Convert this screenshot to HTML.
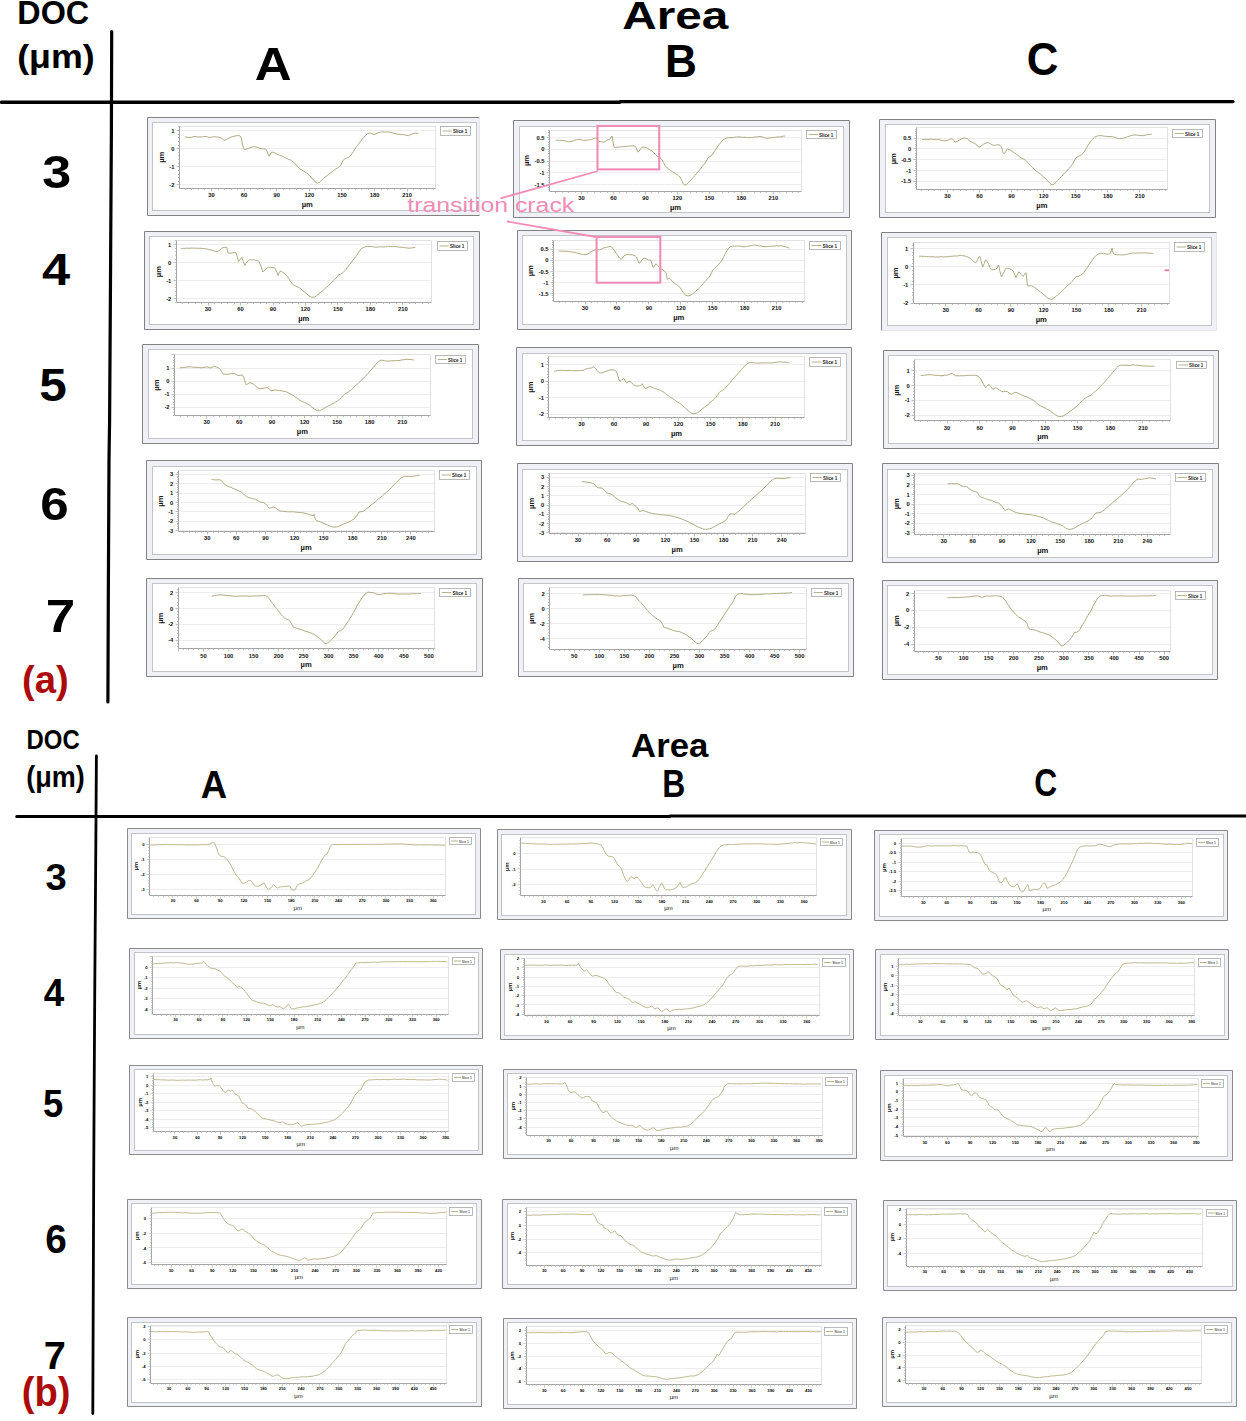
<!DOCTYPE html><html><head><meta charset="utf-8"><style>html,body{margin:0;padding:0;background:#fff;}svg{display:block;}</style></head><body>
<svg width="1246" height="1421" viewBox="0 0 1246 1421">
<rect width="1246" height="1421" fill="#fff"/>
<rect x="147.5" y="117.5" width="332.0" height="98.0" fill="#eff1f6" stroke="none"/>
<path d="M147.5 215.5V117.5H479.5" fill="none" stroke="#828282" stroke-width="1"/>
<path d="M479.5 117.5V215.5" fill="none" stroke="#e6e6e6" stroke-width="1"/>
<path d="M147.5 215.5H479.5" fill="none" stroke="#828282" stroke-width="1"/>
<rect x="152.5" y="122.5" width="324.0" height="88.0" fill="#fff" stroke="#c3c4c9" stroke-width="1"/>
<path d="M179.5 130.5H435.5" stroke="#ededed" stroke-width="1"/>
<path d="M179.5 148.5H435.5" stroke="#ededed" stroke-width="1"/>
<path d="M179.5 166.5H435.5" stroke="#ededed" stroke-width="1"/>
<path d="M179.5 184.5H435.5" stroke="#ededed" stroke-width="1"/>
<path d="M179.5 126.5H435.5V188.5" fill="none" stroke="#e2e2e2" stroke-width="1"/>
<path d="M179.5 126.5V188.5H435.5" fill="none" stroke="#a4a4a4" stroke-width="1"/>
<path d="M178.0 126.5H179.5M176.5 130.5H179.5M178.0 134.5H179.5M178.0 137.5H179.5M178.0 141.5H179.5M178.0 145.5H179.5M176.5 148.5H179.5M178.0 152.5H179.5M178.0 155.5H179.5M178.0 159.5H179.5M178.0 163.5H179.5M176.5 166.5H179.5M178.0 170.5H179.5M178.0 174.5H179.5M178.0 177.5H179.5M178.0 181.5H179.5M176.5 184.5H179.5M185.5 188.5V190.0M191.5 188.5V190.0M198.5 188.5V190.0M204.5 188.5V190.0M211.5 188.5V191.5M218.5 188.5V190.0M224.5 188.5V190.0M231.5 188.5V190.0M237.5 188.5V190.0M244.5 188.5V191.5M250.5 188.5V190.0M257.5 188.5V190.0M263.5 188.5V190.0M270.5 188.5V190.0M276.5 188.5V191.5M283.5 188.5V190.0M289.5 188.5V190.0M296.5 188.5V190.0M302.5 188.5V190.0M309.5 188.5V191.5M315.5 188.5V190.0M322.5 188.5V190.0M328.5 188.5V190.0M335.5 188.5V190.0M341.5 188.5V191.5M348.5 188.5V190.0M355.5 188.5V190.0M361.5 188.5V190.0M368.5 188.5V190.0M374.5 188.5V191.5M381.5 188.5V190.0M387.5 188.5V190.0M394.5 188.5V190.0M400.5 188.5V190.0M407.5 188.5V191.5M413.5 188.5V190.0M420.5 188.5V190.0M426.5 188.5V190.0M433.5 188.5V190.0" stroke="#b0b0b0" stroke-width="0.8"/>
<g font-family="Liberation Sans" font-size="5.8" fill="#111" font-weight="bold"><text x="174.5" y="132.6" text-anchor="end">1</text><text x="174.5" y="150.7" text-anchor="end">0</text><text x="174.5" y="168.9" text-anchor="end">-1</text><text x="174.5" y="187.0" text-anchor="end">-2</text><text x="211.5" y="196.6" text-anchor="middle">30</text><text x="244.1" y="196.6" text-anchor="middle">60</text><text x="276.7" y="196.6" text-anchor="middle">90</text><text x="309.4" y="196.6" text-anchor="middle">120</text><text x="342.0" y="196.6" text-anchor="middle">150</text><text x="374.6" y="196.6" text-anchor="middle">180</text><text x="407.2" y="196.6" text-anchor="middle">210</text></g>
<text x="307.2" y="206.5" text-anchor="middle" font-family="Liberation Sans" font-size="7.6" font-weight="bold" fill="#111">µm</text>
<text transform="translate(163.8,157.3) rotate(-90)" x="0" y="0" text-anchor="middle" font-family="Liberation Sans" font-size="7.6" font-weight="bold" fill="#1a1a1a">µm</text>
<rect x="440.5" y="126.5" width="30.0" height="9.0" fill="#fff" stroke="#a8a8a8" stroke-width="0.8"/>
<path d="M442.6 131.0H451.9" stroke="#aeaa80" stroke-width="0.9"/>
<text x="453.1" y="133.0" font-family="Liberation Sans" font-size="5.6" textLength="14.1" lengthAdjust="spacingAndGlyphs" font-weight="bold" fill="#1a1a1a">Slice 1</text>
<path d="M184.9 137.0 L186.2 137.0 L188.1 137.5 L190.0 137.5 L191.7 137.3 L193.3 136.7 L195.0 136.5 L196.7 136.7 L198.3 137.0 L200.0 137.0 L201.7 137.1 L203.3 136.5 L205.0 136.5 L206.7 136.6 L208.3 137.2 L210.0 137.3 L211.7 137.2 L213.3 136.8 L215.0 136.8 L216.7 136.8 L218.4 137.2 L220.0 137.5 L221.6 138.4 L223.1 139.6 L224.7 140.2 L226.4 139.7 L228.2 138.4 L230.0 137.5 L231.7 136.8 L233.4 136.5 L235.0 136.0 L237.1 135.6 L238.8 135.7 L240.1 135.9 L241.0 137.0 L241.5 139.1 L242.0 142.0 L242.8 145.9 L244.0 149.2 L245.7 149.5 L248.0 148.5 L249.4 147.9 L251.0 147.5 L252.7 146.8 L254.3 146.6 L256.3 147.1 L258.2 147.7 L260.0 148.5 L261.9 148.7 L263.7 148.9 L265.2 149.2 L266.3 149.7 L267.0 151.0 L268.0 153.8 L269.0 156.2 L270.0 155.0 L271.0 153.0 L272.1 152.2 L273.5 152.4 L274.8 152.9 L276.2 153.5 L278.0 154.5 L279.5 155.2 L281.3 155.8 L283.1 156.6 L285.0 157.5 L286.6 158.5 L288.4 159.3 L290.2 159.8 L291.9 160.9 L293.4 162.0 L295.5 164.0 L297.4 166.4 L299.2 168.4 L301.2 169.6 L303.1 170.9 L305.0 172.0 L306.6 173.0 L308.2 174.4 L310.0 176.0 L311.7 178.0 L313.5 180.0 L315.4 182.0 L317.3 183.0 L318.8 182.7 L320.2 181.8 L321.7 180.1 L323.3 178.6 L325.0 177.0 L326.6 175.9 L328.3 174.5 L330.1 173.2 L331.9 171.9 L333.6 170.6 L335.0 169.5 L337.3 168.1 L339.0 166.9 L340.5 165.6 L341.9 162.7 L343.4 159.9 L344.8 159.0 L346.5 158.1 L348.3 157.5 L349.9 156.2 L351.7 154.0 L353.4 151.5 L355.0 149.0 L356.6 146.6 L358.2 144.5 L360.0 142.0 L361.7 139.9 L363.7 137.6 L365.6 135.5 L367.2 133.8 L369.2 133.0 L370.8 133.1 L372.3 134.0 L374.0 134.5 L375.5 134.1 L377.3 133.0 L379.5 132.4 L381.1 132.0 L382.8 131.8 L384.7 132.1 L386.5 132.1 L388.2 132.0 L390.1 132.2 L391.9 132.9 L393.7 133.2 L395.4 133.8 L397.1 134.1 L398.7 134.2 L400.4 134.5 L402.0 134.5 L403.7 134.7 L405.4 135.1 L407.0 135.5 L408.4 135.7 L410.4 134.8 L412.0 134.0 L413.8 133.5 L415.6 133.1 L417.3 133.4 L418.5 133.6" fill="none" stroke="#aeaa80" stroke-width="1.0" stroke-linejoin="round"/>
<rect x="513.5" y="120.5" width="336.0" height="97.0" fill="#eff1f6" stroke="none"/>
<path d="M513.5 217.5V120.5H849.5" fill="none" stroke="#828282" stroke-width="1"/>
<path d="M849.5 120.5V217.5" fill="none" stroke="#828282" stroke-width="1"/>
<path d="M513.5 217.5H849.5" fill="none" stroke="#828282" stroke-width="1"/>
<rect x="519.5" y="126.5" width="324.0" height="86.0" fill="#fff" stroke="#c3c4c9" stroke-width="1"/>
<path d="M549.5 137.5H801.5" stroke="#ededed" stroke-width="1"/>
<path d="M549.5 149.5H801.5" stroke="#ededed" stroke-width="1"/>
<path d="M549.5 161.5H801.5" stroke="#ededed" stroke-width="1"/>
<path d="M549.5 172.5H801.5" stroke="#ededed" stroke-width="1"/>
<path d="M549.5 184.5H801.5" stroke="#ededed" stroke-width="1"/>
<path d="M549.5 130.5H801.5V191.5" fill="none" stroke="#e2e2e2" stroke-width="1"/>
<path d="M549.5 130.5V191.5H801.5" fill="none" stroke="#a4a4a4" stroke-width="1"/>
<path d="M548.0 130.5H549.5M548.0 132.5H549.5M548.0 135.5H549.5M546.5 137.5H549.5M548.0 139.5H549.5M548.0 142.5H549.5M548.0 144.5H549.5M548.0 146.5H549.5M546.5 149.5H549.5M548.0 151.5H549.5M548.0 153.5H549.5M548.0 156.5H549.5M548.0 158.5H549.5M546.5 161.5H549.5M548.0 163.5H549.5M548.0 165.5H549.5M548.0 168.5H549.5M548.0 170.5H549.5M546.5 172.5H549.5M548.0 175.5H549.5M548.0 177.5H549.5M548.0 180.5H549.5M548.0 182.5H549.5M546.5 184.5H549.5M548.0 187.5H549.5M548.0 189.5H549.5M555.5 191.5V193.0M562.5 191.5V193.0M568.5 191.5V193.0M575.5 191.5V193.0M581.5 191.5V194.5M587.5 191.5V193.0M594.5 191.5V193.0M600.5 191.5V193.0M607.5 191.5V193.0M613.5 191.5V194.5M619.5 191.5V193.0M626.5 191.5V193.0M632.5 191.5V193.0M639.5 191.5V193.0M645.5 191.5V194.5M651.5 191.5V193.0M658.5 191.5V193.0M664.5 191.5V193.0M671.5 191.5V193.0M677.5 191.5V194.5M683.5 191.5V193.0M690.5 191.5V193.0M696.5 191.5V193.0M702.5 191.5V193.0M709.5 191.5V194.5M715.5 191.5V193.0M722.5 191.5V193.0M728.5 191.5V193.0M734.5 191.5V193.0M741.5 191.5V194.5M747.5 191.5V193.0M754.5 191.5V193.0M760.5 191.5V193.0M766.5 191.5V193.0M773.5 191.5V194.5M779.5 191.5V193.0M786.5 191.5V193.0M792.5 191.5V193.0M798.5 191.5V193.0" stroke="#b0b0b0" stroke-width="0.8"/>
<g font-family="Liberation Sans" font-size="5.8" fill="#111" font-weight="bold"><text x="544.6" y="139.5" text-anchor="end">0.5</text><text x="544.6" y="151.3" text-anchor="end">0</text><text x="544.6" y="163.2" text-anchor="end">-0.5</text><text x="544.6" y="175.0" text-anchor="end">-1</text><text x="544.6" y="186.9" text-anchor="end">-1.5</text><text x="581.5" y="199.6" text-anchor="middle">30</text><text x="613.5" y="199.6" text-anchor="middle">60</text><text x="645.4" y="199.6" text-anchor="middle">90</text><text x="677.4" y="199.6" text-anchor="middle">120</text><text x="709.4" y="199.6" text-anchor="middle">150</text><text x="741.3" y="199.6" text-anchor="middle">180</text><text x="773.3" y="199.6" text-anchor="middle">210</text></g>
<text x="675.5" y="209.5" text-anchor="middle" font-family="Liberation Sans" font-size="7.6" font-weight="bold" fill="#111">µm</text>
<text transform="translate(529.0,160.5) rotate(-90)" x="0" y="0" text-anchor="middle" font-family="Liberation Sans" font-size="7.6" font-weight="bold" fill="#1a1a1a">µm</text>
<rect x="806.5" y="130.5" width="30.0" height="8.0" fill="#fff" stroke="#a8a8a8" stroke-width="0.8"/>
<path d="M808.6 134.5H817.9" stroke="#aeaa80" stroke-width="0.9"/>
<text x="819.1" y="136.5" font-family="Liberation Sans" font-size="5.6" textLength="14.1" lengthAdjust="spacingAndGlyphs" font-weight="bold" fill="#1a1a1a">Slice 1</text>
<path d="M555.5 140.2 L556.6 140.2 L558.2 140.2 L560.1 140.3 L562.0 140.5 L563.5 140.6 L565.1 141.1 L566.7 141.3 L568.4 141.6 L570.0 141.5 L571.6 141.2 L573.2 140.8 L574.9 140.2 L576.5 139.7 L578.0 139.5 L579.8 139.5 L581.6 139.8 L583.3 140.4 L585.0 140.3 L586.8 140.3 L588.7 139.9 L590.5 139.6 L592.0 139.2 L594.2 138.4 L595.8 138.1 L597.2 139.3 L598.7 141.0 L600.3 141.7 L602.2 142.0 L603.8 142.1 L605.3 141.5 L606.7 140.3 L608.6 139.5 L610.3 138.8 L611.3 136.7 L612.1 136.0 L612.9 141.3 L613.9 146.8 L615.6 147.6 L618.0 147.0 L619.5 147.0 L621.3 146.7 L623.2 146.7 L625.0 146.5 L626.8 146.4 L628.7 146.1 L630.5 145.9 L632.0 146.0 L634.0 145.8 L635.5 146.5 L636.8 149.5 L638.1 152.2 L639.9 150.0 L642.1 147.2 L643.9 147.2 L645.9 147.6 L647.9 148.6 L649.9 149.8 L651.9 151.0 L653.6 152.6 L655.5 154.5 L657.3 156.2 L659.5 157.3 L661.6 159.1 L663.4 162.4 L665.2 165.6 L666.8 167.6 L668.8 169.2 L670.2 170.2 L671.8 171.3 L673.5 172.4 L675.0 173.5 L676.8 174.4 L678.4 175.6 L680.0 177.0 L681.5 179.8 L682.9 183.1 L684.5 185.0 L686.2 184.8 L688.0 183.1 L690.0 181.0 L691.6 179.4 L693.3 177.4 L695.1 175.2 L697.0 173.0 L698.6 171.2 L700.4 169.1 L702.1 166.6 L703.7 164.6 L705.0 163.0 L706.8 160.1 L708.0 158.0 L709.8 156.6 L712.0 155.0 L713.4 153.0 L714.9 150.7 L716.5 148.2 L718.0 146.0 L719.8 143.6 L721.4 141.6 L723.0 140.0 L725.0 138.8 L727.0 138.0 L728.5 137.8 L730.1 137.6 L732.0 137.5 L733.4 137.6 L734.9 137.2 L736.5 137.1 L738.2 136.9 L740.0 137.0 L741.6 137.2 L743.2 137.3 L744.9 137.2 L746.6 137.5 L748.3 137.6 L750.0 137.5 L751.7 137.5 L753.5 137.3 L755.3 136.9 L757.0 136.9 L758.6 136.5 L760.0 136.5 L762.0 136.9 L763.5 137.3 L765.0 138.0 L766.6 138.3 L768.1 138.0 L770.0 138.0 L771.4 137.7 L773.0 137.7 L774.7 137.3 L776.4 137.1 L778.0 137.0 L780.0 136.9 L782.0 136.5 L783.8 136.0 L785.0 136.0" fill="none" stroke="#aeaa80" stroke-width="1.0" stroke-linejoin="round"/>
<rect x="879.5" y="119.5" width="336.0" height="98.0" fill="#eff1f6" stroke="none"/>
<path d="M879.5 217.5V119.5H1215.5" fill="none" stroke="#828282" stroke-width="1"/>
<path d="M1215.5 119.5V217.5" fill="none" stroke="#828282" stroke-width="1"/>
<path d="M879.5 217.5H1215.5" fill="none" stroke="#828282" stroke-width="1"/>
<rect x="885.5" y="124.5" width="324.0" height="88.0" fill="#fff" stroke="#c3c4c9" stroke-width="1"/>
<path d="M916.5 138.5H1167.5" stroke="#ededed" stroke-width="1"/>
<path d="M916.5 148.5H1167.5" stroke="#ededed" stroke-width="1"/>
<path d="M916.5 159.5H1167.5" stroke="#ededed" stroke-width="1"/>
<path d="M916.5 170.5H1167.5" stroke="#ededed" stroke-width="1"/>
<path d="M916.5 181.5H1167.5" stroke="#ededed" stroke-width="1"/>
<path d="M916.5 127.5H1167.5V189.5" fill="none" stroke="#e2e2e2" stroke-width="1"/>
<path d="M916.5 127.5V189.5H1167.5" fill="none" stroke="#a4a4a4" stroke-width="1"/>
<path d="M915.0 129.5H916.5M915.0 131.5H916.5M915.0 133.5H916.5M915.0 135.5H916.5M913.5 138.5H916.5M915.0 140.5H916.5M915.0 142.5H916.5M915.0 144.5H916.5M915.0 146.5H916.5M913.5 148.5H916.5M915.0 150.5H916.5M915.0 153.5H916.5M915.0 155.5H916.5M915.0 157.5H916.5M913.5 159.5H916.5M915.0 161.5H916.5M915.0 163.5H916.5M915.0 166.5H916.5M915.0 168.5H916.5M913.5 170.5H916.5M915.0 172.5H916.5M915.0 174.5H916.5M915.0 176.5H916.5M915.0 179.5H916.5M913.5 181.5H916.5M915.0 183.5H916.5M915.0 185.5H916.5M915.0 187.5H916.5M921.5 189.5V191.0M928.5 189.5V191.0M934.5 189.5V191.0M940.5 189.5V191.0M947.5 189.5V192.5M953.5 189.5V191.0M960.5 189.5V191.0M966.5 189.5V191.0M973.5 189.5V191.0M979.5 189.5V192.5M985.5 189.5V191.0M992.5 189.5V191.0M998.5 189.5V191.0M1005.5 189.5V191.0M1011.5 189.5V192.5M1017.5 189.5V191.0M1024.5 189.5V191.0M1030.5 189.5V191.0M1037.5 189.5V191.0M1043.5 189.5V192.5M1050.5 189.5V191.0M1056.5 189.5V191.0M1062.5 189.5V191.0M1069.5 189.5V191.0M1075.5 189.5V192.5M1082.5 189.5V191.0M1088.5 189.5V191.0M1094.5 189.5V191.0M1101.5 189.5V191.0M1107.5 189.5V192.5M1114.5 189.5V191.0M1120.5 189.5V191.0M1127.5 189.5V191.0M1133.5 189.5V191.0M1139.5 189.5V192.5M1146.5 189.5V191.0M1152.5 189.5V191.0M1159.5 189.5V191.0M1165.5 189.5V191.0" stroke="#b0b0b0" stroke-width="0.8"/>
<g font-family="Liberation Sans" font-size="5.8" fill="#111" font-weight="bold"><text x="911.2" y="140.1" text-anchor="end">0.5</text><text x="911.2" y="150.9" text-anchor="end">0</text><text x="911.2" y="161.7" text-anchor="end">-0.5</text><text x="911.2" y="172.6" text-anchor="end">-1</text><text x="911.2" y="183.4" text-anchor="end">-1.5</text><text x="947.4" y="198.0" text-anchor="middle">30</text><text x="979.5" y="198.0" text-anchor="middle">60</text><text x="1011.6" y="198.0" text-anchor="middle">90</text><text x="1043.7" y="198.0" text-anchor="middle">120</text><text x="1075.7" y="198.0" text-anchor="middle">150</text><text x="1107.8" y="198.0" text-anchor="middle">180</text><text x="1139.9" y="198.0" text-anchor="middle">210</text></g>
<text x="1041.9" y="207.9" text-anchor="middle" font-family="Liberation Sans" font-size="7.6" font-weight="bold" fill="#111">µm</text>
<text transform="translate(895.6,158.7) rotate(-90)" x="0" y="0" text-anchor="middle" font-family="Liberation Sans" font-size="7.6" font-weight="bold" fill="#1a1a1a">µm</text>
<rect x="1172.5" y="129.5" width="30.0" height="8.0" fill="#fff" stroke="#a8a8a8" stroke-width="0.8"/>
<path d="M1174.6 133.5H1183.9" stroke="#aeaa80" stroke-width="0.9"/>
<text x="1185.1" y="135.5" font-family="Liberation Sans" font-size="5.6" textLength="14.1" lengthAdjust="spacingAndGlyphs" font-weight="bold" fill="#1a1a1a">Slice 1</text>
<path d="M922.0 139.4 L923.0 139.4 L924.4 139.4 L926.0 139.3 L927.8 139.5 L929.7 139.2 L931.6 139.1 L933.4 139.5 L935.1 139.4 L936.5 139.4 L938.6 139.5 L940.4 140.0 L942.0 140.4 L943.6 140.7 L945.1 140.9 L947.1 140.4 L949.1 139.8 L950.8 139.0 L952.3 138.9 L953.9 140.6 L955.2 142.3 L957.2 141.4 L959.6 140.0 L961.4 138.9 L963.3 138.1 L965.3 138.0 L967.3 138.8 L969.3 140.6 L971.1 141.8 L973.4 142.8 L975.5 143.8 L977.4 145.9 L979.2 147.2 L981.2 146.1 L983.3 144.4 L985.0 143.4 L986.8 142.8 L988.5 142.6 L990.5 143.8 L992.8 145.2 L994.5 145.3 L996.5 145.0 L998.5 144.9 L1000.0 145.2 L1001.5 147.2 L1002.3 150.1 L1003.3 152.8 L1004.4 153.9 L1005.7 151.5 L1007.2 149.0 L1009.3 149.5 L1011.6 151.0 L1013.8 152.5 L1015.9 153.9 L1018.0 155.5 L1020.2 157.4 L1022.1 158.5 L1024.1 159.4 L1026.0 160.5 L1028.3 163.1 L1030.4 165.5 L1032.5 167.5 L1034.7 169.8 L1036.5 171.2 L1038.4 172.6 L1040.5 174.1 L1042.3 175.8 L1044.2 177.6 L1046.1 179.1 L1047.7 180.8 L1050.0 183.6 L1052.0 184.8 L1053.8 184.3 L1056.4 181.9 L1057.8 180.4 L1059.5 178.6 L1061.4 176.7 L1063.2 174.7 L1065.0 172.8 L1066.5 171.2 L1068.8 168.6 L1070.7 166.5 L1072.3 164.6 L1073.9 161.5 L1075.7 158.2 L1077.0 157.3 L1078.5 156.4 L1080.2 155.5 L1081.8 154.5 L1083.2 153.3 L1085.0 150.6 L1086.6 147.9 L1088.1 145.2 L1089.8 142.7 L1091.4 140.6 L1093.1 138.6 L1094.7 137.1 L1096.4 136.4 L1098.3 135.7 L1099.9 135.7 L1101.7 135.7 L1103.6 136.1 L1105.5 136.3 L1107.2 136.4 L1109.0 136.6 L1110.9 136.6 L1112.6 136.7 L1114.1 137.1 L1116.5 137.8 L1118.5 138.6 L1120.2 138.7 L1122.1 138.3 L1124.3 138.0 L1125.8 137.4 L1127.5 136.7 L1129.3 136.2 L1131.1 135.6 L1132.9 135.1 L1134.7 134.9 L1136.5 135.0 L1138.3 135.3 L1140.0 135.5 L1141.6 135.7 L1143.8 135.5 L1145.7 135.1 L1147.4 134.5 L1149.9 134.3 L1151.7 134.0" fill="none" stroke="#aeaa80" stroke-width="1.0" stroke-linejoin="round"/>
<rect x="144.5" y="231.5" width="335.0" height="98.0" fill="#eff1f6" stroke="none"/>
<path d="M144.5 329.5V231.5H479.5" fill="none" stroke="#828282" stroke-width="1"/>
<path d="M479.5 231.5V329.5" fill="none" stroke="#828282" stroke-width="1"/>
<path d="M144.5 329.5H479.5" fill="none" stroke="#828282" stroke-width="1"/>
<rect x="149.5" y="236.5" width="324.0" height="88.0" fill="#fff" stroke="#c3c4c9" stroke-width="1"/>
<path d="M176.5 244.5H431.5" stroke="#ededed" stroke-width="1"/>
<path d="M176.5 262.5H431.5" stroke="#ededed" stroke-width="1"/>
<path d="M176.5 280.5H431.5" stroke="#ededed" stroke-width="1"/>
<path d="M176.5 298.5H431.5" stroke="#ededed" stroke-width="1"/>
<path d="M176.5 240.5H431.5V302.5" fill="none" stroke="#e2e2e2" stroke-width="1"/>
<path d="M176.5 240.5V302.5H431.5" fill="none" stroke="#a4a4a4" stroke-width="1"/>
<path d="M175.0 240.5H176.5M173.5 244.5H176.5M175.0 248.5H176.5M175.0 251.5H176.5M175.0 255.5H176.5M175.0 259.5H176.5M173.5 262.5H176.5M175.0 266.5H176.5M175.0 269.5H176.5M175.0 273.5H176.5M175.0 277.5H176.5M173.5 280.5H176.5M175.0 284.5H176.5M175.0 287.5H176.5M175.0 291.5H176.5M175.0 295.5H176.5M173.5 298.5H176.5M175.0 302.5H176.5M182.5 302.5V304.0M188.5 302.5V304.0M195.5 302.5V304.0M201.5 302.5V304.0M208.5 302.5V305.5M214.5 302.5V304.0M221.5 302.5V304.0M227.5 302.5V304.0M234.5 302.5V304.0M240.5 302.5V305.5M247.5 302.5V304.0M253.5 302.5V304.0M260.5 302.5V304.0M266.5 302.5V304.0M273.5 302.5V305.5M279.5 302.5V304.0M285.5 302.5V304.0M292.5 302.5V304.0M298.5 302.5V304.0M305.5 302.5V305.5M311.5 302.5V304.0M318.5 302.5V304.0M324.5 302.5V304.0M331.5 302.5V304.0M337.5 302.5V305.5M344.5 302.5V304.0M350.5 302.5V304.0M357.5 302.5V304.0M363.5 302.5V304.0M370.5 302.5V305.5M376.5 302.5V304.0M383.5 302.5V304.0M389.5 302.5V304.0M396.5 302.5V304.0M402.5 302.5V305.5M409.5 302.5V304.0M415.5 302.5V304.0M422.5 302.5V304.0M428.5 302.5V304.0" stroke="#b0b0b0" stroke-width="0.8"/>
<g font-family="Liberation Sans" font-size="5.8" fill="#111" font-weight="bold"><text x="171.3" y="246.7" text-anchor="end">1</text><text x="171.3" y="264.7" text-anchor="end">0</text><text x="171.3" y="282.8" text-anchor="end">-1</text><text x="171.3" y="300.8" text-anchor="end">-2</text><text x="208.1" y="311.0" text-anchor="middle">30</text><text x="240.6" y="311.0" text-anchor="middle">60</text><text x="273.0" y="311.0" text-anchor="middle">90</text><text x="305.4" y="311.0" text-anchor="middle">120</text><text x="337.9" y="311.0" text-anchor="middle">150</text><text x="370.4" y="311.0" text-anchor="middle">180</text><text x="402.8" y="311.0" text-anchor="middle">210</text></g>
<text x="303.8" y="320.9" text-anchor="middle" font-family="Liberation Sans" font-size="7.6" font-weight="bold" fill="#111">µm</text>
<text transform="translate(160.6,271.6) rotate(-90)" x="0" y="0" text-anchor="middle" font-family="Liberation Sans" font-size="7.6" font-weight="bold" fill="#1a1a1a">µm</text>
<rect x="437.5" y="241.5" width="30.0" height="9.0" fill="#fff" stroke="#a8a8a8" stroke-width="0.8"/>
<path d="M439.6 246.0H448.9" stroke="#aeaa80" stroke-width="0.9"/>
<text x="450.1" y="248.0" font-family="Liberation Sans" font-size="5.6" textLength="14.1" lengthAdjust="spacingAndGlyphs" font-weight="bold" fill="#1a1a1a">Slice 1</text>
<path d="M181.2 248.7 L182.2 248.6 L183.6 248.4 L185.2 248.3 L187.0 248.1 L188.9 248.3 L190.9 248.1 L192.8 248.1 L194.3 248.2 L195.9 248.1 L197.6 248.3 L199.2 248.3 L200.9 248.3 L202.6 248.5 L204.2 248.6 L205.8 249.0 L207.2 249.0 L209.2 249.6 L211.1 250.0 L212.9 250.6 L214.5 251.1 L216.0 251.4 L217.3 251.6 L219.8 250.1 L221.7 248.1 L223.5 247.5 L225.4 247.3 L226.9 247.5 L227.3 250.1 L228.0 253.0 L229.3 253.2 L231.0 253.1 L232.9 252.6 L234.7 252.6 L236.1 253.0 L237.5 257.6 L238.4 261.7 L240.1 259.6 L241.9 257.4 L243.3 261.6 L244.8 265.5 L246.2 263.2 L248.6 260.2 L249.8 259.9 L251.3 259.8 L253.0 259.7 L254.8 260.1 L256.5 260.6 L258.0 260.9 L259.2 261.7 L261.3 267.1 L262.7 271.8 L264.0 271.2 L265.5 269.4 L267.3 267.8 L268.7 267.3 L270.4 267.5 L272.2 267.4 L273.8 267.6 L275.1 268.3 L276.9 272.2 L278.0 275.6 L278.8 273.5 L280.0 271.2 L281.4 271.4 L283.1 272.6 L285.0 274.1 L286.7 275.6 L288.6 278.4 L290.5 281.6 L292.5 284.2 L294.1 285.4 L295.7 286.2 L297.5 286.8 L299.7 288.0 L301.0 288.9 L302.5 290.4 L304.1 291.8 L305.7 293.0 L307.3 294.4 L308.9 295.8 L310.4 296.5 L311.8 297.2 L313.6 297.2 L315.0 296.9 L316.4 295.9 L317.9 294.5 L319.9 292.9 L321.3 291.8 L322.9 290.6 L324.6 289.0 L326.5 287.3 L328.3 285.8 L330.1 283.9 L331.7 282.4 L333.2 280.9 L334.4 279.9 L337.2 276.8 L338.7 274.7 L340.4 274.4 L343.0 272.7 L344.3 271.2 L345.9 269.5 L347.6 267.2 L349.4 264.9 L351.3 262.6 L353.0 260.1 L354.6 258.2 L356.4 255.8 L358.0 253.1 L359.5 250.9 L361.2 248.7 L363.3 247.5 L364.6 247.2 L366.1 246.6 L367.6 246.4 L369.1 246.6 L370.8 246.5 L372.5 246.7 L374.2 247.0 L375.9 247.1 L377.7 247.0 L379.2 246.8 L380.7 246.9 L382.3 246.8 L384.0 247.0 L385.6 246.7 L387.3 246.6 L388.9 246.7 L390.5 246.5 L392.1 246.7 L393.6 246.5 L395.0 246.7 L396.9 246.7 L398.7 247.1 L400.4 247.2 L402.1 247.3 L403.7 247.5 L405.3 247.7 L406.7 247.9 L408.0 248.1 L410.4 248.1 L412.5 247.8 L414.1 247.5 L415.3 247.5" fill="none" stroke="#aeaa80" stroke-width="1.0" stroke-linejoin="round"/>
<rect x="517.5" y="230.5" width="334.0" height="99.0" fill="#eff1f6" stroke="none"/>
<path d="M517.5 329.5V230.5H851.5" fill="none" stroke="#828282" stroke-width="1"/>
<path d="M851.5 230.5V329.5" fill="none" stroke="#828282" stroke-width="1"/>
<path d="M517.5 329.5H851.5" fill="none" stroke="#828282" stroke-width="1"/>
<rect x="522.5" y="235.5" width="324.0" height="89.0" fill="#fff" stroke="#c3c4c9" stroke-width="1"/>
<path d="M553.5 249.5H804.5" stroke="#ededed" stroke-width="1"/>
<path d="M553.5 260.5H804.5" stroke="#ededed" stroke-width="1"/>
<path d="M553.5 271.5H804.5" stroke="#ededed" stroke-width="1"/>
<path d="M553.5 282.5H804.5" stroke="#ededed" stroke-width="1"/>
<path d="M553.5 293.5H804.5" stroke="#ededed" stroke-width="1"/>
<path d="M553.5 240.5H804.5V301.5" fill="none" stroke="#e2e2e2" stroke-width="1"/>
<path d="M553.5 240.5V301.5H804.5" fill="none" stroke="#a4a4a4" stroke-width="1"/>
<path d="M552.0 240.5H553.5M552.0 242.5H553.5M552.0 244.5H553.5M552.0 247.5H553.5M550.5 249.5H553.5M552.0 251.5H553.5M552.0 253.5H553.5M552.0 255.5H553.5M552.0 258.5H553.5M550.5 260.5H553.5M552.0 262.5H553.5M552.0 264.5H553.5M552.0 266.5H553.5M552.0 269.5H553.5M550.5 271.5H553.5M552.0 273.5H553.5M552.0 275.5H553.5M552.0 278.5H553.5M552.0 280.5H553.5M550.5 282.5H553.5M552.0 284.5H553.5M552.0 286.5H553.5M552.0 289.5H553.5M552.0 291.5H553.5M550.5 293.5H553.5M552.0 295.5H553.5M552.0 297.5H553.5M552.0 300.5H553.5M559.5 301.5V303.0M565.5 301.5V303.0M572.5 301.5V303.0M578.5 301.5V303.0M585.5 301.5V304.5M591.5 301.5V303.0M597.5 301.5V303.0M604.5 301.5V303.0M610.5 301.5V303.0M616.5 301.5V304.5M623.5 301.5V303.0M629.5 301.5V303.0M636.5 301.5V303.0M642.5 301.5V303.0M648.5 301.5V304.5M655.5 301.5V303.0M661.5 301.5V303.0M668.5 301.5V303.0M674.5 301.5V303.0M680.5 301.5V304.5M687.5 301.5V303.0M693.5 301.5V303.0M699.5 301.5V303.0M706.5 301.5V303.0M712.5 301.5V304.5M719.5 301.5V303.0M725.5 301.5V303.0M731.5 301.5V303.0M738.5 301.5V303.0M744.5 301.5V304.5M751.5 301.5V303.0M757.5 301.5V303.0M763.5 301.5V303.0M770.5 301.5V303.0M776.5 301.5V304.5M782.5 301.5V303.0M789.5 301.5V303.0M795.5 301.5V303.0M802.5 301.5V303.0" stroke="#b0b0b0" stroke-width="0.8"/>
<g font-family="Liberation Sans" font-size="5.8" fill="#111" font-weight="bold"><text x="548.5" y="251.4" text-anchor="end">0.5</text><text x="548.5" y="262.4" text-anchor="end">0</text><text x="548.5" y="273.5" text-anchor="end">-0.5</text><text x="548.5" y="284.5" text-anchor="end">-1</text><text x="548.5" y="295.6" text-anchor="end">-1.5</text><text x="585.0" y="310.2" text-anchor="middle">30</text><text x="616.9" y="310.2" text-anchor="middle">60</text><text x="648.9" y="310.2" text-anchor="middle">90</text><text x="680.8" y="310.2" text-anchor="middle">120</text><text x="712.7" y="310.2" text-anchor="middle">150</text><text x="744.7" y="310.2" text-anchor="middle">180</text><text x="776.6" y="310.2" text-anchor="middle">210</text></g>
<text x="678.8" y="320.1" text-anchor="middle" font-family="Liberation Sans" font-size="7.6" font-weight="bold" fill="#111">µm</text>
<text transform="translate(532.9,270.8) rotate(-90)" x="0" y="0" text-anchor="middle" font-family="Liberation Sans" font-size="7.6" font-weight="bold" fill="#1a1a1a">µm</text>
<rect x="809.5" y="241.5" width="31.0" height="8.0" fill="#fff" stroke="#a8a8a8" stroke-width="0.8"/>
<path d="M811.7 245.5H821.3" stroke="#aeaa80" stroke-width="0.9"/>
<text x="822.5" y="247.5" font-family="Liberation Sans" font-size="5.6" textLength="14.6" lengthAdjust="spacingAndGlyphs" font-weight="bold" fill="#1a1a1a">Slice 1</text>
<path d="M558.5 251.0 L559.5 251.1 L560.8 251.2 L562.4 251.2 L564.2 251.4 L566.0 251.3 L567.9 251.3 L569.8 251.8 L571.5 251.9 L573.0 252.2 L574.6 252.4 L576.2 252.8 L577.8 253.3 L579.4 253.6 L580.9 254.0 L582.4 254.5 L583.8 254.6 L585.0 254.7 L587.3 254.2 L589.2 253.1 L590.8 251.8 L592.2 251.1 L594.2 250.2 L595.8 250.0 L597.6 249.7 L599.5 249.7 L601.7 249.0 L603.8 247.9 L605.2 247.6 L606.7 247.5 L608.7 246.6 L611.0 246.4 L612.6 248.1 L614.4 250.6 L616.1 253.3 L617.9 255.7 L619.6 258.1 L621.1 259.4 L622.6 258.1 L624.0 255.8 L626.0 254.8 L628.4 254.6 L630.3 254.7 L632.4 254.9 L634.1 255.5 L635.4 256.0 L636.3 256.9 L637.7 260.4 L639.2 263.4 L641.0 261.4 L642.8 258.7 L643.9 258.2 L645.0 258.3 L646.8 259.1 L648.6 260.2 L649.8 260.0 L650.8 260.2 L652.0 264.3 L653.3 267.7 L654.5 266.1 L655.8 263.8 L657.5 265.2 L659.4 267.7 L661.2 268.9 L663.0 269.9 L664.6 271.2 L665.9 272.8 L666.7 276.5 L667.4 279.3 L668.2 279.0 L669.2 277.9 L670.4 278.9 L671.7 280.7 L673.3 282.4 L675.0 283.6 L676.4 284.3 L678.4 285.7 L679.8 287.3 L681.4 289.7 L683.2 292.4 L685.1 294.7 L687.0 295.8 L688.6 295.8 L690.1 295.3 L691.8 294.3 L693.5 293.3 L695.2 291.7 L697.1 290.0 L698.7 288.7 L700.4 286.8 L702.2 284.9 L704.0 282.6 L705.8 280.7 L707.5 278.8 L708.9 277.2 L710.1 275.6 L711.9 272.1 L713.0 269.8 L714.5 268.4 L716.3 266.8 L718.3 264.8 L720.3 262.6 L722.0 260.0 L723.7 256.7 L725.5 253.4 L727.2 250.2 L728.9 248.1 L730.8 246.5 L732.5 246.0 L734.3 246.2 L736.2 246.1 L737.8 245.9 L739.5 246.2 L741.2 246.3 L743.0 246.8 L744.8 246.7 L746.4 246.6 L748.1 246.1 L749.8 245.8 L751.5 245.5 L753.2 245.1 L754.9 245.2 L756.5 245.4 L758.1 245.7 L759.7 246.0 L761.3 246.1 L763.1 246.5 L765.0 246.7 L766.4 246.7 L768.0 246.5 L769.7 246.4 L771.4 246.1 L773.1 246.1 L774.8 246.1 L776.5 245.7 L778.1 246.0 L779.5 245.8 L781.6 245.8 L783.6 246.3 L785.5 246.7 L787.1 247.3 L788.6 247.7 L789.6 248.1" fill="none" stroke="#aeaa80" stroke-width="1.0" stroke-linejoin="round"/>
<rect x="881.5" y="232.5" width="335.0" height="98.0" fill="#eff1f6" stroke="none"/>
<path d="M881.5 330.5V232.5H1216.5" fill="none" stroke="#828282" stroke-width="1"/>
<path d="M1216.5 232.5V330.5" fill="none" stroke="#e6e6e6" stroke-width="1"/>
<path d="M881.5 330.5H1216.5" fill="none" stroke="#e6e6e6" stroke-width="1"/>
<rect x="887.5" y="237.5" width="324.0" height="88.0" fill="#fff" stroke="#c3c4c9" stroke-width="1"/>
<path d="M913.5 248.5H1169.5" stroke="#ededed" stroke-width="1"/>
<path d="M913.5 266.5H1169.5" stroke="#ededed" stroke-width="1"/>
<path d="M913.5 284.5H1169.5" stroke="#ededed" stroke-width="1"/>
<path d="M913.5 303.5H1169.5" stroke="#ededed" stroke-width="1"/>
<path d="M913.5 242.5H1169.5V303.5" fill="none" stroke="#e2e2e2" stroke-width="1"/>
<path d="M913.5 242.5V303.5H1169.5" fill="none" stroke="#a4a4a4" stroke-width="1"/>
<path d="M912.0 245.5H913.5M910.5 248.5H913.5M912.0 252.5H913.5M912.0 255.5H913.5M912.0 259.5H913.5M912.0 263.5H913.5M910.5 266.5H913.5M912.0 270.5H913.5M912.0 274.5H913.5M912.0 277.5H913.5M912.0 281.5H913.5M910.5 284.5H913.5M912.0 288.5H913.5M912.0 292.5H913.5M912.0 295.5H913.5M912.0 299.5H913.5M910.5 303.5H913.5M919.5 303.5V305.0M926.5 303.5V305.0M932.5 303.5V305.0M939.5 303.5V305.0M945.5 303.5V306.5M952.5 303.5V305.0M958.5 303.5V305.0M965.5 303.5V305.0M971.5 303.5V305.0M978.5 303.5V306.5M984.5 303.5V305.0M991.5 303.5V305.0M997.5 303.5V305.0M1004.5 303.5V305.0M1010.5 303.5V306.5M1017.5 303.5V305.0M1024.5 303.5V305.0M1030.5 303.5V305.0M1037.5 303.5V305.0M1043.5 303.5V306.5M1050.5 303.5V305.0M1056.5 303.5V305.0M1063.5 303.5V305.0M1069.5 303.5V305.0M1076.5 303.5V306.5M1082.5 303.5V305.0M1089.5 303.5V305.0M1095.5 303.5V305.0M1102.5 303.5V305.0M1108.5 303.5V306.5M1115.5 303.5V305.0M1122.5 303.5V305.0M1128.5 303.5V305.0M1135.5 303.5V305.0M1141.5 303.5V306.5M1148.5 303.5V305.0M1154.5 303.5V305.0M1161.5 303.5V305.0M1167.5 303.5V305.0" stroke="#b0b0b0" stroke-width="0.8"/>
<g font-family="Liberation Sans" font-size="5.8" fill="#111" font-weight="bold"><text x="908.3" y="250.8" text-anchor="end">1</text><text x="908.3" y="268.9" text-anchor="end">0</text><text x="908.3" y="287.0" text-anchor="end">-1</text><text x="908.3" y="305.1" text-anchor="end">-2</text><text x="945.7" y="312.2" text-anchor="middle">30</text><text x="978.4" y="312.2" text-anchor="middle">60</text><text x="1011.0" y="312.2" text-anchor="middle">90</text><text x="1043.7" y="312.2" text-anchor="middle">120</text><text x="1076.3" y="312.2" text-anchor="middle">150</text><text x="1108.9" y="312.2" text-anchor="middle">180</text><text x="1141.6" y="312.2" text-anchor="middle">210</text></g>
<text x="1041.2" y="322.1" text-anchor="middle" font-family="Liberation Sans" font-size="7.6" font-weight="bold" fill="#111">µm</text>
<text transform="translate(897.6,273.0) rotate(-90)" x="0" y="0" text-anchor="middle" font-family="Liberation Sans" font-size="7.6" font-weight="bold" fill="#1a1a1a">µm</text>
<rect x="1174.5" y="242.5" width="30.0" height="9.0" fill="#fff" stroke="#a8a8a8" stroke-width="0.8"/>
<path d="M1176.6 247.0H1185.9" stroke="#aeaa80" stroke-width="0.9"/>
<text x="1187.1" y="249.0" font-family="Liberation Sans" font-size="5.6" textLength="14.1" lengthAdjust="spacingAndGlyphs" font-weight="bold" fill="#1a1a1a">Slice 1</text>
<path d="M919.1 256.2 L920.1 256.3 L921.4 256.2 L923.0 256.4 L924.7 256.3 L926.6 256.7 L928.5 256.6 L930.3 256.9 L932.0 256.6 L933.6 256.8 L935.3 257.0 L936.9 256.9 L938.4 257.0 L939.9 256.8 L941.5 256.7 L943.2 257.0 L945.1 256.8 L946.5 256.7 L948.0 256.7 L949.7 256.3 L951.4 256.4 L953.2 256.1 L954.9 256.0 L956.7 256.0 L958.3 255.8 L959.9 255.4 L961.3 255.4 L962.5 255.6 L965.1 256.1 L966.8 256.5 L968.2 257.3 L969.7 258.2 L971.9 259.9 L973.9 261.8 L975.5 262.6 L976.7 261.8 L977.5 259.7 L978.6 257.0 L979.8 256.2 L981.2 261.7 L982.7 266.9 L984.2 263.7 L985.6 259.7 L987.0 261.2 L988.5 264.0 L989.8 267.4 L991.4 269.8 L993.2 269.7 L995.4 269.3 L997.1 268.3 L998.0 265.8 L998.6 264.9 L999.9 271.4 L1001.5 277.0 L1003.4 273.3 L1005.8 268.3 L1007.5 268.2 L1009.5 268.4 L1011.4 269.7 L1013.0 270.7 L1014.7 274.5 L1015.9 277.6 L1017.3 274.7 L1018.8 271.8 L1020.9 274.2 L1023.1 276.4 L1024.7 274.1 L1026.0 272.7 L1026.7 279.1 L1027.5 285.7 L1029.0 286.1 L1031.8 285.7 L1033.1 286.5 L1034.8 287.7 L1036.6 289.0 L1038.5 290.5 L1040.3 291.9 L1042.0 293.1 L1043.4 294.3 L1045.7 296.3 L1047.4 297.9 L1049.1 298.7 L1050.6 299.3 L1052.1 299.2 L1054.9 297.2 L1056.1 296.3 L1057.5 294.9 L1059.2 293.6 L1061.0 292.1 L1062.8 290.3 L1064.7 288.4 L1066.5 286.7 L1068.3 285.0 L1069.8 283.8 L1071.2 282.5 L1072.3 281.3 L1074.7 278.2 L1075.7 277.0 L1077.1 276.5 L1078.8 276.1 L1080.6 275.3 L1082.4 274.1 L1084.1 272.1 L1085.9 269.6 L1087.7 266.9 L1089.6 264.0 L1091.2 261.7 L1092.8 259.4 L1094.5 257.4 L1096.4 255.2 L1098.3 253.9 L1099.9 253.4 L1101.6 253.3 L1103.5 253.6 L1105.4 253.7 L1107.1 254.2 L1108.6 254.2 L1109.8 253.9 L1111.6 250.6 L1112.1 248.1 L1112.3 250.7 L1113.6 253.9 L1114.7 254.5 L1116.1 254.7 L1117.7 254.8 L1119.5 254.8 L1121.2 254.9 L1122.9 254.7 L1124.3 254.8 L1126.3 254.6 L1127.9 254.1 L1129.6 253.6 L1131.5 253.3 L1133.0 253.0 L1134.6 253.2 L1136.3 253.2 L1138.0 252.9 L1139.8 253.0 L1141.6 253.0 L1143.3 252.8 L1145.1 252.9 L1147.1 253.2 L1149.0 253.2 L1150.7 253.1 L1152.1 253.5 L1153.2 253.3" fill="none" stroke="#aeaa80" stroke-width="1.0" stroke-linejoin="round"/>
<rect x="1164.5" y="269.5" width="4.5" height="1.6" fill="#e86a9a"/>
<rect x="142.5" y="344.5" width="336.0" height="99.0" fill="#eff1f6" stroke="none"/>
<path d="M142.5 443.5V344.5H478.5" fill="none" stroke="#828282" stroke-width="1"/>
<path d="M478.5 344.5V443.5" fill="none" stroke="#828282" stroke-width="1"/>
<path d="M142.5 443.5H478.5" fill="none" stroke="#828282" stroke-width="1"/>
<rect x="148.5" y="349.5" width="324.0" height="89.0" fill="#fff" stroke="#c3c4c9" stroke-width="1"/>
<path d="M174.5 368.5H430.5" stroke="#ededed" stroke-width="1"/>
<path d="M174.5 381.5H430.5" stroke="#ededed" stroke-width="1"/>
<path d="M174.5 394.5H430.5" stroke="#ededed" stroke-width="1"/>
<path d="M174.5 407.5H430.5" stroke="#ededed" stroke-width="1"/>
<path d="M174.5 354.5H430.5V415.5" fill="none" stroke="#e2e2e2" stroke-width="1"/>
<path d="M174.5 354.5V415.5H430.5" fill="none" stroke="#a4a4a4" stroke-width="1"/>
<path d="M171.5 354.5H174.5M173.0 357.5H174.5M173.0 360.5H174.5M173.0 362.5H174.5M173.0 365.5H174.5M171.5 368.5H174.5M173.0 370.5H174.5M173.0 373.5H174.5M173.0 375.5H174.5M173.0 378.5H174.5M171.5 381.5H174.5M173.0 383.5H174.5M173.0 386.5H174.5M173.0 388.5H174.5M173.0 391.5H174.5M171.5 394.5H174.5M173.0 396.5H174.5M173.0 399.5H174.5M173.0 402.5H174.5M173.0 404.5H174.5M171.5 407.5H174.5M173.0 409.5H174.5M173.0 412.5H174.5M173.0 415.5H174.5M180.5 415.5V417.0M187.5 415.5V417.0M193.5 415.5V417.0M200.5 415.5V417.0M206.5 415.5V418.5M213.5 415.5V417.0M219.5 415.5V417.0M226.5 415.5V417.0M232.5 415.5V417.0M239.5 415.5V418.5M245.5 415.5V417.0M252.5 415.5V417.0M258.5 415.5V417.0M265.5 415.5V417.0M271.5 415.5V418.5M278.5 415.5V417.0M284.5 415.5V417.0M291.5 415.5V417.0M297.5 415.5V417.0M304.5 415.5V418.5M311.5 415.5V417.0M317.5 415.5V417.0M324.5 415.5V417.0M330.5 415.5V417.0M337.5 415.5V418.5M343.5 415.5V417.0M350.5 415.5V417.0M356.5 415.5V417.0M363.5 415.5V417.0M369.5 415.5V418.5M376.5 415.5V417.0M382.5 415.5V417.0M389.5 415.5V417.0M395.5 415.5V417.0M402.5 415.5V418.5M408.5 415.5V417.0M415.5 415.5V417.0M421.5 415.5V417.0M428.5 415.5V417.0" stroke="#b0b0b0" stroke-width="0.8"/>
<g font-family="Liberation Sans" font-size="5.8" fill="#111" font-weight="bold"><text x="169.6" y="370.1" text-anchor="end">1</text><text x="169.6" y="383.2" text-anchor="end">0</text><text x="169.6" y="396.3" text-anchor="end">-1</text><text x="169.6" y="409.4" text-anchor="end">-2</text><text x="206.7" y="424.0" text-anchor="middle">30</text><text x="239.3" y="424.0" text-anchor="middle">60</text><text x="271.9" y="424.0" text-anchor="middle">90</text><text x="304.5" y="424.0" text-anchor="middle">120</text><text x="337.1" y="424.0" text-anchor="middle">150</text><text x="369.7" y="424.0" text-anchor="middle">180</text><text x="402.3" y="424.0" text-anchor="middle">210</text></g>
<text x="302.4" y="433.9" text-anchor="middle" font-family="Liberation Sans" font-size="7.6" font-weight="bold" fill="#111">µm</text>
<text transform="translate(158.9,385.1) rotate(-90)" x="0" y="0" text-anchor="middle" font-family="Liberation Sans" font-size="7.6" font-weight="bold" fill="#1a1a1a">µm</text>
<rect x="435.5" y="355.5" width="30.0" height="8.0" fill="#fff" stroke="#a8a8a8" stroke-width="0.8"/>
<path d="M437.6 359.5H446.9" stroke="#aeaa80" stroke-width="0.9"/>
<text x="448.1" y="361.5" font-family="Liberation Sans" font-size="5.6" textLength="14.1" lengthAdjust="spacingAndGlyphs" font-weight="bold" fill="#1a1a1a">Slice 1</text>
<path d="M179.8 367.8 L180.9 367.7 L182.4 367.6 L184.1 367.3 L186.0 367.3 L188.0 366.8 L189.9 366.9 L191.5 366.8 L193.3 367.2 L195.1 367.3 L196.9 367.3 L198.6 367.5 L200.1 367.6 L201.5 367.8 L203.9 367.4 L205.7 367.0 L207.2 366.9 L209.1 367.5 L210.7 368.0 L212.5 367.0 L214.5 366.3 L216.4 366.9 L218.4 367.9 L220.2 369.2 L221.6 371.7 L223.1 374.1 L224.9 374.4 L227.0 374.2 L228.9 374.1 L231.1 373.7 L233.2 373.2 L235.1 373.9 L237.2 375.0 L239.0 375.6 L241.0 375.1 L242.5 375.0 L243.8 377.5 L244.8 380.8 L245.5 383.3 L246.2 384.8 L247.5 384.0 L249.1 382.8 L251.1 383.1 L253.5 384.2 L255.2 385.6 L257.0 387.4 L259.2 388.6 L260.8 388.5 L262.7 388.6 L264.7 387.9 L266.5 387.7 L267.9 387.7 L269.6 389.4 L270.8 390.9 L272.9 390.5 L275.1 390.0 L277.2 390.3 L279.5 390.6 L281.2 390.8 L283.0 391.1 L285.2 391.5 L286.8 392.0 L288.6 393.0 L290.5 394.0 L292.3 395.1 L293.9 395.8 L295.9 397.4 L297.7 398.5 L299.7 400.1 L301.2 401.1 L302.9 401.8 L304.7 402.5 L306.6 403.3 L308.4 404.5 L309.9 405.4 L311.5 406.8 L313.0 408.1 L314.6 409.3 L316.1 410.2 L317.6 410.8 L319.2 410.9 L320.8 410.3 L322.3 409.5 L323.9 408.4 L325.7 407.3 L327.2 406.6 L328.9 405.5 L330.7 404.8 L332.5 403.8 L334.2 403.0 L335.8 401.8 L337.3 401.0 L339.4 399.4 L341.3 397.5 L342.9 395.7 L344.5 394.3 L346.3 393.2 L347.9 392.3 L350.3 390.6 L351.6 389.5 L353.1 388.0 L354.8 386.4 L356.6 384.7 L358.4 383.3 L360.2 381.3 L361.8 379.8 L363.3 378.5 L365.3 376.3 L367.1 374.7 L368.7 372.8 L370.3 370.9 L371.9 369.2 L373.6 367.1 L375.3 365.1 L376.9 363.1 L378.5 361.8 L380.0 360.5 L381.6 360.2 L383.0 360.4 L384.5 360.7 L386.4 361.1 L387.8 361.0 L389.4 361.0 L391.2 360.9 L393.0 360.8 L394.8 360.6 L396.4 360.7 L397.9 360.5 L400.0 360.4 L401.7 359.8 L403.4 359.8 L405.2 359.4 L407.0 359.2 L409.0 359.5 L410.9 359.6 L412.6 359.8 L413.8 360.0" fill="none" stroke="#aeaa80" stroke-width="1.0" stroke-linejoin="round"/>
<rect x="516.5" y="347.5" width="335.0" height="98.0" fill="#eff1f6" stroke="none"/>
<path d="M516.5 445.5V347.5H851.5" fill="none" stroke="#828282" stroke-width="1"/>
<path d="M851.5 347.5V445.5" fill="none" stroke="#828282" stroke-width="1"/>
<path d="M516.5 445.5H851.5" fill="none" stroke="#828282" stroke-width="1"/>
<rect x="522.5" y="353.5" width="324.0" height="87.0" fill="#fff" stroke="#c3c4c9" stroke-width="1"/>
<path d="M548.5 364.5H804.5" stroke="#ededed" stroke-width="1"/>
<path d="M548.5 381.5H804.5" stroke="#ededed" stroke-width="1"/>
<path d="M548.5 397.5H804.5" stroke="#ededed" stroke-width="1"/>
<path d="M548.5 414.5H804.5" stroke="#ededed" stroke-width="1"/>
<path d="M548.5 356.5H804.5V417.5" fill="none" stroke="#e2e2e2" stroke-width="1"/>
<path d="M548.5 356.5V417.5H804.5" fill="none" stroke="#a4a4a4" stroke-width="1"/>
<path d="M547.0 358.5H548.5M547.0 361.5H548.5M545.5 364.5H548.5M547.0 368.5H548.5M547.0 371.5H548.5M547.0 374.5H548.5M547.0 377.5H548.5M545.5 381.5H548.5M547.0 384.5H548.5M547.0 387.5H548.5M547.0 391.5H548.5M547.0 394.5H548.5M545.5 397.5H548.5M547.0 400.5H548.5M547.0 404.5H548.5M547.0 407.5H548.5M547.0 410.5H548.5M545.5 413.5H548.5M547.0 417.5H548.5M549.5 417.5V420.5M555.5 417.5V419.0M562.5 417.5V419.0M568.5 417.5V419.0M575.5 417.5V419.0M581.5 417.5V420.5M588.5 417.5V419.0M594.5 417.5V419.0M600.5 417.5V419.0M607.5 417.5V419.0M613.5 417.5V420.5M620.5 417.5V419.0M626.5 417.5V419.0M633.5 417.5V419.0M639.5 417.5V419.0M646.5 417.5V420.5M652.5 417.5V419.0M659.5 417.5V419.0M665.5 417.5V419.0M671.5 417.5V419.0M678.5 417.5V420.5M684.5 417.5V419.0M691.5 417.5V419.0M697.5 417.5V419.0M704.5 417.5V419.0M710.5 417.5V420.5M717.5 417.5V419.0M723.5 417.5V419.0M730.5 417.5V419.0M736.5 417.5V419.0M742.5 417.5V420.5M749.5 417.5V419.0M755.5 417.5V419.0M762.5 417.5V419.0M768.5 417.5V419.0M775.5 417.5V420.5M781.5 417.5V419.0M788.5 417.5V419.0M794.5 417.5V419.0M801.5 417.5V419.0" stroke="#b0b0b0" stroke-width="0.8"/>
<g font-family="Liberation Sans" font-size="5.8" fill="#111" font-weight="bold"><text x="543.9" y="367.0" text-anchor="end">1</text><text x="543.9" y="383.4" text-anchor="end">0</text><text x="543.9" y="399.7" text-anchor="end">-1</text><text x="543.9" y="416.1" text-anchor="end">-2</text><text x="581.6" y="426.1" text-anchor="middle">30</text><text x="613.9" y="426.1" text-anchor="middle">60</text><text x="646.1" y="426.1" text-anchor="middle">90</text><text x="678.4" y="426.1" text-anchor="middle">120</text><text x="710.7" y="426.1" text-anchor="middle">150</text><text x="742.9" y="426.1" text-anchor="middle">180</text><text x="775.2" y="426.1" text-anchor="middle">210</text></g>
<text x="676.5" y="436.0" text-anchor="middle" font-family="Liberation Sans" font-size="7.6" font-weight="bold" fill="#111">µm</text>
<text transform="translate(533.2,387.1) rotate(-90)" x="0" y="0" text-anchor="middle" font-family="Liberation Sans" font-size="7.6" font-weight="bold" fill="#1a1a1a">µm</text>
<rect x="809.5" y="357.5" width="31.0" height="9.0" fill="#fff" stroke="#a8a8a8" stroke-width="0.8"/>
<path d="M811.7 362.0H821.3" stroke="#aeaa80" stroke-width="0.9"/>
<text x="822.5" y="364.0" font-family="Liberation Sans" font-size="5.6" textLength="14.6" lengthAdjust="spacingAndGlyphs" font-weight="bold" fill="#1a1a1a">Slice 1</text>
<path d="M554.1 371.2 L555.4 371.0 L557.3 370.5 L559.9 370.4 L561.3 370.4 L562.8 370.2 L564.5 370.6 L566.2 370.5 L568.0 370.7 L569.8 370.4 L571.5 370.6 L573.2 370.8 L575.1 370.6 L576.9 370.7 L578.7 370.5 L580.4 370.4 L581.8 370.6 L583.0 370.4 L584.5 369.8 L585.3 369.2 L586.7 369.0 L588.5 368.3 L590.3 368.2 L591.7 367.8 L592.9 366.9 L594.0 366.9 L595.3 368.2 L596.9 370.3 L598.7 372.2 L600.3 373.2 L602.3 372.9 L604.2 372.0 L606.1 371.2 L608.1 370.7 L610.1 369.9 L611.9 369.8 L614.3 370.0 L616.2 371.2 L617.4 374.0 L618.3 377.0 L619.1 379.9 L620.0 381.3 L621.7 380.0 L623.5 378.5 L625.0 380.5 L626.4 382.8 L628.0 381.9 L629.8 381.3 L631.4 382.5 L633.2 384.5 L635.0 385.7 L637.1 386.2 L639.2 385.8 L640.8 385.7 L641.7 384.5 L642.2 383.7 L643.5 386.2 L645.1 388.6 L647.1 387.9 L649.5 386.5 L651.2 386.9 L653.1 387.8 L655.2 388.6 L656.8 389.1 L658.6 389.9 L660.4 390.3 L662.5 391.5 L664.0 392.3 L665.7 393.8 L667.5 395.0 L669.2 396.4 L671.0 397.7 L672.6 398.7 L674.4 399.9 L676.0 401.0 L677.6 402.0 L679.4 403.2 L681.3 404.5 L682.7 405.6 L684.1 406.9 L685.6 408.4 L687.2 410.0 L688.8 411.4 L690.4 412.6 L691.9 413.3 L693.4 413.7 L695.0 413.5 L696.6 413.2 L698.2 412.4 L699.7 411.2 L701.3 409.7 L702.8 408.4 L704.4 407.3 L706.1 405.8 L707.9 404.7 L709.7 403.1 L711.5 401.2 L713.2 400.0 L714.7 398.6 L715.9 397.2 L718.0 394.4 L719.4 392.3 L720.8 391.3 L722.3 390.5 L724.6 388.6 L725.9 387.4 L727.5 385.5 L729.1 383.6 L730.9 381.8 L732.7 379.5 L734.5 377.4 L736.2 375.6 L737.9 373.7 L739.6 371.8 L741.3 369.7 L743.0 367.9 L744.6 366.1 L746.2 364.5 L747.7 363.4 L749.5 362.7 L751.1 362.6 L752.6 362.7 L754.3 363.0 L756.4 363.1 L757.8 363.0 L759.3 363.1 L760.9 362.9 L762.6 363.0 L764.4 362.9 L766.1 362.9 L767.8 362.8 L769.4 363.0 L770.8 362.8 L772.7 362.8 L774.5 362.4 L776.2 362.4 L777.8 362.0 L779.3 361.9 L780.9 362.0 L782.9 362.1 L784.9 362.2 L786.8 362.2 L788.4 362.7 L789.6 362.6" fill="none" stroke="#aeaa80" stroke-width="1.0" stroke-linejoin="round"/>
<rect x="883.5" y="350.5" width="335.0" height="98.0" fill="#eff1f6" stroke="none"/>
<path d="M883.5 448.5V350.5H1218.5" fill="none" stroke="#828282" stroke-width="1"/>
<path d="M1218.5 350.5V448.5" fill="none" stroke="#828282" stroke-width="1"/>
<path d="M883.5 448.5H1218.5" fill="none" stroke="#828282" stroke-width="1"/>
<rect x="888.5" y="355.5" width="325.0" height="88.0" fill="#fff" stroke="#c3c4c9" stroke-width="1"/>
<path d="M914.5 370.5H1170.5" stroke="#ededed" stroke-width="1"/>
<path d="M914.5 385.5H1170.5" stroke="#ededed" stroke-width="1"/>
<path d="M914.5 400.5H1170.5" stroke="#ededed" stroke-width="1"/>
<path d="M914.5 415.5H1170.5" stroke="#ededed" stroke-width="1"/>
<path d="M914.5 359.5H1170.5V420.5" fill="none" stroke="#e2e2e2" stroke-width="1"/>
<path d="M914.5 359.5V420.5H1170.5" fill="none" stroke="#a4a4a4" stroke-width="1"/>
<path d="M913.0 361.5H914.5M913.0 364.5H914.5M913.0 367.5H914.5M911.5 370.5H914.5M913.0 373.5H914.5M913.0 376.5H914.5M913.0 379.5H914.5M913.0 382.5H914.5M911.5 385.5H914.5M913.0 388.5H914.5M913.0 391.5H914.5M913.0 394.5H914.5M913.0 397.5H914.5M911.5 400.5H914.5M913.0 403.5H914.5M913.0 406.5H914.5M913.0 409.5H914.5M913.0 412.5H914.5M911.5 415.5H914.5M913.0 418.5H914.5M920.5 420.5V422.0M927.5 420.5V422.0M934.5 420.5V422.0M940.5 420.5V422.0M947.5 420.5V423.5M953.5 420.5V422.0M960.5 420.5V422.0M966.5 420.5V422.0M973.5 420.5V422.0M979.5 420.5V423.5M986.5 420.5V422.0M992.5 420.5V422.0M999.5 420.5V422.0M1005.5 420.5V422.0M1012.5 420.5V423.5M1018.5 420.5V422.0M1025.5 420.5V422.0M1031.5 420.5V422.0M1038.5 420.5V422.0M1045.5 420.5V423.5M1051.5 420.5V422.0M1058.5 420.5V422.0M1064.5 420.5V422.0M1071.5 420.5V422.0M1077.5 420.5V423.5M1084.5 420.5V422.0M1090.5 420.5V422.0M1097.5 420.5V422.0M1103.5 420.5V422.0M1110.5 420.5V423.5M1116.5 420.5V422.0M1123.5 420.5V422.0M1129.5 420.5V422.0M1136.5 420.5V422.0M1142.5 420.5V423.5M1149.5 420.5V422.0M1156.5 420.5V422.0M1162.5 420.5V422.0M1169.5 420.5V422.0" stroke="#b0b0b0" stroke-width="0.8"/>
<g font-family="Liberation Sans" font-size="5.8" fill="#111" font-weight="bold"><text x="909.8" y="372.7" text-anchor="end">1</text><text x="909.8" y="387.5" text-anchor="end">0</text><text x="909.8" y="402.4" text-anchor="end">-1</text><text x="909.8" y="417.2" text-anchor="end">-2</text><text x="947.1" y="429.5" text-anchor="middle">30</text><text x="979.8" y="429.5" text-anchor="middle">60</text><text x="1012.4" y="429.5" text-anchor="middle">90</text><text x="1045.0" y="429.5" text-anchor="middle">120</text><text x="1077.7" y="429.5" text-anchor="middle">150</text><text x="1110.3" y="429.5" text-anchor="middle">180</text><text x="1143.0" y="429.5" text-anchor="middle">210</text></g>
<text x="1042.7" y="439.4" text-anchor="middle" font-family="Liberation Sans" font-size="7.6" font-weight="bold" fill="#111">µm</text>
<text transform="translate(899.1,390.3) rotate(-90)" x="0" y="0" text-anchor="middle" font-family="Liberation Sans" font-size="7.6" font-weight="bold" fill="#1a1a1a">µm</text>
<rect x="1176.5" y="361.5" width="30.0" height="7.0" fill="#fff" stroke="#a8a8a8" stroke-width="0.8"/>
<path d="M1178.6 365.0H1187.9" stroke="#aeaa80" stroke-width="0.9"/>
<text x="1189.1" y="367.0" font-family="Liberation Sans" font-size="5.6" textLength="14.1" lengthAdjust="spacingAndGlyphs" font-weight="bold" fill="#1a1a1a">Slice 1</text>
<path d="M920.6 375.6 L921.7 375.4 L923.3 375.3 L925.1 375.1 L927.1 374.9 L929.0 374.7 L930.7 374.7 L932.5 374.9 L934.2 375.2 L935.9 375.3 L937.6 375.4 L939.3 375.6 L941.1 375.7 L943.0 375.6 L944.8 375.2 L946.5 375.1 L948.0 375.0 L950.5 373.8 L952.3 373.2 L953.4 374.3 L955.2 375.6 L956.4 375.8 L958.0 375.7 L959.7 375.9 L961.6 375.7 L963.4 375.8 L965.3 375.6 L966.9 375.4 L968.7 375.4 L970.5 375.3 L972.4 375.3 L974.1 375.4 L975.6 375.2 L976.9 375.6 L979.5 377.2 L981.2 379.9 L983.5 384.2 L985.6 387.7 L987.3 386.2 L989.0 384.2 L990.9 386.6 L992.8 389.4 L994.1 388.5 L995.7 387.7 L997.4 388.7 L999.5 390.1 L1001.5 391.5 L1003.5 391.7 L1005.4 391.4 L1007.2 391.5 L1009.2 393.0 L1011.0 394.3 L1012.6 393.7 L1014.3 392.7 L1015.9 392.3 L1017.6 393.0 L1020.2 394.3 L1021.5 394.8 L1023.1 395.4 L1024.9 396.4 L1026.8 396.9 L1028.6 397.8 L1030.3 398.7 L1031.8 399.3 L1033.8 400.7 L1035.5 402.0 L1037.1 403.5 L1039.0 405.0 L1040.5 405.9 L1042.1 406.8 L1043.8 407.4 L1045.6 408.2 L1047.3 409.4 L1049.1 410.2 L1050.6 411.2 L1052.1 412.4 L1053.7 413.4 L1055.3 414.6 L1056.8 415.5 L1058.5 416.5 L1060.1 416.6 L1061.6 416.4 L1063.1 416.0 L1064.6 415.2 L1066.2 414.1 L1067.7 413.3 L1069.3 411.9 L1070.8 410.8 L1072.3 409.7 L1074.1 408.2 L1075.9 406.8 L1077.7 405.2 L1079.5 403.4 L1081.2 401.8 L1082.6 400.5 L1083.8 399.3 L1085.7 397.8 L1086.7 397.2 L1088.3 396.6 L1091.0 395.2 L1092.3 394.1 L1093.8 392.7 L1095.4 391.1 L1097.2 389.8 L1099.0 388.0 L1100.8 386.2 L1102.6 384.2 L1104.2 382.6 L1105.8 380.5 L1107.5 378.7 L1109.2 376.6 L1110.9 374.7 L1112.4 372.8 L1113.8 371.0 L1115.0 369.8 L1117.0 367.5 L1118.2 366.2 L1119.9 365.4 L1121.4 365.2 L1123.1 365.2 L1125.1 365.3 L1127.0 365.2 L1128.7 365.4 L1130.0 365.4 L1131.4 365.0 L1132.9 364.9 L1134.1 365.0 L1135.6 365.3 L1137.3 365.2 L1139.2 365.5 L1141.0 365.5 L1142.8 366.0 L1144.5 366.0 L1146.4 366.0 L1148.4 366.2 L1150.3 366.2 L1152.0 366.2 L1153.5 366.1 L1154.6 366.0" fill="none" stroke="#aeaa80" stroke-width="1.0" stroke-linejoin="round"/>
<rect x="146.5" y="460.5" width="335.0" height="99.0" fill="#eff1f6" stroke="none"/>
<path d="M146.5 559.5V460.5H481.5" fill="none" stroke="#828282" stroke-width="1"/>
<path d="M481.5 460.5V559.5" fill="none" stroke="#828282" stroke-width="1"/>
<path d="M146.5 559.5H481.5" fill="none" stroke="#828282" stroke-width="1"/>
<rect x="152.5" y="466.5" width="324.0" height="88.0" fill="#fff" stroke="#c3c4c9" stroke-width="1"/>
<path d="M178.5 474.5H434.5" stroke="#ededed" stroke-width="1"/>
<path d="M178.5 483.5H434.5" stroke="#ededed" stroke-width="1"/>
<path d="M178.5 493.5H434.5" stroke="#ededed" stroke-width="1"/>
<path d="M178.5 502.5H434.5" stroke="#ededed" stroke-width="1"/>
<path d="M178.5 511.5H434.5" stroke="#ededed" stroke-width="1"/>
<path d="M178.5 521.5H434.5" stroke="#ededed" stroke-width="1"/>
<path d="M178.5 530.5H434.5" stroke="#ededed" stroke-width="1"/>
<path d="M178.5 470.5H434.5V531.5" fill="none" stroke="#e2e2e2" stroke-width="1"/>
<path d="M178.5 470.5V531.5H434.5" fill="none" stroke="#a4a4a4" stroke-width="1"/>
<path d="M177.0 472.5H178.5M175.5 474.5H178.5M177.0 476.5H178.5M177.0 477.5H178.5M177.0 479.5H178.5M177.0 481.5H178.5M175.5 483.5H178.5M177.0 485.5H178.5M177.0 487.5H178.5M177.0 489.5H178.5M177.0 491.5H178.5M175.5 492.5H178.5M177.0 494.5H178.5M177.0 496.5H178.5M177.0 498.5H178.5M177.0 500.5H178.5M175.5 502.5H178.5M177.0 504.5H178.5M177.0 506.5H178.5M177.0 508.5H178.5M177.0 509.5H178.5M175.5 511.5H178.5M177.0 513.5H178.5M177.0 515.5H178.5M177.0 517.5H178.5M177.0 519.5H178.5M175.5 521.5H178.5M177.0 523.5H178.5M177.0 524.5H178.5M177.0 526.5H178.5M177.0 528.5H178.5M175.5 530.5H178.5M183.5 531.5V533.0M189.5 531.5V533.0M195.5 531.5V533.0M201.5 531.5V533.0M207.5 531.5V534.5M213.5 531.5V533.0M218.5 531.5V533.0M224.5 531.5V533.0M230.5 531.5V533.0M236.5 531.5V534.5M242.5 531.5V533.0M247.5 531.5V533.0M253.5 531.5V533.0M259.5 531.5V533.0M265.5 531.5V534.5M271.5 531.5V533.0M277.5 531.5V533.0M282.5 531.5V533.0M288.5 531.5V533.0M294.5 531.5V534.5M300.5 531.5V533.0M306.5 531.5V533.0M311.5 531.5V533.0M317.5 531.5V533.0M323.5 531.5V534.5M329.5 531.5V533.0M335.5 531.5V533.0M341.5 531.5V533.0M346.5 531.5V533.0M352.5 531.5V534.5M358.5 531.5V533.0M364.5 531.5V533.0M370.5 531.5V533.0M375.5 531.5V533.0M381.5 531.5V534.5M387.5 531.5V533.0M393.5 531.5V533.0M399.5 531.5V533.0M405.5 531.5V533.0M410.5 531.5V534.5M416.5 531.5V533.0M422.5 531.5V533.0M428.5 531.5V533.0" stroke="#b0b0b0" stroke-width="0.8"/>
<g font-family="Liberation Sans" font-size="5.8" fill="#111" font-weight="bold"><text x="173.3" y="476.3" text-anchor="end">3</text><text x="173.3" y="485.7" text-anchor="end">2</text><text x="173.3" y="495.1" text-anchor="end">1</text><text x="173.3" y="504.5" text-anchor="end">0</text><text x="173.3" y="513.9" text-anchor="end">-1</text><text x="173.3" y="523.3" text-anchor="end">-2</text><text x="173.3" y="532.7" text-anchor="end">-3</text><text x="207.2" y="540.1" text-anchor="middle">30</text><text x="236.3" y="540.1" text-anchor="middle">60</text><text x="265.4" y="540.1" text-anchor="middle">90</text><text x="294.5" y="540.1" text-anchor="middle">120</text><text x="323.6" y="540.1" text-anchor="middle">150</text><text x="352.7" y="540.1" text-anchor="middle">180</text><text x="381.8" y="540.1" text-anchor="middle">210</text><text x="410.9" y="540.1" text-anchor="middle">240</text></g>
<text x="306.1" y="550.0" text-anchor="middle" font-family="Liberation Sans" font-size="7.6" font-weight="bold" fill="#111">µm</text>
<text transform="translate(162.6,501.1) rotate(-90)" x="0" y="0" text-anchor="middle" font-family="Liberation Sans" font-size="7.6" font-weight="bold" fill="#1a1a1a">µm</text>
<rect x="439.5" y="470.5" width="30.0" height="9.0" fill="#fff" stroke="#a8a8a8" stroke-width="0.8"/>
<path d="M441.6 475.0H450.9" stroke="#aeaa80" stroke-width="0.9"/>
<text x="452.1" y="477.0" font-family="Liberation Sans" font-size="5.6" textLength="14.1" lengthAdjust="spacingAndGlyphs" font-weight="bold" fill="#1a1a1a">Slice 1</text>
<path d="M211.6 479.4 L213.4 479.7 L215.9 480.0 L217.5 479.8 L219.2 479.7 L220.8 480.0 L222.3 481.7 L224.6 484.4 L225.9 485.3 L227.5 485.9 L229.3 486.9 L231.2 487.3 L233.0 488.5 L234.7 489.0 L236.1 489.6 L238.6 490.9 L240.4 491.5 L241.9 492.5 L243.4 493.7 L244.8 495.3 L246.7 496.7 L249.1 497.7 L250.8 498.2 L252.8 498.8 L254.8 499.1 L256.4 499.7 L258.0 500.8 L259.2 501.7 L261.3 502.1 L263.6 502.6 L265.6 504.0 L267.3 505.5 L268.3 507.3 L269.4 508.3 L271.3 507.7 L273.7 506.9 L275.3 507.7 L277.1 509.3 L279.5 510.7 L280.8 511.1 L282.4 511.1 L284.0 511.3 L285.8 511.5 L287.5 511.8 L289.3 511.8 L291.0 511.8 L292.7 511.8 L294.5 511.9 L296.3 512.2 L298.0 512.4 L299.7 512.5 L301.2 512.4 L302.6 512.7 L305.0 513.3 L306.7 513.7 L308.4 514.1 L310.3 514.9 L312.0 515.3 L313.3 515.6 L313.9 514.7 L314.1 514.1 L314.5 516.6 L315.6 519.9 L316.9 521.0 L318.6 521.2 L320.6 521.9 L322.8 522.8 L324.3 523.6 L325.9 524.2 L327.6 525.1 L329.4 525.9 L331.2 526.4 L332.9 526.9 L334.4 527.1 L336.3 527.0 L337.9 526.6 L339.5 525.9 L341.1 525.0 L343.0 524.2 L344.6 523.5 L346.3 522.9 L348.1 522.2 L350.0 521.3 L351.7 520.3 L353.3 519.3 L354.6 518.5 L357.2 515.0 L358.9 512.1 L361.0 511.7 L363.3 511.2 L365.0 510.2 L366.8 508.5 L369.0 506.9 L370.5 505.5 L372.1 504.2 L373.9 503.1 L375.7 501.5 L377.7 499.7 L379.2 498.2 L380.9 497.1 L382.6 495.7 L384.4 494.0 L386.1 492.5 L387.8 491.1 L389.3 489.6 L391.3 487.9 L393.1 485.7 L394.8 484.0 L396.4 482.5 L397.9 480.9 L399.9 478.9 L401.7 477.5 L403.7 476.6 L405.3 476.3 L407.0 476.4 L408.9 476.3 L410.7 476.5 L412.4 476.3 L414.5 476.1 L416.5 475.7 L418.3 475.5 L419.6 475.1" fill="none" stroke="#aeaa80" stroke-width="1.0" stroke-linejoin="round"/>
<rect x="517.5" y="463.5" width="335.0" height="98.0" fill="#eff1f6" stroke="none"/>
<path d="M517.5 561.5V463.5H852.5" fill="none" stroke="#828282" stroke-width="1"/>
<path d="M852.5 463.5V561.5" fill="none" stroke="#828282" stroke-width="1"/>
<path d="M517.5 561.5H852.5" fill="none" stroke="#828282" stroke-width="1"/>
<rect x="522.5" y="469.5" width="325.0" height="87.0" fill="#fff" stroke="#c3c4c9" stroke-width="1"/>
<path d="M549.5 477.5H805.5" stroke="#ededed" stroke-width="1"/>
<path d="M549.5 486.5H805.5" stroke="#ededed" stroke-width="1"/>
<path d="M549.5 495.5H805.5" stroke="#ededed" stroke-width="1"/>
<path d="M549.5 505.5H805.5" stroke="#ededed" stroke-width="1"/>
<path d="M549.5 514.5H805.5" stroke="#ededed" stroke-width="1"/>
<path d="M549.5 523.5H805.5" stroke="#ededed" stroke-width="1"/>
<path d="M549.5 532.5H805.5" stroke="#ededed" stroke-width="1"/>
<path d="M549.5 473.5H805.5V533.5" fill="none" stroke="#e2e2e2" stroke-width="1"/>
<path d="M549.5 473.5V533.5H805.5" fill="none" stroke="#a4a4a4" stroke-width="1"/>
<path d="M548.0 473.5H549.5M548.0 475.5H549.5M546.5 477.5H549.5M548.0 478.5H549.5M548.0 480.5H549.5M548.0 482.5H549.5M548.0 484.5H549.5M546.5 486.5H549.5M548.0 488.5H549.5M548.0 490.5H549.5M548.0 491.5H549.5M548.0 493.5H549.5M546.5 495.5H549.5M548.0 497.5H549.5M548.0 499.5H549.5M548.0 501.5H549.5M548.0 503.5H549.5M546.5 505.5H549.5M548.0 506.5H549.5M548.0 508.5H549.5M548.0 510.5H549.5M548.0 512.5H549.5M546.5 514.5H549.5M548.0 516.5H549.5M548.0 518.5H549.5M548.0 519.5H549.5M548.0 521.5H549.5M546.5 523.5H549.5M548.0 525.5H549.5M548.0 527.5H549.5M548.0 529.5H549.5M548.0 531.5H549.5M546.5 532.5H549.5M554.5 533.5V535.0M560.5 533.5V535.0M566.5 533.5V535.0M572.5 533.5V535.0M578.5 533.5V536.5M583.5 533.5V535.0M589.5 533.5V535.0M595.5 533.5V535.0M601.5 533.5V535.0M607.5 533.5V536.5M613.5 533.5V535.0M618.5 533.5V535.0M624.5 533.5V535.0M630.5 533.5V535.0M636.5 533.5V536.5M642.5 533.5V535.0M647.5 533.5V535.0M653.5 533.5V535.0M659.5 533.5V535.0M665.5 533.5V536.5M671.5 533.5V535.0M677.5 533.5V535.0M682.5 533.5V535.0M688.5 533.5V535.0M694.5 533.5V536.5M700.5 533.5V535.0M706.5 533.5V535.0M711.5 533.5V535.0M717.5 533.5V535.0M723.5 533.5V536.5M729.5 533.5V535.0M735.5 533.5V535.0M741.5 533.5V535.0M746.5 533.5V535.0M752.5 533.5V536.5M758.5 533.5V535.0M764.5 533.5V535.0M770.5 533.5V535.0M775.5 533.5V535.0M781.5 533.5V536.5M787.5 533.5V535.0M793.5 533.5V535.0M799.5 533.5V535.0" stroke="#b0b0b0" stroke-width="0.8"/>
<g font-family="Liberation Sans" font-size="5.8" fill="#111" font-weight="bold"><text x="544.2" y="479.2" text-anchor="end">3</text><text x="544.2" y="488.5" text-anchor="end">2</text><text x="544.2" y="497.8" text-anchor="end">1</text><text x="544.2" y="507.1" text-anchor="end">0</text><text x="544.2" y="516.4" text-anchor="end">-1</text><text x="544.2" y="525.7" text-anchor="end">-2</text><text x="544.2" y="535.0" text-anchor="end">-3</text><text x="578.1" y="542.4" text-anchor="middle">30</text><text x="607.2" y="542.4" text-anchor="middle">60</text><text x="636.3" y="542.4" text-anchor="middle">90</text><text x="665.4" y="542.4" text-anchor="middle">120</text><text x="694.5" y="542.4" text-anchor="middle">150</text><text x="723.6" y="542.4" text-anchor="middle">180</text><text x="752.7" y="542.4" text-anchor="middle">210</text><text x="781.8" y="542.4" text-anchor="middle">240</text></g>
<text x="677.1" y="552.3" text-anchor="middle" font-family="Liberation Sans" font-size="7.6" font-weight="bold" fill="#111">µm</text>
<text transform="translate(533.5,503.4) rotate(-90)" x="0" y="0" text-anchor="middle" font-family="Liberation Sans" font-size="7.6" font-weight="bold" fill="#1a1a1a">µm</text>
<rect x="810.5" y="473.5" width="30.0" height="8.0" fill="#fff" stroke="#a8a8a8" stroke-width="0.8"/>
<path d="M812.6 477.5H821.9" stroke="#aeaa80" stroke-width="0.9"/>
<text x="823.1" y="479.5" font-family="Liberation Sans" font-size="5.6" textLength="14.1" lengthAdjust="spacingAndGlyphs" font-weight="bold" fill="#1a1a1a">Slice 1</text>
<path d="M581.6 481.8 L582.9 481.7 L584.8 481.9 L586.9 482.1 L588.8 482.3 L591.0 482.8 L593.0 483.5 L594.6 484.4 L595.7 485.9 L596.9 487.2 L598.3 487.8 L600.0 487.9 L601.8 488.1 L603.2 488.7 L604.8 490.7 L606.1 492.5 L608.1 493.3 L610.5 493.9 L612.4 495.0 L614.3 496.6 L616.2 498.2 L618.4 499.7 L620.6 501.1 L622.5 501.6 L624.6 502.2 L626.4 502.6 L628.3 503.8 L629.8 504.9 L630.8 504.2 L632.1 503.4 L633.9 504.6 L636.1 506.7 L637.9 508.3 L639.1 510.3 L639.9 511.8 L640.9 511.1 L642.2 510.4 L644.2 510.9 L646.6 511.8 L648.3 512.3 L650.2 513.0 L652.4 513.5 L653.9 513.6 L655.6 514.0 L657.4 514.2 L659.2 514.6 L661.0 514.7 L662.8 514.8 L664.6 514.9 L666.4 515.2 L668.1 515.2 L669.7 515.6 L671.7 516.0 L673.5 516.4 L675.5 517.0 L677.1 517.4 L678.9 517.9 L680.7 518.5 L682.5 519.5 L684.1 519.9 L685.9 520.7 L687.3 521.4 L689.9 522.8 L691.1 523.5 L692.5 524.1 L694.0 524.9 L695.7 525.9 L697.4 526.7 L699.2 527.3 L700.9 528.1 L702.6 528.8 L704.3 529.3 L705.8 529.4 L707.6 529.2 L709.4 528.7 L711.1 528.4 L712.8 527.5 L714.5 526.6 L716.0 525.6 L717.5 524.7 L718.8 524.2 L721.1 522.9 L723.0 522.2 L724.6 521.1 L726.0 519.9 L727.9 516.9 L729.8 514.1 L731.1 513.8 L732.5 513.9 L734.2 514.3 L736.2 513.3 L737.6 512.2 L739.1 511.0 L740.8 509.2 L742.5 507.7 L744.3 506.1 L746.0 504.2 L747.7 502.6 L749.4 501.1 L751.1 499.7 L752.8 498.2 L754.5 496.6 L756.2 495.2 L757.8 493.7 L759.3 492.5 L761.2 490.5 L763.1 488.9 L764.8 487.1 L766.4 485.5 L767.9 483.8 L769.6 482.2 L771.1 480.6 L772.6 479.6 L774.3 478.6 L775.8 478.3 L777.4 478.3 L779.1 478.5 L780.8 478.4 L782.4 478.6 L784.1 478.5 L786.0 478.2 L787.8 477.9 L789.4 477.7 L790.5 477.4" fill="none" stroke="#aeaa80" stroke-width="1.0" stroke-linejoin="round"/>
<rect x="882.5" y="463.5" width="336.0" height="99.0" fill="#eff1f6" stroke="none"/>
<path d="M882.5 562.5V463.5H1218.5" fill="none" stroke="#828282" stroke-width="1"/>
<path d="M1218.5 463.5V562.5" fill="none" stroke="#828282" stroke-width="1"/>
<path d="M882.5 562.5H1218.5" fill="none" stroke="#828282" stroke-width="1"/>
<rect x="887.5" y="469.5" width="325.0" height="88.0" fill="#fff" stroke="#c3c4c9" stroke-width="1"/>
<path d="M914.5 475.5H1170.5" stroke="#ededed" stroke-width="1"/>
<path d="M914.5 484.5H1170.5" stroke="#ededed" stroke-width="1"/>
<path d="M914.5 494.5H1170.5" stroke="#ededed" stroke-width="1"/>
<path d="M914.5 504.5H1170.5" stroke="#ededed" stroke-width="1"/>
<path d="M914.5 513.5H1170.5" stroke="#ededed" stroke-width="1"/>
<path d="M914.5 523.5H1170.5" stroke="#ededed" stroke-width="1"/>
<path d="M914.5 532.5H1170.5" stroke="#ededed" stroke-width="1"/>
<path d="M914.5 473.5H1170.5V534.5" fill="none" stroke="#e2e2e2" stroke-width="1"/>
<path d="M914.5 473.5V534.5H1170.5" fill="none" stroke="#a4a4a4" stroke-width="1"/>
<path d="M913.0 473.5H914.5M911.5 475.5H914.5M913.0 477.5H914.5M913.0 478.5H914.5M913.0 480.5H914.5M913.0 482.5H914.5M911.5 484.5H914.5M913.0 486.5H914.5M913.0 488.5H914.5M913.0 490.5H914.5M913.0 492.5H914.5M911.5 494.5H914.5M913.0 496.5H914.5M913.0 498.5H914.5M913.0 500.5H914.5M913.0 502.5H914.5M911.5 504.5H914.5M913.0 505.5H914.5M913.0 507.5H914.5M913.0 509.5H914.5M913.0 511.5H914.5M911.5 513.5H914.5M913.0 515.5H914.5M913.0 517.5H914.5M913.0 519.5H914.5M913.0 521.5H914.5M911.5 523.5H914.5M913.0 525.5H914.5M913.0 527.5H914.5M913.0 529.5H914.5M913.0 530.5H914.5M911.5 532.5H914.5M920.5 534.5V536.0M926.5 534.5V536.0M932.5 534.5V536.0M937.5 534.5V536.0M943.5 534.5V537.5M949.5 534.5V536.0M955.5 534.5V536.0M961.5 534.5V536.0M966.5 534.5V536.0M972.5 534.5V537.5M978.5 534.5V536.0M984.5 534.5V536.0M990.5 534.5V536.0M996.5 534.5V536.0M1001.5 534.5V537.5M1007.5 534.5V536.0M1013.5 534.5V536.0M1019.5 534.5V536.0M1025.5 534.5V536.0M1031.5 534.5V537.5M1036.5 534.5V536.0M1042.5 534.5V536.0M1048.5 534.5V536.0M1054.5 534.5V536.0M1060.5 534.5V537.5M1065.5 534.5V536.0M1071.5 534.5V536.0M1077.5 534.5V536.0M1083.5 534.5V536.0M1089.5 534.5V537.5M1095.5 534.5V536.0M1100.5 534.5V536.0M1106.5 534.5V536.0M1112.5 534.5V536.0M1118.5 534.5V537.5M1124.5 534.5V536.0M1129.5 534.5V536.0M1135.5 534.5V536.0M1141.5 534.5V536.0M1147.5 534.5V537.5M1153.5 534.5V536.0M1159.5 534.5V536.0M1164.5 534.5V536.0" stroke="#b0b0b0" stroke-width="0.8"/>
<g font-family="Liberation Sans" font-size="5.8" fill="#111" font-weight="bold"><text x="909.8" y="477.2" text-anchor="end">3</text><text x="909.8" y="486.8" text-anchor="end">2</text><text x="909.8" y="496.5" text-anchor="end">1</text><text x="909.8" y="506.1" text-anchor="end">0</text><text x="909.8" y="515.7" text-anchor="end">-1</text><text x="909.8" y="525.4" text-anchor="end">-2</text><text x="909.8" y="535.0" text-anchor="end">-3</text><text x="943.7" y="542.9" text-anchor="middle">30</text><text x="972.8" y="542.9" text-anchor="middle">60</text><text x="1001.9" y="542.9" text-anchor="middle">90</text><text x="1031.0" y="542.9" text-anchor="middle">120</text><text x="1060.1" y="542.9" text-anchor="middle">150</text><text x="1089.2" y="542.9" text-anchor="middle">180</text><text x="1118.3" y="542.9" text-anchor="middle">210</text><text x="1147.4" y="542.9" text-anchor="middle">240</text></g>
<text x="1042.7" y="552.8" text-anchor="middle" font-family="Liberation Sans" font-size="7.6" font-weight="bold" fill="#111">µm</text>
<text transform="translate(899.1,503.7) rotate(-90)" x="0" y="0" text-anchor="middle" font-family="Liberation Sans" font-size="7.6" font-weight="bold" fill="#1a1a1a">µm</text>
<rect x="1175.5" y="473.5" width="30.0" height="8.0" fill="#fff" stroke="#a8a8a8" stroke-width="0.8"/>
<path d="M1177.6 477.5H1186.9" stroke="#aeaa80" stroke-width="0.9"/>
<text x="1188.1" y="479.5" font-family="Liberation Sans" font-size="5.6" textLength="14.1" lengthAdjust="spacingAndGlyphs" font-weight="bold" fill="#1a1a1a">Slice 1</text>
<path d="M947.4 483.8 L948.4 483.7 L949.9 483.9 L951.6 483.6 L953.4 483.8 L955.2 483.7 L956.8 483.6 L958.1 483.8 L960.4 485.1 L961.9 486.1 L963.5 486.5 L965.2 486.4 L966.8 486.7 L968.9 488.4 L971.1 490.1 L972.7 490.9 L974.5 491.5 L976.2 491.9 L977.5 492.5 L978.5 494.2 L979.2 495.9 L980.7 496.8 L982.7 497.7 L984.5 498.3 L986.6 499.2 L988.5 499.7 L990.8 500.3 L992.8 501.1 L994.3 501.9 L995.7 502.6 L997.1 502.7 L998.6 503.1 L1000.8 504.9 L1002.9 507.5 L1004.1 509.3 L1005.2 510.7 L1006.4 509.9 L1008.1 508.9 L1009.5 509.3 L1011.1 510.1 L1012.9 510.9 L1014.5 511.8 L1016.2 512.6 L1017.9 513.0 L1020.2 513.5 L1021.5 513.6 L1023.1 513.8 L1024.8 514.2 L1026.5 514.4 L1028.3 514.5 L1030.1 514.6 L1031.8 515.0 L1033.5 515.4 L1035.2 515.6 L1036.9 516.0 L1038.6 516.5 L1040.3 516.9 L1041.9 517.5 L1043.4 517.9 L1045.3 518.8 L1047.1 519.7 L1048.7 520.5 L1050.3 521.3 L1052.0 522.2 L1053.7 522.7 L1055.4 523.1 L1057.2 523.8 L1058.9 524.2 L1060.7 524.8 L1062.2 525.6 L1063.7 526.5 L1065.2 527.6 L1066.7 528.7 L1068.3 529.1 L1069.9 529.4 L1071.4 529.1 L1072.9 528.5 L1074.5 528.0 L1076.2 527.1 L1077.8 525.8 L1079.4 525.1 L1080.9 524.2 L1082.7 523.5 L1084.5 522.5 L1086.4 521.7 L1088.1 520.9 L1089.7 519.9 L1091.0 519.0 L1093.5 516.0 L1095.4 513.3 L1097.0 512.8 L1098.7 512.7 L1101.1 512.1 L1102.4 511.2 L1104.0 510.2 L1105.7 508.7 L1107.4 507.3 L1109.2 505.4 L1111.0 504.3 L1112.7 502.6 L1114.4 501.1 L1116.0 499.7 L1117.6 498.6 L1119.3 497.2 L1120.9 495.6 L1122.6 493.9 L1124.3 492.5 L1125.8 491.2 L1127.5 489.4 L1129.1 487.7 L1130.8 485.7 L1132.3 484.0 L1133.8 482.2 L1135.2 481.0 L1136.4 480.0 L1138.5 479.1 L1139.8 479.3 L1141.6 479.4 L1142.9 479.1 L1144.5 478.7 L1146.2 478.6 L1147.9 478.2 L1149.5 477.9 L1150.8 478.0 L1153.0 478.3 L1154.8 478.7 L1156.0 478.9" fill="none" stroke="#aeaa80" stroke-width="1.0" stroke-linejoin="round"/>
<rect x="146.5" y="578.5" width="336.0" height="98.0" fill="#eff1f6" stroke="none"/>
<path d="M146.5 676.5V578.5H482.5" fill="none" stroke="#828282" stroke-width="1"/>
<path d="M482.5 578.5V676.5" fill="none" stroke="#828282" stroke-width="1"/>
<path d="M146.5 676.5H482.5" fill="none" stroke="#828282" stroke-width="1"/>
<rect x="152.5" y="583.5" width="324.0" height="88.0" fill="#fff" stroke="#c3c4c9" stroke-width="1"/>
<path d="M178.5 592.5H434.5" stroke="#ededed" stroke-width="1"/>
<path d="M178.5 608.5H434.5" stroke="#ededed" stroke-width="1"/>
<path d="M178.5 624.5H434.5" stroke="#ededed" stroke-width="1"/>
<path d="M178.5 640.5H434.5" stroke="#ededed" stroke-width="1"/>
<path d="M178.5 587.5H434.5V648.5" fill="none" stroke="#e2e2e2" stroke-width="1"/>
<path d="M178.5 587.5V648.5H434.5" fill="none" stroke="#a4a4a4" stroke-width="1"/>
<path d="M177.0 589.5H178.5M175.5 592.5H178.5M177.0 595.5H178.5M177.0 598.5H178.5M177.0 602.5H178.5M177.0 605.5H178.5M175.5 608.5H178.5M177.0 611.5H178.5M177.0 614.5H178.5M177.0 617.5H178.5M177.0 621.5H178.5M175.5 624.5H178.5M177.0 627.5H178.5M177.0 630.5H178.5M177.0 633.5H178.5M177.0 637.5H178.5M175.5 640.5H178.5M177.0 643.5H178.5M177.0 646.5H178.5M178.5 648.5V651.5M183.5 648.5V650.0M188.5 648.5V650.0M193.5 648.5V650.0M198.5 648.5V650.0M203.5 648.5V651.5M208.5 648.5V650.0M213.5 648.5V650.0M218.5 648.5V650.0M223.5 648.5V650.0M228.5 648.5V651.5M233.5 648.5V650.0M238.5 648.5V650.0M243.5 648.5V650.0M248.5 648.5V650.0M253.5 648.5V651.5M258.5 648.5V650.0M263.5 648.5V650.0M268.5 648.5V650.0M273.5 648.5V650.0M278.5 648.5V651.5M283.5 648.5V650.0M288.5 648.5V650.0M293.5 648.5V650.0M298.5 648.5V650.0M303.5 648.5V651.5M308.5 648.5V650.0M313.5 648.5V650.0M318.5 648.5V650.0M323.5 648.5V650.0M328.5 648.5V651.5M333.5 648.5V650.0M338.5 648.5V650.0M343.5 648.5V650.0M348.5 648.5V650.0M353.5 648.5V651.5M358.5 648.5V650.0M363.5 648.5V650.0M368.5 648.5V650.0M373.5 648.5V650.0M378.5 648.5V651.5M383.5 648.5V650.0M388.5 648.5V650.0M393.5 648.5V650.0M398.5 648.5V650.0M403.5 648.5V651.5M408.5 648.5V650.0M413.5 648.5V650.0M418.5 648.5V650.0M423.5 648.5V650.0M428.5 648.5V651.5M433.5 648.5V650.0" stroke="#b0b0b0" stroke-width="0.8"/>
<g font-family="Liberation Sans" font-size="5.8" fill="#111" font-weight="bold"><text x="173.3" y="594.7" text-anchor="end">2</text><text x="173.3" y="610.6" text-anchor="end">0</text><text x="173.3" y="626.4" text-anchor="end">-2</text><text x="173.3" y="642.3" text-anchor="end">-4</text><text x="203.5" y="657.5" text-anchor="middle">50</text><text x="228.5" y="657.5" text-anchor="middle">100</text><text x="253.6" y="657.5" text-anchor="middle">150</text><text x="278.6" y="657.5" text-anchor="middle">200</text><text x="303.6" y="657.5" text-anchor="middle">250</text><text x="328.7" y="657.5" text-anchor="middle">300</text><text x="353.7" y="657.5" text-anchor="middle">350</text><text x="378.7" y="657.5" text-anchor="middle">400</text><text x="403.8" y="657.5" text-anchor="middle">450</text><text x="428.8" y="657.5" text-anchor="middle">500</text></g>
<text x="306.1" y="667.4" text-anchor="middle" font-family="Liberation Sans" font-size="7.6" font-weight="bold" fill="#111">µm</text>
<text transform="translate(162.6,618.2) rotate(-90)" x="0" y="0" text-anchor="middle" font-family="Liberation Sans" font-size="7.6" font-weight="bold" fill="#1a1a1a">µm</text>
<rect x="439.5" y="588.5" width="31.0" height="8.0" fill="#fff" stroke="#a8a8a8" stroke-width="0.8"/>
<path d="M441.7 592.5H451.3" stroke="#aeaa80" stroke-width="0.9"/>
<text x="452.5" y="594.5" font-family="Liberation Sans" font-size="5.6" textLength="14.6" lengthAdjust="spacingAndGlyphs" font-weight="bold" fill="#1a1a1a">Slice 1</text>
<path d="M211.6 596.3 L212.9 595.9 L214.7 595.5 L216.7 595.2 L218.8 594.9 L220.4 594.9 L222.2 594.9 L224.0 595.2 L225.7 595.4 L227.5 595.4 L229.2 595.6 L230.9 595.7 L232.7 596.1 L234.4 596.3 L236.1 596.3 L237.8 596.1 L239.4 596.1 L241.1 596.0 L242.9 596.0 L244.8 596.0 L246.3 596.1 L247.9 595.9 L249.6 596.2 L251.4 596.0 L253.1 596.2 L254.8 595.8 L256.4 596.0 L258.2 595.8 L260.1 595.8 L261.9 595.7 L263.6 595.7 L265.2 595.5 L266.5 596.0 L268.9 598.1 L270.8 601.2 L272.7 603.5 L274.7 606.2 L276.6 608.5 L278.8 611.5 L280.9 614.2 L283.0 616.5 L285.2 618.6 L287.5 619.5 L289.6 620.6 L291.2 623.1 L292.5 625.8 L293.0 626.8 L293.9 627.2 L295.4 627.8 L297.4 628.5 L299.7 629.3 L301.3 629.7 L303.1 630.3 L305.0 631.1 L306.8 631.5 L308.4 632.1 L310.5 632.7 L312.2 633.7 L314.1 634.5 L315.9 635.6 L317.8 637.0 L319.7 638.6 L321.4 639.7 L323.1 641.6 L324.5 643.1 L326.3 643.7 L327.8 642.9 L329.5 641.7 L331.3 640.1 L333.0 638.2 L334.4 636.8 L336.8 633.4 L338.7 631.0 L340.3 630.9 L342.5 629.5 L343.7 628.0 L345.2 625.8 L346.9 623.2 L348.6 620.6 L350.2 617.9 L351.7 615.7 L353.6 612.5 L355.4 609.0 L357.1 605.8 L358.9 602.7 L360.7 599.9 L362.6 597.0 L364.4 595.0 L366.1 593.1 L368.1 592.1 L369.9 592.3 L371.9 592.6 L373.6 592.8 L375.4 593.7 L377.3 594.4 L379.1 594.6 L380.7 594.5 L382.1 594.1 L383.9 593.7 L386.4 593.4 L387.6 593.4 L388.9 593.3 L390.4 593.4 L392.0 593.4 L393.6 593.5 L395.3 593.9 L397.0 593.9 L398.7 594.0 L400.4 594.0 L402.1 593.9 L403.7 594.0 L405.3 594.1 L407.1 594.0 L408.9 594.0 L410.7 593.9 L412.5 593.6 L414.3 593.8 L416.0 593.7 L417.5 593.6 L418.9 593.6 L420.1 593.6 L421.0 593.4" fill="none" stroke="#aeaa80" stroke-width="1.0" stroke-linejoin="round"/>
<rect x="518.5" y="578.5" width="335.0" height="98.0" fill="#eff1f6" stroke="none"/>
<path d="M518.5 676.5V578.5H853.5" fill="none" stroke="#828282" stroke-width="1"/>
<path d="M853.5 578.5V676.5" fill="none" stroke="#828282" stroke-width="1"/>
<path d="M518.5 676.5H853.5" fill="none" stroke="#828282" stroke-width="1"/>
<rect x="523.5" y="583.5" width="325.0" height="88.0" fill="#fff" stroke="#c3c4c9" stroke-width="1"/>
<path d="M549.5 593.5H806.5" stroke="#ededed" stroke-width="1"/>
<path d="M549.5 608.5H806.5" stroke="#ededed" stroke-width="1"/>
<path d="M549.5 623.5H806.5" stroke="#ededed" stroke-width="1"/>
<path d="M549.5 638.5H806.5" stroke="#ededed" stroke-width="1"/>
<path d="M549.5 587.5H806.5V649.5" fill="none" stroke="#e2e2e2" stroke-width="1"/>
<path d="M549.5 587.5V649.5H806.5" fill="none" stroke="#a4a4a4" stroke-width="1"/>
<path d="M548.0 590.5H549.5M546.5 593.5H549.5M548.0 596.5H549.5M548.0 599.5H549.5M548.0 602.5H549.5M548.0 605.5H549.5M546.5 608.5H549.5M548.0 611.5H549.5M548.0 614.5H549.5M548.0 617.5H549.5M548.0 620.5H549.5M546.5 623.5H549.5M548.0 626.5H549.5M548.0 629.5H549.5M548.0 632.5H549.5M548.0 635.5H549.5M546.5 638.5H549.5M548.0 641.5H549.5M548.0 644.5H549.5M548.0 647.5H549.5M554.5 649.5V651.0M559.5 649.5V651.0M564.5 649.5V651.0M569.5 649.5V651.0M574.5 649.5V652.5M579.5 649.5V651.0M584.5 649.5V651.0M589.5 649.5V651.0M594.5 649.5V651.0M599.5 649.5V652.5M604.5 649.5V651.0M609.5 649.5V651.0M614.5 649.5V651.0M619.5 649.5V651.0M624.5 649.5V652.5M629.5 649.5V651.0M634.5 649.5V651.0M639.5 649.5V651.0M644.5 649.5V651.0M649.5 649.5V652.5M654.5 649.5V651.0M659.5 649.5V651.0M664.5 649.5V651.0M669.5 649.5V651.0M674.5 649.5V652.5M679.5 649.5V651.0M684.5 649.5V651.0M689.5 649.5V651.0M694.5 649.5V651.0M699.5 649.5V652.5M704.5 649.5V651.0M709.5 649.5V651.0M714.5 649.5V651.0M719.5 649.5V651.0M724.5 649.5V652.5M729.5 649.5V651.0M734.5 649.5V651.0M739.5 649.5V651.0M744.5 649.5V651.0M749.5 649.5V652.5M754.5 649.5V651.0M759.5 649.5V651.0M764.5 649.5V651.0M769.5 649.5V651.0M774.5 649.5V652.5M779.5 649.5V651.0M784.5 649.5V651.0M789.5 649.5V651.0M794.5 649.5V651.0M799.5 649.5V652.5M804.5 649.5V651.0" stroke="#b0b0b0" stroke-width="0.8"/>
<g font-family="Liberation Sans" font-size="5.8" fill="#111" font-weight="bold"><text x="544.8" y="595.5" text-anchor="end">2</text><text x="544.8" y="610.6" text-anchor="end">0</text><text x="544.8" y="625.8" text-anchor="end">-2</text><text x="544.8" y="640.9" text-anchor="end">-4</text><text x="574.3" y="658.1" text-anchor="middle">50</text><text x="599.3" y="658.1" text-anchor="middle">100</text><text x="624.4" y="658.1" text-anchor="middle">150</text><text x="649.4" y="658.1" text-anchor="middle">200</text><text x="674.5" y="658.1" text-anchor="middle">250</text><text x="699.5" y="658.1" text-anchor="middle">300</text><text x="724.6" y="658.1" text-anchor="middle">350</text><text x="749.6" y="658.1" text-anchor="middle">400</text><text x="774.7" y="658.1" text-anchor="middle">450</text><text x="799.7" y="658.1" text-anchor="middle">500</text></g>
<text x="678.1" y="668.0" text-anchor="middle" font-family="Liberation Sans" font-size="7.6" font-weight="bold" fill="#111">µm</text>
<text transform="translate(534.1,618.5) rotate(-90)" x="0" y="0" text-anchor="middle" font-family="Liberation Sans" font-size="7.6" font-weight="bold" fill="#1a1a1a">µm</text>
<rect x="811.5" y="588.5" width="30.0" height="8.0" fill="#fff" stroke="#a8a8a8" stroke-width="0.8"/>
<path d="M813.6 592.5H822.9" stroke="#aeaa80" stroke-width="0.9"/>
<text x="824.1" y="594.5" font-family="Liberation Sans" font-size="5.6" textLength="14.1" lengthAdjust="spacingAndGlyphs" font-weight="bold" fill="#1a1a1a">Slice 1</text>
<path d="M583.0 594.9 L584.1 594.8 L585.7 594.9 L587.6 594.6 L589.6 594.8 L591.7 594.6 L593.2 594.6 L594.7 594.5 L596.2 594.7 L597.8 594.6 L599.5 594.5 L601.3 594.6 L603.2 594.6 L604.6 594.9 L606.1 595.0 L607.7 595.0 L609.3 595.2 L611.0 595.3 L612.6 595.4 L614.3 595.9 L615.9 595.7 L617.5 595.9 L619.1 596.0 L620.8 596.0 L622.6 595.7 L624.4 595.6 L626.2 595.7 L627.9 595.4 L629.6 595.2 L631.1 595.1 L632.4 595.4 L633.6 595.4 L636.3 597.2 L637.9 599.8 L639.7 601.4 L641.7 603.4 L643.7 605.6 L645.6 608.1 L647.6 610.7 L649.5 612.8 L651.4 614.7 L653.3 616.1 L655.2 617.7 L657.2 619.0 L659.3 620.1 L661.0 621.5 L662.6 624.5 L663.9 627.2 L665.0 627.9 L666.8 628.1 L668.2 628.6 L670.0 629.2 L672.0 630.0 L673.9 630.6 L675.5 631.0 L677.5 631.4 L679.3 631.6 L681.3 632.4 L682.8 633.0 L684.6 633.9 L686.4 635.1 L688.2 636.2 L689.9 637.3 L691.6 638.7 L693.3 640.2 L694.9 641.9 L696.5 643.3 L698.0 643.7 L699.7 643.3 L701.3 642.1 L702.8 640.3 L704.4 638.8 L706.0 637.1 L707.7 634.8 L709.3 632.4 L710.7 631.0 L712.4 630.7 L714.5 629.3 L715.8 627.7 L717.5 625.2 L719.2 622.5 L721.1 619.7 L722.9 616.8 L724.6 614.2 L726.5 611.5 L728.4 608.5 L730.2 605.7 L731.9 603.4 L733.3 601.2 L735.2 596.9 L737.6 594.0 L738.8 593.8 L740.2 593.8 L741.8 593.5 L743.5 594.1 L745.2 594.1 L747.0 594.2 L748.8 594.7 L750.6 594.6 L752.1 594.7 L753.7 594.6 L755.3 594.3 L756.9 594.6 L758.5 594.5 L760.1 594.4 L761.8 594.2 L763.4 594.2 L765.0 594.0 L766.6 593.7 L768.3 593.9 L769.9 593.9 L771.6 593.8 L773.2 593.6 L774.8 593.4 L776.4 593.5 L778.0 593.3 L779.5 593.4 L781.2 593.1 L783.0 593.3 L784.8 593.2 L786.6 593.0 L788.3 593.0 L789.7 592.9 L791.0 592.5 L791.9 592.6" fill="none" stroke="#aeaa80" stroke-width="1.0" stroke-linejoin="round"/>
<rect x="882.5" y="580.5" width="335.0" height="99.0" fill="#eff1f6" stroke="none"/>
<path d="M882.5 679.5V580.5H1217.5" fill="none" stroke="#828282" stroke-width="1"/>
<path d="M1217.5 580.5V679.5" fill="none" stroke="#828282" stroke-width="1"/>
<path d="M882.5 679.5H1217.5" fill="none" stroke="#828282" stroke-width="1"/>
<rect x="887.5" y="585.5" width="325.0" height="89.0" fill="#fff" stroke="#c3c4c9" stroke-width="1"/>
<path d="M914.5 593.5H1170.5" stroke="#ededed" stroke-width="1"/>
<path d="M914.5 610.5H1170.5" stroke="#ededed" stroke-width="1"/>
<path d="M914.5 627.5H1170.5" stroke="#ededed" stroke-width="1"/>
<path d="M914.5 644.5H1170.5" stroke="#ededed" stroke-width="1"/>
<path d="M914.5 590.5H1170.5V651.5" fill="none" stroke="#e2e2e2" stroke-width="1"/>
<path d="M914.5 590.5V651.5H1170.5" fill="none" stroke="#a4a4a4" stroke-width="1"/>
<path d="M911.5 593.5H914.5M913.0 596.5H914.5M913.0 600.5H914.5M913.0 603.5H914.5M913.0 606.5H914.5M911.5 610.5H914.5M913.0 613.5H914.5M913.0 617.5H914.5M913.0 620.5H914.5M913.0 623.5H914.5M911.5 627.5H914.5M913.0 630.5H914.5M913.0 633.5H914.5M913.0 637.5H914.5M913.0 640.5H914.5M911.5 644.5H914.5M913.0 647.5H914.5M913.0 650.5H914.5M918.5 651.5V653.0M923.5 651.5V653.0M928.5 651.5V653.0M933.5 651.5V653.0M938.5 651.5V654.5M943.5 651.5V653.0M948.5 651.5V653.0M953.5 651.5V653.0M958.5 651.5V653.0M963.5 651.5V654.5M968.5 651.5V653.0M973.5 651.5V653.0M978.5 651.5V653.0M983.5 651.5V653.0M988.5 651.5V654.5M993.5 651.5V653.0M998.5 651.5V653.0M1003.5 651.5V653.0M1008.5 651.5V653.0M1013.5 651.5V654.5M1018.5 651.5V653.0M1023.5 651.5V653.0M1028.5 651.5V653.0M1033.5 651.5V653.0M1038.5 651.5V654.5M1043.5 651.5V653.0M1048.5 651.5V653.0M1053.5 651.5V653.0M1058.5 651.5V653.0M1063.5 651.5V654.5M1068.5 651.5V653.0M1073.5 651.5V653.0M1078.5 651.5V653.0M1083.5 651.5V653.0M1088.5 651.5V654.5M1093.5 651.5V653.0M1098.5 651.5V653.0M1103.5 651.5V653.0M1108.5 651.5V653.0M1113.5 651.5V654.5M1118.5 651.5V653.0M1123.5 651.5V653.0M1129.5 651.5V653.0M1134.5 651.5V653.0M1139.5 651.5V654.5M1144.5 651.5V653.0M1149.5 651.5V653.0M1154.5 651.5V653.0M1159.5 651.5V653.0M1164.5 651.5V654.5M1169.5 651.5V653.0" stroke="#b0b0b0" stroke-width="0.8"/>
<g font-family="Liberation Sans" font-size="5.8" fill="#111" font-weight="bold"><text x="909.2" y="595.5" text-anchor="end">2</text><text x="909.2" y="612.4" text-anchor="end">0</text><text x="909.2" y="629.2" text-anchor="end">-2</text><text x="909.2" y="646.1" text-anchor="end">-4</text><text x="938.5" y="659.8" text-anchor="middle">50</text><text x="963.6" y="659.8" text-anchor="middle">100</text><text x="988.6" y="659.8" text-anchor="middle">150</text><text x="1013.7" y="659.8" text-anchor="middle">200</text><text x="1038.8" y="659.8" text-anchor="middle">250</text><text x="1063.8" y="659.8" text-anchor="middle">300</text><text x="1088.9" y="659.8" text-anchor="middle">350</text><text x="1114.0" y="659.8" text-anchor="middle">400</text><text x="1139.0" y="659.8" text-anchor="middle">450</text><text x="1164.1" y="659.8" text-anchor="middle">500</text></g>
<text x="1042.3" y="669.7" text-anchor="middle" font-family="Liberation Sans" font-size="7.6" font-weight="bold" fill="#111">µm</text>
<text transform="translate(898.5,620.7) rotate(-90)" x="0" y="0" text-anchor="middle" font-family="Liberation Sans" font-size="7.6" font-weight="bold" fill="#1a1a1a">µm</text>
<rect x="1175.5" y="591.5" width="30.0" height="8.0" fill="#fff" stroke="#a8a8a8" stroke-width="0.8"/>
<path d="M1177.6 595.5H1186.9" stroke="#aeaa80" stroke-width="0.9"/>
<text x="1188.1" y="597.5" font-family="Liberation Sans" font-size="5.6" textLength="14.1" lengthAdjust="spacingAndGlyphs" font-weight="bold" fill="#1a1a1a">Slice 1</text>
<path d="M947.4 597.5 L948.4 597.7 L949.7 597.5 L951.3 597.6 L953.1 597.5 L954.9 597.6 L956.7 597.5 L958.2 597.5 L959.9 597.4 L961.5 597.1 L963.2 597.3 L964.9 597.2 L966.6 597.0 L968.2 596.9 L970.1 596.6 L972.0 596.3 L973.8 596.2 L975.6 596.1 L977.1 595.8 L978.4 596.0 L980.2 596.9 L981.2 597.5 L982.7 597.1 L985.6 596.3 L986.8 596.0 L988.3 596.2 L990.0 596.0 L991.8 596.0 L993.6 595.9 L995.5 595.7 L997.2 595.8 L998.7 595.9 L1000.0 596.3 L1002.6 597.2 L1004.2 599.2 L1005.8 601.2 L1007.7 604.0 L1009.6 606.9 L1011.6 609.9 L1013.3 611.8 L1015.2 613.9 L1017.1 615.6 L1018.8 617.1 L1020.9 618.4 L1022.9 619.7 L1024.6 620.6 L1026.3 622.6 L1027.5 624.3 L1028.0 626.5 L1028.9 628.7 L1030.4 629.5 L1032.4 629.5 L1034.7 630.1 L1036.3 630.4 L1038.0 631.2 L1039.9 632.0 L1041.7 632.5 L1043.4 633.0 L1045.3 633.7 L1047.1 634.3 L1048.8 634.8 L1050.6 635.9 L1052.5 637.2 L1054.4 638.8 L1056.2 640.2 L1057.8 641.7 L1059.9 644.5 L1062.1 646.0 L1063.8 645.2 L1065.7 643.7 L1067.6 642.0 L1069.4 640.2 L1071.5 637.4 L1073.4 634.4 L1075.1 632.1 L1076.5 632.3 L1078.6 631.0 L1079.8 629.4 L1081.2 627.1 L1082.8 624.5 L1084.6 621.4 L1086.3 618.3 L1088.0 615.4 L1089.6 612.8 L1091.3 609.9 L1093.0 606.3 L1094.7 603.1 L1096.4 600.3 L1098.0 597.9 L1099.7 596.0 L1101.3 595.5 L1102.9 595.6 L1104.5 595.4 L1106.1 595.3 L1107.9 595.8 L1109.8 596.0 L1111.2 596.2 L1112.7 595.9 L1114.2 595.9 L1115.8 595.9 L1117.4 595.8 L1119.1 596.0 L1120.8 595.9 L1122.5 596.0 L1124.3 596.0 L1125.8 596.2 L1127.3 596.0 L1128.9 596.1 L1130.5 596.0 L1132.1 596.2 L1133.8 596.1 L1135.4 595.9 L1137.0 596.0 L1138.6 596.1 L1140.1 595.9 L1141.6 596.0 L1143.4 595.8 L1145.3 595.8 L1147.1 596.0 L1149.0 595.8 L1150.7 595.8 L1152.4 595.7 L1153.8 595.5 L1155.0 595.3 L1156.0 595.4" fill="none" stroke="#aeaa80" stroke-width="1.0" stroke-linejoin="round"/>
<rect x="127.5" y="828.5" width="353.0" height="90.0" fill="#eff1f6" stroke="none"/>
<path d="M127.5 918.5V828.5H480.5" fill="none" stroke="#8a8a8a" stroke-width="1"/>
<path d="M480.5 828.5V918.5" fill="none" stroke="#8a8a8a" stroke-width="1"/>
<path d="M127.5 918.5H480.5" fill="none" stroke="#8a8a8a" stroke-width="1"/>
<rect x="131.5" y="833.5" width="344.0" height="81.0" fill="#fff" stroke="#c3c4c9" stroke-width="1"/>
<path d="M149.5 844.5H445.5" stroke="#ededed" stroke-width="1"/>
<path d="M149.5 859.5H445.5" stroke="#ededed" stroke-width="1"/>
<path d="M149.5 874.5H445.5" stroke="#ededed" stroke-width="1"/>
<path d="M149.5 889.5H445.5" stroke="#ededed" stroke-width="1"/>
<path d="M149.5 837.5H445.5V895.5" fill="none" stroke="#e2e2e2" stroke-width="1"/>
<path d="M149.5 837.5V895.5H445.5" fill="none" stroke="#a4a4a4" stroke-width="1"/>
<path d="M148.0 838.5H149.5M148.0 841.5H149.5M146.5 844.5H149.5M148.0 847.5H149.5M148.0 850.5H149.5M148.0 853.5H149.5M148.0 856.5H149.5M146.5 859.5H149.5M148.0 862.5H149.5M148.0 865.5H149.5M148.0 868.5H149.5M148.0 871.5H149.5M146.5 874.5H149.5M148.0 877.5H149.5M148.0 880.5H149.5M148.0 883.5H149.5M148.0 886.5H149.5M146.5 889.5H149.5M148.0 892.5H149.5M153.5 895.5V897.0M158.5 895.5V897.0M163.5 895.5V897.0M168.5 895.5V897.0M172.5 895.5V898.5M177.5 895.5V897.0M182.5 895.5V897.0M187.5 895.5V897.0M191.5 895.5V897.0M196.5 895.5V898.5M201.5 895.5V897.0M206.5 895.5V897.0M210.5 895.5V897.0M215.5 895.5V897.0M220.5 895.5V898.5M224.5 895.5V897.0M229.5 895.5V897.0M234.5 895.5V897.0M239.5 895.5V897.0M243.5 895.5V898.5M248.5 895.5V897.0M253.5 895.5V897.0M258.5 895.5V897.0M262.5 895.5V897.0M267.5 895.5V898.5M272.5 895.5V897.0M277.5 895.5V897.0M281.5 895.5V897.0M286.5 895.5V897.0M291.5 895.5V898.5M295.5 895.5V897.0M300.5 895.5V897.0M305.5 895.5V897.0M310.5 895.5V897.0M314.5 895.5V898.5M319.5 895.5V897.0M324.5 895.5V897.0M329.5 895.5V897.0M333.5 895.5V897.0M338.5 895.5V898.5M343.5 895.5V897.0M348.5 895.5V897.0M352.5 895.5V897.0M357.5 895.5V897.0M362.5 895.5V898.5M366.5 895.5V897.0M371.5 895.5V897.0M376.5 895.5V897.0M381.5 895.5V897.0M385.5 895.5V898.5M390.5 895.5V897.0M395.5 895.5V897.0M400.5 895.5V897.0M404.5 895.5V897.0M409.5 895.5V898.5M414.5 895.5V897.0M419.5 895.5V897.0M423.5 895.5V897.0M428.5 895.5V897.0M433.5 895.5V898.5M437.5 895.5V897.0M442.5 895.5V897.0" stroke="#c0c0c0" stroke-width="0.8"/>
<g font-family="Liberation Sans" font-size="4.2" fill="#000" font-weight="bold"><text x="144.7" y="846.1" text-anchor="end">0</text><text x="144.7" y="861.2" text-anchor="end">-1</text><text x="144.7" y="876.2" text-anchor="end">-2</text><text x="144.7" y="891.3" text-anchor="end">-3</text><text x="172.9" y="902.3" text-anchor="middle">30</text><text x="196.6" y="902.3" text-anchor="middle">60</text><text x="220.2" y="902.3" text-anchor="middle">90</text><text x="243.9" y="902.3" text-anchor="middle">120</text><text x="267.6" y="902.3" text-anchor="middle">150</text><text x="291.2" y="902.3" text-anchor="middle">180</text><text x="314.9" y="902.3" text-anchor="middle">210</text><text x="338.5" y="902.3" text-anchor="middle">240</text><text x="362.2" y="902.3" text-anchor="middle">270</text><text x="385.9" y="902.3" text-anchor="middle">300</text><text x="409.5" y="902.3" text-anchor="middle">330</text><text x="433.2" y="902.3" text-anchor="middle">360</text></g>
<text x="297.7" y="909.6" text-anchor="middle" font-family="Liberation Sans" font-size="6.0" font-weight="normal" fill="#111">µm</text>
<text transform="translate(137.9,866.2) rotate(-90)" x="0" y="0" text-anchor="middle" font-family="Liberation Sans" font-size="6.0" font-weight="bold" fill="#1a1a1a">µm</text>
<rect x="449.5" y="837.5" width="22.0" height="7.0" fill="#fff" stroke="#a8a8a8" stroke-width="0.8"/>
<path d="M451.0 841.0H457.9" stroke="#aeaa80" stroke-width="0.9"/>
<text x="458.7" y="842.5" font-family="Liberation Sans" font-size="4.3" textLength="10.3" lengthAdjust="spacingAndGlyphs" font-weight="normal" fill="#1a1a1a">Slice 1</text>
<path d="M149.7 845.2 L150.6 845.0 L151.7 844.9 L153.0 844.9 L154.4 845.0 L156.1 844.8 L157.9 844.6 L159.9 844.8 L162.1 844.6 L164.5 844.6 L165.7 844.4 L167.1 844.5 L168.5 844.7 L170.0 844.6 L171.6 844.5 L173.3 844.8 L175.0 844.5 L176.7 844.7 L178.5 844.9 L180.2 844.7 L182.0 844.7 L183.7 844.8 L185.4 844.8 L187.1 845.0 L188.7 845.0 L190.2 844.7 L191.6 844.8 L193.0 845.1 L194.2 844.9 L196.6 845.0 L198.7 844.8 L200.7 844.7 L202.5 844.7 L204.1 844.8 L205.5 844.7 L206.8 844.4 L208.0 844.4 L209.1 844.3 L211.6 843.0 L212.6 842.3 L213.7 842.1 L215.0 843.8 L216.3 847.3 L217.9 852.2 L219.5 855.6 L221.8 856.4 L223.9 856.5 L225.7 858.1 L227.5 860.1 L229.3 862.8 L231.3 866.0 L232.8 869.0 L234.4 872.2 L235.8 874.9 L237.4 876.5 L238.8 877.9 L240.3 880.4 L241.7 882.9 L243.0 883.3 L244.7 882.9 L246.5 882.1 L248.7 880.7 L250.6 880.3 L252.4 882.4 L254.2 885.3 L255.9 886.0 L257.8 886.3 L259.6 885.9 L262.0 884.0 L264.0 882.9 L265.6 885.5 L267.0 888.3 L268.4 889.3 L269.9 888.9 L271.8 886.5 L273.8 884.7 L275.7 886.5 L277.4 888.3 L278.7 887.6 L280.3 886.8 L281.6 886.7 L283.3 886.7 L284.9 886.4 L286.3 886.5 L288.3 885.9 L289.8 885.9 L290.7 887.9 L291.6 889.8 L293.4 890.3 L295.2 889.8 L296.3 887.2 L297.6 884.7 L299.1 883.9 L301.0 883.6 L302.6 883.2 L304.1 882.2 L305.6 880.9 L307.6 880.3 L310.0 878.8 L311.4 877.0 L312.9 875.1 L314.5 872.7 L316.0 870.5 L318.1 867.1 L320.2 863.2 L321.9 860.1 L323.6 857.0 L324.9 855.0 L326.0 854.4 L327.0 854.1 L328.1 851.8 L329.3 849.1 L330.2 846.8 L331.4 845.2 L332.4 844.7 L333.7 844.5 L336.8 844.6 L337.9 844.4 L339.1 844.7 L340.5 844.5 L341.9 844.5 L343.5 844.4 L345.2 844.5 L346.9 844.4 L348.6 844.5 L350.4 844.3 L352.2 844.4 L354.0 844.4 L355.8 844.3 L357.5 844.3 L359.0 844.4 L360.6 844.4 L362.2 844.3 L363.8 844.2 L365.5 844.5 L367.2 844.2 L368.8 844.3 L370.5 844.3 L372.2 844.4 L373.8 844.2 L375.4 844.3 L377.0 844.4 L378.5 844.1 L379.9 844.5 L381.3 844.3 L383.2 844.2 L385.1 844.1 L386.8 844.0 L388.5 843.9 L390.1 844.1 L391.6 843.8 L393.2 844.0 L394.6 843.9 L396.1 843.9 L397.6 843.8 L399.4 843.9 L401.0 843.8 L402.5 844.0 L404.0 844.0 L405.6 844.1 L407.2 844.3 L409.0 844.7 L411.0 844.6 L412.4 844.7 L413.9 844.8 L415.4 844.9 L417.1 844.9 L418.8 844.8 L420.5 844.7 L422.3 845.0 L424.0 845.0 L425.7 844.8 L427.4 845.0 L428.9 844.8 L430.4 844.7 L431.8 844.9 L433.9 844.9 L436.0 845.1 L437.9 845.0 L439.8 845.1 L441.4 845.2 L442.9 845.3 L444.1 845.2 L445.1 845.2" fill="none" stroke="#bcb88e" stroke-width="1.0" stroke-linejoin="round"/>
<rect x="497.5" y="829.5" width="354.0" height="90.0" fill="#eff1f6" stroke="none"/>
<path d="M497.5 919.5V829.5H851.5" fill="none" stroke="#8a8a8a" stroke-width="1"/>
<path d="M851.5 829.5V919.5" fill="none" stroke="#8a8a8a" stroke-width="1"/>
<path d="M497.5 919.5H851.5" fill="none" stroke="#8a8a8a" stroke-width="1"/>
<rect x="501.5" y="834.5" width="345.0" height="81.0" fill="#fff" stroke="#c3c4c9" stroke-width="1"/>
<path d="M520.5 837.5H816.5" stroke="#ededed" stroke-width="1"/>
<path d="M520.5 853.5H816.5" stroke="#ededed" stroke-width="1"/>
<path d="M520.5 869.5H816.5" stroke="#ededed" stroke-width="1"/>
<path d="M520.5 884.5H816.5" stroke="#ededed" stroke-width="1"/>
<path d="M520.5 837.5H816.5V895.5" fill="none" stroke="#e2e2e2" stroke-width="1"/>
<path d="M520.5 837.5V895.5H816.5" fill="none" stroke="#a4a4a4" stroke-width="1"/>
<path d="M519.0 840.5H520.5M519.0 843.5H520.5M519.0 847.5H520.5M519.0 850.5H520.5M517.5 853.5H520.5M519.0 856.5H520.5M519.0 859.5H520.5M519.0 862.5H520.5M519.0 865.5H520.5M517.5 868.5H520.5M519.0 872.5H520.5M519.0 875.5H520.5M519.0 878.5H520.5M519.0 881.5H520.5M517.5 884.5H520.5M519.0 887.5H520.5M519.0 890.5H520.5M519.0 894.5H520.5M524.5 895.5V897.0M529.5 895.5V897.0M533.5 895.5V897.0M538.5 895.5V897.0M543.5 895.5V898.5M548.5 895.5V897.0M552.5 895.5V897.0M557.5 895.5V897.0M562.5 895.5V897.0M567.5 895.5V898.5M571.5 895.5V897.0M576.5 895.5V897.0M581.5 895.5V897.0M586.5 895.5V897.0M590.5 895.5V898.5M595.5 895.5V897.0M600.5 895.5V897.0M605.5 895.5V897.0M609.5 895.5V897.0M614.5 895.5V898.5M619.5 895.5V897.0M623.5 895.5V897.0M628.5 895.5V897.0M633.5 895.5V897.0M638.5 895.5V898.5M642.5 895.5V897.0M647.5 895.5V897.0M652.5 895.5V897.0M657.5 895.5V897.0M661.5 895.5V898.5M666.5 895.5V897.0M671.5 895.5V897.0M676.5 895.5V897.0M680.5 895.5V897.0M685.5 895.5V898.5M690.5 895.5V897.0M695.5 895.5V897.0M699.5 895.5V897.0M704.5 895.5V897.0M709.5 895.5V898.5M714.5 895.5V897.0M718.5 895.5V897.0M723.5 895.5V897.0M728.5 895.5V897.0M733.5 895.5V898.5M737.5 895.5V897.0M742.5 895.5V897.0M747.5 895.5V897.0M751.5 895.5V897.0M756.5 895.5V898.5M761.5 895.5V897.0M766.5 895.5V897.0M770.5 895.5V897.0M775.5 895.5V897.0M780.5 895.5V898.5M785.5 895.5V897.0M789.5 895.5V897.0M794.5 895.5V897.0M799.5 895.5V897.0M804.5 895.5V898.5M808.5 895.5V897.0M813.5 895.5V897.0" stroke="#c0c0c0" stroke-width="0.8"/>
<g font-family="Liberation Sans" font-size="4.2" fill="#000" font-weight="bold"><text x="515.6" y="854.8" text-anchor="end">0</text><text x="515.6" y="870.5" text-anchor="end">-1</text><text x="515.6" y="886.2" text-anchor="end">-2</text><text x="543.4" y="902.9" text-anchor="middle">30</text><text x="567.1" y="902.9" text-anchor="middle">60</text><text x="590.8" y="902.9" text-anchor="middle">90</text><text x="614.5" y="902.9" text-anchor="middle">120</text><text x="638.2" y="902.9" text-anchor="middle">150</text><text x="661.9" y="902.9" text-anchor="middle">180</text><text x="685.6" y="902.9" text-anchor="middle">210</text><text x="709.3" y="902.9" text-anchor="middle">240</text><text x="733.0" y="902.9" text-anchor="middle">270</text><text x="756.7" y="902.9" text-anchor="middle">300</text><text x="780.4" y="902.9" text-anchor="middle">330</text><text x="804.1" y="902.9" text-anchor="middle">360</text></g>
<text x="668.6" y="910.2" text-anchor="middle" font-family="Liberation Sans" font-size="6.0" font-weight="normal" fill="#111">µm</text>
<text transform="translate(508.8,866.8) rotate(-90)" x="0" y="0" text-anchor="middle" font-family="Liberation Sans" font-size="6.0" font-weight="bold" fill="#1a1a1a">µm</text>
<rect x="820.5" y="838.5" width="22.0" height="7.0" fill="#fff" stroke="#a8a8a8" stroke-width="0.8"/>
<path d="M822.0 842.0H828.9" stroke="#aeaa80" stroke-width="0.9"/>
<text x="829.7" y="843.5" font-family="Liberation Sans" font-size="4.3" textLength="10.3" lengthAdjust="spacingAndGlyphs" font-weight="normal" fill="#1a1a1a">Slice 1</text>
<path d="M521.2 843.2 L522.1 843.1 L523.1 843.1 L524.3 843.4 L525.5 843.4 L526.9 843.4 L528.5 843.6 L530.0 843.5 L531.7 843.7 L533.4 843.9 L535.2 843.7 L537.0 844.1 L538.8 844.0 L540.7 844.0 L542.5 844.0 L544.3 844.2 L546.0 844.1 L547.8 844.2 L549.4 844.3 L550.9 844.5 L552.5 844.5 L554.2 844.1 L555.8 844.2 L557.5 844.3 L559.2 844.3 L560.9 844.1 L562.6 844.0 L564.2 844.2 L565.9 844.2 L567.6 844.0 L569.2 843.9 L570.8 844.1 L572.3 844.0 L573.8 844.0 L575.2 843.8 L576.6 844.1 L577.9 843.7 L579.1 843.8 L581.4 843.6 L583.5 843.4 L585.4 843.3 L587.1 843.3 L588.6 843.4 L590.1 843.2 L591.4 843.0 L592.7 843.1 L593.9 843.2 L596.4 843.5 L598.3 844.0 L599.9 844.6 L601.3 845.2 L603.0 847.9 L604.3 851.2 L606.1 853.9 L608.2 856.2 L609.8 856.4 L611.5 856.5 L613.2 857.1 L614.8 859.3 L616.3 862.2 L617.7 864.5 L619.2 866.1 L620.6 867.5 L622.1 870.9 L623.6 874.9 L625.4 879.3 L627.2 881.8 L629.1 879.3 L631.0 876.4 L632.5 877.2 L634.0 878.8 L635.4 877.7 L637.0 877.0 L639.2 879.4 L641.4 882.4 L642.8 884.7 L644.4 886.8 L646.3 887.5 L648.5 887.7 L650.3 887.7 L651.7 886.0 L652.7 884.7 L654.2 886.8 L655.7 889.8 L656.7 891.0 L657.8 890.7 L659.6 886.5 L661.6 882.9 L663.1 885.2 L664.6 888.9 L665.8 889.8 L667.6 889.8 L668.9 889.8 L670.6 889.7 L672.4 889.5 L674.2 888.8 L675.6 888.3 L678.1 885.1 L680.0 882.4 L681.2 884.8 L683.0 887.7 L684.5 887.4 L686.3 886.9 L688.3 885.7 L690.2 884.6 L691.9 883.8 L694.0 883.1 L695.7 882.4 L697.8 880.9 L699.4 878.9 L701.2 876.2 L703.1 873.2 L705.0 870.4 L706.7 867.5 L708.3 865.0 L710.0 862.2 L711.5 859.9 L713.0 857.7 L714.2 855.6 L716.3 851.7 L718.0 849.1 L719.3 847.6 L720.7 846.4 L723.1 845.2 L724.3 844.8 L725.7 844.7 L727.2 844.7 L728.8 844.4 L730.5 844.4 L732.4 844.5 L734.3 844.3 L736.4 844.3 L737.8 844.3 L739.2 844.1 L740.7 844.1 L742.3 844.0 L744.0 843.9 L745.7 843.9 L747.4 843.9 L749.1 844.0 L750.8 844.0 L752.5 843.8 L754.1 843.7 L755.7 843.9 L757.2 843.8 L758.9 843.7 L760.5 843.8 L762.1 843.8 L763.6 844.1 L765.2 843.9 L766.7 844.2 L768.2 844.1 L769.8 844.3 L771.4 844.2 L773.2 844.2 L775.0 844.3 L776.4 844.3 L777.9 844.3 L779.5 844.2 L781.1 844.1 L782.7 843.9 L784.4 843.7 L786.1 843.6 L787.8 843.5 L789.5 843.2 L791.1 843.0 L792.8 842.9 L794.4 842.6 L795.9 842.7 L797.4 842.8 L798.8 842.6 L800.7 842.4 L802.6 842.6 L804.4 842.9 L806.3 842.9 L808.0 843.1 L809.7 843.2 L811.3 843.4 L812.7 843.6 L814.0 843.5 L815.1 843.9 L816.0 843.8" fill="none" stroke="#bcb88e" stroke-width="1.0" stroke-linejoin="round"/>
<rect x="874.5" y="830.5" width="353.0" height="90.0" fill="#eff1f6" stroke="none"/>
<path d="M874.5 920.5V830.5H1227.5" fill="none" stroke="#8a8a8a" stroke-width="1"/>
<path d="M1227.5 830.5V920.5" fill="none" stroke="#8a8a8a" stroke-width="1"/>
<path d="M874.5 920.5H1227.5" fill="none" stroke="#8a8a8a" stroke-width="1"/>
<rect x="879.5" y="834.5" width="344.0" height="82.0" fill="#fff" stroke="#c3c4c9" stroke-width="1"/>
<path d="M901.5 843.5H1192.5" stroke="#ededed" stroke-width="1"/>
<path d="M901.5 852.5H1192.5" stroke="#ededed" stroke-width="1"/>
<path d="M901.5 862.5H1192.5" stroke="#ededed" stroke-width="1"/>
<path d="M901.5 871.5H1192.5" stroke="#ededed" stroke-width="1"/>
<path d="M901.5 881.5H1192.5" stroke="#ededed" stroke-width="1"/>
<path d="M901.5 890.5H1192.5" stroke="#ededed" stroke-width="1"/>
<path d="M901.5 838.5H1192.5V896.5" fill="none" stroke="#e2e2e2" stroke-width="1"/>
<path d="M901.5 838.5V896.5H1192.5" fill="none" stroke="#a4a4a4" stroke-width="1"/>
<path d="M900.0 839.5H901.5M900.0 841.5H901.5M898.5 843.5H901.5M900.0 845.5H901.5M900.0 847.5H901.5M900.0 848.5H901.5M900.0 850.5H901.5M898.5 852.5H901.5M900.0 854.5H901.5M900.0 856.5H901.5M900.0 858.5H901.5M900.0 860.5H901.5M898.5 862.5H901.5M900.0 864.5H901.5M900.0 865.5H901.5M900.0 867.5H901.5M900.0 869.5H901.5M898.5 871.5H901.5M900.0 873.5H901.5M900.0 875.5H901.5M900.0 877.5H901.5M900.0 879.5H901.5M898.5 881.5H901.5M900.0 883.5H901.5M900.0 884.5H901.5M900.0 886.5H901.5M900.0 888.5H901.5M898.5 890.5H901.5M900.0 892.5H901.5M900.0 894.5H901.5M900.0 896.5H901.5M904.5 896.5V898.0M909.5 896.5V898.0M913.5 896.5V898.0M918.5 896.5V898.0M923.5 896.5V899.5M927.5 896.5V898.0M932.5 896.5V898.0M937.5 896.5V898.0M942.5 896.5V898.0M946.5 896.5V899.5M951.5 896.5V898.0M956.5 896.5V898.0M960.5 896.5V898.0M965.5 896.5V898.0M970.5 896.5V899.5M974.5 896.5V898.0M979.5 896.5V898.0M984.5 896.5V898.0M988.5 896.5V898.0M993.5 896.5V899.5M998.5 896.5V898.0M1003.5 896.5V898.0M1007.5 896.5V898.0M1012.5 896.5V898.0M1017.5 896.5V899.5M1021.5 896.5V898.0M1026.5 896.5V898.0M1031.5 896.5V898.0M1035.5 896.5V898.0M1040.5 896.5V899.5M1045.5 896.5V898.0M1049.5 896.5V898.0M1054.5 896.5V898.0M1059.5 896.5V898.0M1064.5 896.5V899.5M1068.5 896.5V898.0M1073.5 896.5V898.0M1078.5 896.5V898.0M1082.5 896.5V898.0M1087.5 896.5V899.5M1092.5 896.5V898.0M1096.5 896.5V898.0M1101.5 896.5V898.0M1106.5 896.5V898.0M1110.5 896.5V899.5M1115.5 896.5V898.0M1120.5 896.5V898.0M1125.5 896.5V898.0M1129.5 896.5V898.0M1134.5 896.5V899.5M1139.5 896.5V898.0M1143.5 896.5V898.0M1148.5 896.5V898.0M1153.5 896.5V898.0M1157.5 896.5V899.5M1162.5 896.5V898.0M1167.5 896.5V898.0M1171.5 896.5V898.0M1176.5 896.5V898.0M1181.5 896.5V899.5M1185.5 896.5V898.0M1190.5 896.5V898.0" stroke="#c0c0c0" stroke-width="0.8"/>
<g font-family="Liberation Sans" font-size="4.2" fill="#000" font-weight="bold"><text x="896.0" y="844.7" text-anchor="end">0</text><text x="896.0" y="854.2" text-anchor="end">-0.5</text><text x="896.0" y="863.7" text-anchor="end">-1</text><text x="896.0" y="873.2" text-anchor="end">-1.5</text><text x="896.0" y="882.7" text-anchor="end">-2</text><text x="896.0" y="892.2" text-anchor="end">-2.5</text><text x="923.3" y="903.8" text-anchor="middle">30</text><text x="946.8" y="903.8" text-anchor="middle">60</text><text x="970.2" y="903.8" text-anchor="middle">90</text><text x="993.7" y="903.8" text-anchor="middle">120</text><text x="1017.1" y="903.8" text-anchor="middle">150</text><text x="1040.6" y="903.8" text-anchor="middle">180</text><text x="1064.0" y="903.8" text-anchor="middle">210</text><text x="1087.5" y="903.8" text-anchor="middle">240</text><text x="1110.9" y="903.8" text-anchor="middle">270</text><text x="1134.4" y="903.8" text-anchor="middle">300</text><text x="1157.8" y="903.8" text-anchor="middle">330</text><text x="1181.3" y="903.8" text-anchor="middle">360</text></g>
<text x="1046.8" y="911.1" text-anchor="middle" font-family="Liberation Sans" font-size="6.0" font-weight="normal" fill="#111">µm</text>
<text transform="translate(885.7,867.5) rotate(-90)" x="0" y="0" text-anchor="middle" font-family="Liberation Sans" font-size="6.0" font-weight="bold" fill="#1a1a1a">µm</text>
<rect x="1196.5" y="838.5" width="22.0" height="8.0" fill="#fff" stroke="#a8a8a8" stroke-width="0.8"/>
<path d="M1198.0 842.5H1204.9" stroke="#aeaa80" stroke-width="0.9"/>
<text x="1205.7" y="844.0" font-family="Liberation Sans" font-size="4.3" textLength="10.3" lengthAdjust="spacingAndGlyphs" font-weight="normal" fill="#1a1a1a">Slice 1</text>
<path d="M901.6 846.1 L902.8 846.1 L904.5 845.9 L906.5 846.1 L908.6 845.9 L910.5 846.1 L912.3 846.2 L914.2 846.7 L916.0 847.0 L917.8 847.0 L919.4 847.3 L920.8 847.1 L921.8 846.9 L923.1 846.6 L925.4 846.1 L926.6 846.0 L927.9 845.9 L929.3 845.9 L930.9 845.9 L932.5 846.1 L934.2 845.8 L936.0 845.8 L937.8 845.8 L939.6 845.8 L941.4 845.7 L943.2 845.8 L944.8 845.7 L946.4 845.8 L948.2 845.8 L950.0 845.9 L951.8 845.8 L953.6 845.5 L955.4 845.6 L957.2 845.6 L958.8 845.9 L960.4 845.7 L961.8 845.7 L963.0 846.0 L964.0 845.8 L966.7 846.0 L967.0 846.7 L968.1 849.6 L969.3 852.1 L970.9 852.5 L972.9 852.1 L974.8 852.4 L977.0 852.5 L978.8 853.3 L980.5 854.7 L981.8 857.1 L983.3 860.8 L984.8 863.9 L986.0 864.6 L987.1 865.1 L988.0 867.7 L989.2 870.5 L990.6 871.5 L992.2 872.2 L993.7 872.9 L995.2 873.6 L996.6 874.9 L998.1 878.8 L999.6 882.4 L1001.4 882.4 L1003.2 880.9 L1004.4 878.2 L1005.5 877.0 L1007.1 880.3 L1009.1 884.7 L1010.9 885.9 L1012.8 886.6 L1014.5 886.8 L1016.1 884.9 L1017.4 883.8 L1018.9 887.0 L1020.4 890.7 L1021.8 892.0 L1023.4 891.3 L1025.7 887.6 L1027.8 884.7 L1028.5 887.3 L1029.3 890.7 L1030.5 890.9 L1032.1 889.8 L1033.8 889.2 L1035.8 889.4 L1037.9 889.2 L1039.7 888.9 L1041.1 886.8 L1042.1 884.7 L1043.4 883.3 L1044.7 882.9 L1045.8 885.5 L1047.1 888.3 L1048.3 887.9 L1049.8 887.1 L1051.6 885.9 L1053.3 885.5 L1055.2 884.8 L1057.2 883.7 L1059.0 882.9 L1061.0 881.4 L1062.8 879.4 L1064.9 876.4 L1066.6 873.5 L1068.5 869.8 L1070.4 865.8 L1072.3 862.0 L1073.8 858.6 L1075.6 854.4 L1076.9 850.9 L1078.3 848.2 L1080.0 846.9 L1081.8 846.4 L1084.2 846.1 L1085.7 845.9 L1087.5 845.9 L1089.4 846.0 L1091.3 845.8 L1093.1 845.8 L1094.6 845.8 L1096.3 845.5 L1097.7 844.8 L1099.0 844.4 L1100.6 844.3 L1102.2 844.7 L1104.0 845.1 L1105.9 845.8 L1107.8 846.3 L1109.5 846.7 L1111.2 846.5 L1112.7 845.6 L1114.5 844.8 L1116.9 844.3 L1118.2 844.2 L1119.6 843.9 L1121.2 843.9 L1122.8 844.0 L1124.6 843.9 L1126.4 844.0 L1128.1 844.0 L1129.9 843.9 L1131.6 843.9 L1133.2 843.8 L1134.8 843.5 L1136.3 843.7 L1137.7 843.6 L1139.1 843.3 L1140.5 843.3 L1142.1 843.3 L1143.8 843.4 L1145.8 843.2 L1148.1 843.2 L1149.3 843.2 L1150.7 843.1 L1152.2 843.2 L1153.7 843.6 L1155.4 843.6 L1157.1 843.6 L1158.8 843.5 L1160.6 843.6 L1162.4 844.0 L1164.2 844.1 L1166.0 844.2 L1167.8 844.3 L1169.5 844.1 L1171.1 844.2 L1172.7 844.6 L1174.1 844.7 L1175.5 844.5 L1176.7 844.6 L1177.8 844.6 L1181.0 844.5 L1183.0 844.1 L1184.4 843.9 L1185.5 843.6 L1186.7 843.2 L1188.9 843.4 L1190.8 843.5 L1192.0 843.8" fill="none" stroke="#bcb88e" stroke-width="1.0" stroke-linejoin="round"/>
<rect x="129.5" y="948.5" width="353.0" height="90.0" fill="#eff1f6" stroke="none"/>
<path d="M129.5 1038.5V948.5H482.5" fill="none" stroke="#8a8a8a" stroke-width="1"/>
<path d="M482.5 948.5V1038.5" fill="none" stroke="#8a8a8a" stroke-width="1"/>
<path d="M129.5 1038.5H482.5" fill="none" stroke="#8a8a8a" stroke-width="1"/>
<rect x="134.5" y="952.5" width="344.0" height="82.0" fill="#fff" stroke="#c3c4c9" stroke-width="1"/>
<path d="M152.5 967.5H448.5" stroke="#ededed" stroke-width="1"/>
<path d="M152.5 977.5H448.5" stroke="#ededed" stroke-width="1"/>
<path d="M152.5 988.5H448.5" stroke="#ededed" stroke-width="1"/>
<path d="M152.5 998.5H448.5" stroke="#ededed" stroke-width="1"/>
<path d="M152.5 1009.5H448.5" stroke="#ededed" stroke-width="1"/>
<path d="M152.5 956.5H448.5V1014.5" fill="none" stroke="#e2e2e2" stroke-width="1"/>
<path d="M152.5 956.5V1014.5H448.5" fill="none" stroke="#a4a4a4" stroke-width="1"/>
<path d="M149.5 956.5H152.5M151.0 958.5H152.5M151.0 961.5H152.5M151.0 963.5H152.5M151.0 965.5H152.5M149.5 967.5H152.5M151.0 969.5H152.5M151.0 971.5H152.5M151.0 973.5H152.5M151.0 975.5H152.5M149.5 977.5H152.5M151.0 979.5H152.5M151.0 981.5H152.5M151.0 984.5H152.5M151.0 986.5H152.5M149.5 988.5H152.5M151.0 990.5H152.5M151.0 992.5H152.5M151.0 994.5H152.5M151.0 996.5H152.5M149.5 998.5H152.5M151.0 1000.5H152.5M151.0 1002.5H152.5M151.0 1005.5H152.5M151.0 1007.5H152.5M149.5 1009.5H152.5M151.0 1011.5H152.5M151.0 1013.5H152.5M156.5 1014.5V1016.0M161.5 1014.5V1016.0M166.5 1014.5V1016.0M170.5 1014.5V1016.0M175.5 1014.5V1017.5M180.5 1014.5V1016.0M184.5 1014.5V1016.0M189.5 1014.5V1016.0M194.5 1014.5V1016.0M199.5 1014.5V1017.5M203.5 1014.5V1016.0M208.5 1014.5V1016.0M213.5 1014.5V1016.0M218.5 1014.5V1016.0M222.5 1014.5V1017.5M227.5 1014.5V1016.0M232.5 1014.5V1016.0M237.5 1014.5V1016.0M241.5 1014.5V1016.0M246.5 1014.5V1017.5M251.5 1014.5V1016.0M256.5 1014.5V1016.0M260.5 1014.5V1016.0M265.5 1014.5V1016.0M270.5 1014.5V1017.5M275.5 1014.5V1016.0M279.5 1014.5V1016.0M284.5 1014.5V1016.0M289.5 1014.5V1016.0M294.5 1014.5V1017.5M298.5 1014.5V1016.0M303.5 1014.5V1016.0M308.5 1014.5V1016.0M312.5 1014.5V1016.0M317.5 1014.5V1017.5M322.5 1014.5V1016.0M327.5 1014.5V1016.0M331.5 1014.5V1016.0M336.5 1014.5V1016.0M341.5 1014.5V1017.5M346.5 1014.5V1016.0M350.5 1014.5V1016.0M355.5 1014.5V1016.0M360.5 1014.5V1016.0M365.5 1014.5V1017.5M369.5 1014.5V1016.0M374.5 1014.5V1016.0M379.5 1014.5V1016.0M384.5 1014.5V1016.0M388.5 1014.5V1017.5M393.5 1014.5V1016.0M398.5 1014.5V1016.0M403.5 1014.5V1016.0M407.5 1014.5V1016.0M412.5 1014.5V1017.5M417.5 1014.5V1016.0M421.5 1014.5V1016.0M426.5 1014.5V1016.0M431.5 1014.5V1016.0M436.5 1014.5V1017.5M440.5 1014.5V1016.0M445.5 1014.5V1016.0" stroke="#c0c0c0" stroke-width="0.8"/>
<g font-family="Liberation Sans" font-size="4.2" fill="#000" font-weight="bold"><text x="147.7" y="968.8" text-anchor="end">0</text><text x="147.7" y="979.3" text-anchor="end">-1</text><text x="147.7" y="989.8" text-anchor="end">-2</text><text x="147.7" y="1000.2" text-anchor="end">-3</text><text x="147.7" y="1010.7" text-anchor="end">-4</text><text x="175.5" y="1021.4" text-anchor="middle">30</text><text x="199.2" y="1021.4" text-anchor="middle">60</text><text x="222.9" y="1021.4" text-anchor="middle">90</text><text x="246.6" y="1021.4" text-anchor="middle">120</text><text x="270.3" y="1021.4" text-anchor="middle">150</text><text x="294.0" y="1021.4" text-anchor="middle">180</text><text x="317.7" y="1021.4" text-anchor="middle">210</text><text x="341.4" y="1021.4" text-anchor="middle">240</text><text x="365.1" y="1021.4" text-anchor="middle">270</text><text x="388.8" y="1021.4" text-anchor="middle">300</text><text x="412.5" y="1021.4" text-anchor="middle">330</text><text x="436.2" y="1021.4" text-anchor="middle">360</text></g>
<text x="300.4" y="1028.7" text-anchor="middle" font-family="Liberation Sans" font-size="6.0" font-weight="normal" fill="#111">µm</text>
<text transform="translate(140.9,985.2) rotate(-90)" x="0" y="0" text-anchor="middle" font-family="Liberation Sans" font-size="6.0" font-weight="bold" fill="#1a1a1a">µm</text>
<rect x="452.5" y="957.5" width="22.0" height="7.0" fill="#fff" stroke="#a8a8a8" stroke-width="0.8"/>
<path d="M454.0 961.0H460.9" stroke="#aeaa80" stroke-width="0.9"/>
<text x="461.7" y="962.5" font-family="Liberation Sans" font-size="4.3" textLength="10.3" lengthAdjust="spacingAndGlyphs" font-weight="normal" fill="#1a1a1a">Slice 1</text>
<path d="M153.3 963.8 L154.3 963.6 L155.5 963.5 L157.1 963.6 L158.8 963.4 L160.6 963.2 L162.4 963.3 L164.2 962.9 L165.9 962.9 L167.5 962.9 L169.3 963.0 L171.1 962.6 L172.8 963.0 L174.4 962.7 L176.1 962.7 L177.7 962.6 L179.4 962.9 L181.2 963.0 L183.0 963.1 L184.8 963.5 L186.6 964.0 L188.3 964.2 L189.9 964.0 L191.3 964.3 L193.8 963.9 L195.6 963.6 L197.2 963.2 L198.9 963.2 L200.4 963.2 L201.7 963.2 L202.8 961.9 L203.7 961.4 L204.7 962.5 L206.1 964.3 L207.4 965.7 L209.0 967.0 L210.6 968.2 L212.7 968.4 L215.0 968.8 L216.5 969.6 L218.1 970.2 L219.7 971.2 L221.0 972.1 L222.5 973.8 L223.9 975.6 L225.3 976.8 L227.0 977.5 L228.4 978.6 L229.9 980.0 L231.3 981.6 L232.8 982.9 L234.3 984.5 L235.9 986.1 L237.3 987.5 L238.0 986.6 L238.8 986.0 L240.8 987.1 L243.2 989.0 L244.7 990.8 L246.2 992.7 L247.7 994.9 L250.0 997.9 L252.1 1000.3 L253.6 1000.9 L255.1 1000.9 L256.4 1001.7 L257.9 1002.5 L259.6 1002.9 L261.5 1003.1 L263.6 1003.3 L265.5 1003.8 L267.9 1004.9 L269.9 1005.9 L271.5 1005.2 L272.9 1004.4 L274.3 1005.5 L275.9 1006.8 L278.1 1006.9 L280.3 1006.8 L281.7 1008.2 L283.3 1008.9 L285.0 1007.6 L286.9 1005.8 L288.6 1004.7 L290.0 1006.5 L291.6 1008.9 L292.9 1008.9 L294.3 1008.7 L296.0 1008.3 L298.1 1007.7 L299.5 1007.3 L301.2 1007.3 L303.0 1006.8 L304.8 1006.8 L306.7 1006.3 L308.4 1006.2 L310.0 1005.9 L312.0 1005.5 L313.9 1004.9 L315.7 1004.7 L317.4 1004.4 L318.9 1003.8 L320.5 1003.4 L321.9 1003.0 L323.3 1001.9 L324.9 1000.9 L326.5 999.6 L328.3 997.6 L330.2 995.7 L332.1 994.1 L333.8 992.0 L335.8 989.7 L337.7 987.4 L339.5 985.2 L341.2 983.1 L343.2 980.4 L345.1 978.3 L347.1 975.6 L348.6 973.5 L350.2 971.2 L351.9 969.1 L353.4 966.8 L354.6 965.2 L355.6 963.3 L357.5 962.9 L358.6 962.7 L359.9 962.8 L361.4 962.4 L363.0 962.6 L364.7 962.7 L366.6 962.3 L368.5 962.3 L370.4 962.4 L372.4 962.3 L373.8 962.2 L375.2 962.1 L376.7 962.3 L378.3 962.1 L379.8 962.1 L381.4 961.9 L383.1 961.9 L384.7 961.8 L386.4 961.7 L388.1 961.8 L389.8 961.7 L391.5 961.8 L393.2 961.7 L394.7 961.8 L396.3 961.6 L397.8 961.6 L399.5 961.7 L401.1 961.6 L402.8 961.6 L404.4 961.6 L406.1 961.8 L407.7 961.5 L409.3 961.7 L410.9 961.6 L412.5 961.8 L414.0 961.6 L415.5 961.6 L416.9 961.7 L418.8 961.7 L420.6 961.8 L422.3 961.7 L424.0 961.7 L425.7 961.6 L427.3 961.6 L428.8 961.6 L430.4 961.6 L431.8 961.4 L433.3 961.4 L434.7 961.4 L436.6 961.4 L438.6 961.3 L440.4 961.5 L442.2 961.7 L443.9 961.4 L445.3 961.6 L446.5 961.8 L447.5 961.7" fill="none" stroke="#bcb88e" stroke-width="1.0" stroke-linejoin="round"/>
<rect x="500.5" y="949.5" width="353.0" height="90.0" fill="#eff1f6" stroke="none"/>
<path d="M500.5 1039.5V949.5H853.5" fill="none" stroke="#8a8a8a" stroke-width="1"/>
<path d="M853.5 949.5V1039.5" fill="none" stroke="#8a8a8a" stroke-width="1"/>
<path d="M500.5 1039.5H853.5" fill="none" stroke="#8a8a8a" stroke-width="1"/>
<rect x="504.5" y="954.5" width="345.0" height="81.0" fill="#fff" stroke="#c3c4c9" stroke-width="1"/>
<path d="M524.5 958.5H819.5" stroke="#ededed" stroke-width="1"/>
<path d="M524.5 967.5H819.5" stroke="#ededed" stroke-width="1"/>
<path d="M524.5 977.5H819.5" stroke="#ededed" stroke-width="1"/>
<path d="M524.5 986.5H819.5" stroke="#ededed" stroke-width="1"/>
<path d="M524.5 995.5H819.5" stroke="#ededed" stroke-width="1"/>
<path d="M524.5 1004.5H819.5" stroke="#ededed" stroke-width="1"/>
<path d="M524.5 1014.5H819.5" stroke="#ededed" stroke-width="1"/>
<path d="M524.5 958.5H819.5V1015.5" fill="none" stroke="#e2e2e2" stroke-width="1"/>
<path d="M524.5 958.5V1015.5H819.5" fill="none" stroke="#a4a4a4" stroke-width="1"/>
<path d="M521.5 958.5H524.5M523.0 960.5H524.5M523.0 962.5H524.5M523.0 964.5H524.5M523.0 966.5H524.5M521.5 967.5H524.5M523.0 969.5H524.5M523.0 971.5H524.5M523.0 973.5H524.5M523.0 975.5H524.5M521.5 977.5H524.5M523.0 979.5H524.5M523.0 980.5H524.5M523.0 982.5H524.5M523.0 984.5H524.5M521.5 986.5H524.5M523.0 988.5H524.5M523.0 990.5H524.5M523.0 992.5H524.5M523.0 993.5H524.5M521.5 995.5H524.5M523.0 997.5H524.5M523.0 999.5H524.5M523.0 1001.5H524.5M523.0 1003.5H524.5M521.5 1004.5H524.5M523.0 1006.5H524.5M523.0 1008.5H524.5M523.0 1010.5H524.5M523.0 1012.5H524.5M521.5 1014.5H524.5M527.5 1015.5V1017.0M532.5 1015.5V1017.0M536.5 1015.5V1017.0M541.5 1015.5V1017.0M546.5 1015.5V1018.5M551.5 1015.5V1017.0M555.5 1015.5V1017.0M560.5 1015.5V1017.0M565.5 1015.5V1017.0M570.5 1015.5V1018.5M574.5 1015.5V1017.0M579.5 1015.5V1017.0M584.5 1015.5V1017.0M589.5 1015.5V1017.0M593.5 1015.5V1018.5M598.5 1015.5V1017.0M603.5 1015.5V1017.0M607.5 1015.5V1017.0M612.5 1015.5V1017.0M617.5 1015.5V1018.5M622.5 1015.5V1017.0M626.5 1015.5V1017.0M631.5 1015.5V1017.0M636.5 1015.5V1017.0M641.5 1015.5V1018.5M645.5 1015.5V1017.0M650.5 1015.5V1017.0M655.5 1015.5V1017.0M660.5 1015.5V1017.0M664.5 1015.5V1018.5M669.5 1015.5V1017.0M674.5 1015.5V1017.0M678.5 1015.5V1017.0M683.5 1015.5V1017.0M688.5 1015.5V1018.5M693.5 1015.5V1017.0M697.5 1015.5V1017.0M702.5 1015.5V1017.0M707.5 1015.5V1017.0M712.5 1015.5V1018.5M716.5 1015.5V1017.0M721.5 1015.5V1017.0M726.5 1015.5V1017.0M731.5 1015.5V1017.0M735.5 1015.5V1018.5M740.5 1015.5V1017.0M745.5 1015.5V1017.0M749.5 1015.5V1017.0M754.5 1015.5V1017.0M759.5 1015.5V1018.5M764.5 1015.5V1017.0M768.5 1015.5V1017.0M773.5 1015.5V1017.0M778.5 1015.5V1017.0M783.5 1015.5V1018.5M787.5 1015.5V1017.0M792.5 1015.5V1017.0M797.5 1015.5V1017.0M802.5 1015.5V1017.0M806.5 1015.5V1018.5M811.5 1015.5V1017.0M816.5 1015.5V1017.0" stroke="#c0c0c0" stroke-width="0.8"/>
<g font-family="Liberation Sans" font-size="4.2" fill="#000" font-weight="bold"><text x="519.1" y="960.2" text-anchor="end">2</text><text x="519.1" y="969.5" text-anchor="end">1</text><text x="519.1" y="978.7" text-anchor="end">0</text><text x="519.1" y="988.0" text-anchor="end">-1</text><text x="519.1" y="997.2" text-anchor="end">-2</text><text x="519.1" y="1006.5" text-anchor="end">-3</text><text x="519.1" y="1015.7" text-anchor="end">-4</text><text x="546.4" y="1022.9" text-anchor="middle">30</text><text x="570.1" y="1022.9" text-anchor="middle">60</text><text x="593.7" y="1022.9" text-anchor="middle">90</text><text x="617.4" y="1022.9" text-anchor="middle">120</text><text x="641.1" y="1022.9" text-anchor="middle">150</text><text x="664.8" y="1022.9" text-anchor="middle">180</text><text x="688.4" y="1022.9" text-anchor="middle">210</text><text x="712.1" y="1022.9" text-anchor="middle">240</text><text x="735.8" y="1022.9" text-anchor="middle">270</text><text x="759.5" y="1022.9" text-anchor="middle">300</text><text x="783.1" y="1022.9" text-anchor="middle">330</text><text x="806.8" y="1022.9" text-anchor="middle">360</text></g>
<text x="671.5" y="1030.2" text-anchor="middle" font-family="Liberation Sans" font-size="6.0" font-weight="normal" fill="#111">µm</text>
<text transform="translate(512.3,987.0) rotate(-90)" x="0" y="0" text-anchor="middle" font-family="Liberation Sans" font-size="6.0" font-weight="bold" fill="#1a1a1a">µm</text>
<rect x="822.5" y="958.5" width="23.0" height="8.0" fill="#fff" stroke="#a8a8a8" stroke-width="0.8"/>
<path d="M824.1 962.5H831.2" stroke="#aeaa80" stroke-width="0.9"/>
<text x="832.2" y="964.0" font-family="Liberation Sans" font-size="4.3" textLength="10.8" lengthAdjust="spacingAndGlyphs" font-weight="normal" fill="#1a1a1a">Slice 1</text>
<path d="M524.1 965.2 L525.0 965.2 L526.0 965.1 L527.3 965.2 L528.6 965.1 L530.1 965.1 L531.7 965.3 L533.3 965.2 L535.1 965.1 L536.9 965.2 L538.7 965.3 L540.5 965.4 L542.4 965.2 L544.2 965.1 L546.0 965.1 L547.7 965.2 L549.4 965.2 L551.0 965.4 L552.6 965.2 L554.3 965.1 L556.1 965.2 L557.9 965.2 L559.7 965.2 L561.5 965.2 L563.3 965.4 L565.1 965.4 L566.8 965.5 L568.4 965.4 L570.0 965.2 L571.5 965.2 L572.8 965.2 L574.1 965.5 L575.2 965.2 L576.1 965.2 L578.7 963.9 L578.2 963.2 L579.3 965.1 L580.6 967.3 L582.5 969.7 L584.4 971.2 L585.5 970.6 L586.5 969.7 L587.9 971.3 L589.5 973.3 L590.9 975.1 L592.4 976.2 L593.6 976.0 L595.0 975.4 L596.9 975.6 L598.5 976.2 L600.4 976.8 L602.5 977.6 L604.3 978.5 L605.8 979.5 L607.7 982.1 L608.8 984.5 L610.2 985.7 L611.7 986.9 L613.1 988.7 L614.8 991.0 L616.2 992.6 L617.7 992.7 L619.2 992.9 L621.2 994.7 L623.6 997.0 L625.6 997.8 L627.7 998.6 L629.5 999.4 L631.2 1000.9 L632.5 1002.4 L633.8 1002.0 L635.5 1001.8 L637.2 1002.9 L639.3 1004.0 L641.4 1005.3 L642.9 1006.0 L644.5 1007.0 L646.0 1007.3 L647.4 1007.7 L649.8 1006.9 L651.8 1005.9 L653.4 1007.5 L654.8 1009.2 L656.2 1008.3 L657.8 1007.7 L659.6 1009.7 L661.6 1011.3 L663.3 1010.7 L665.1 1009.4 L666.7 1008.9 L668.2 1010.1 L669.6 1011.3 L670.7 1011.2 L672.0 1010.5 L674.1 1009.8 L675.4 1009.5 L677.0 1009.5 L678.7 1009.3 L680.5 1009.4 L682.4 1009.3 L684.2 1009.2 L686.0 1008.9 L687.7 1008.8 L689.5 1008.6 L691.2 1008.3 L693.0 1007.9 L694.6 1007.6 L696.3 1007.1 L697.8 1006.8 L699.8 1006.2 L701.6 1005.8 L703.3 1004.8 L705.0 1004.0 L706.7 1002.9 L708.2 1001.7 L709.8 1000.0 L711.3 998.4 L712.8 996.8 L714.3 994.9 L715.7 993.4 L717.7 991.0 L719.7 988.7 L721.5 986.7 L723.1 984.5 L725.4 980.4 L727.5 977.1 L728.9 975.8 L730.5 974.8 L732.1 973.7 L733.5 972.7 L735.4 969.3 L737.9 966.7 L739.2 966.4 L740.8 966.0 L742.4 966.1 L744.3 966.2 L746.2 966.2 L748.3 966.1 L749.7 966.0 L751.1 965.7 L752.6 965.8 L754.1 965.7 L755.7 965.5 L757.4 965.5 L759.2 965.4 L761.1 965.5 L763.2 965.2 L764.5 965.1 L765.9 965.1 L767.3 964.9 L768.7 964.9 L770.2 965.1 L771.7 965.0 L773.2 964.9 L774.8 964.7 L776.5 964.6 L778.1 964.9 L779.8 964.8 L781.5 964.8 L783.3 964.8 L785.1 964.5 L786.9 964.6 L788.3 964.4 L789.9 964.7 L791.5 964.7 L793.2 964.5 L794.9 964.6 L796.7 964.5 L798.5 964.5 L800.3 964.5 L802.2 964.6 L804.0 964.6 L805.8 964.3 L807.5 964.3 L809.2 964.5 L810.8 964.5 L812.3 964.2 L813.7 964.3 L815.0 964.2 L816.2 964.4 L817.2 964.3 L818.1 964.3" fill="none" stroke="#bcb88e" stroke-width="1.0" stroke-linejoin="round"/>
<rect x="875.5" y="949.5" width="353.0" height="90.0" fill="#eff1f6" stroke="none"/>
<path d="M875.5 1039.5V949.5H1228.5" fill="none" stroke="#8a8a8a" stroke-width="1"/>
<path d="M1228.5 949.5V1039.5" fill="none" stroke="#8a8a8a" stroke-width="1"/>
<path d="M875.5 1039.5H1228.5" fill="none" stroke="#8a8a8a" stroke-width="1"/>
<rect x="880.5" y="954.5" width="344.0" height="81.0" fill="#fff" stroke="#c3c4c9" stroke-width="1"/>
<path d="M898.5 966.5H1194.5" stroke="#ededed" stroke-width="1"/>
<path d="M898.5 975.5H1194.5" stroke="#ededed" stroke-width="1"/>
<path d="M898.5 985.5H1194.5" stroke="#ededed" stroke-width="1"/>
<path d="M898.5 994.5H1194.5" stroke="#ededed" stroke-width="1"/>
<path d="M898.5 1004.5H1194.5" stroke="#ededed" stroke-width="1"/>
<path d="M898.5 1013.5H1194.5" stroke="#ededed" stroke-width="1"/>
<path d="M898.5 958.5H1194.5V1015.5" fill="none" stroke="#e2e2e2" stroke-width="1"/>
<path d="M898.5 958.5V1015.5H1194.5" fill="none" stroke="#a4a4a4" stroke-width="1"/>
<path d="M897.0 958.5H898.5M897.0 960.5H898.5M897.0 962.5H898.5M897.0 964.5H898.5M895.5 966.5H898.5M897.0 968.5H898.5M897.0 969.5H898.5M897.0 971.5H898.5M897.0 973.5H898.5M895.5 975.5H898.5M897.0 977.5H898.5M897.0 979.5H898.5M897.0 981.5H898.5M897.0 983.5H898.5M895.5 985.5H898.5M897.0 986.5H898.5M897.0 988.5H898.5M897.0 990.5H898.5M897.0 992.5H898.5M895.5 994.5H898.5M897.0 996.5H898.5M897.0 998.5H898.5M897.0 1000.5H898.5M897.0 1002.5H898.5M895.5 1004.5H898.5M897.0 1005.5H898.5M897.0 1007.5H898.5M897.0 1009.5H898.5M897.0 1011.5H898.5M895.5 1013.5H898.5M897.0 1015.5H898.5M902.5 1015.5V1017.0M906.5 1015.5V1017.0M911.5 1015.5V1017.0M915.5 1015.5V1017.0M920.5 1015.5V1018.5M924.5 1015.5V1017.0M929.5 1015.5V1017.0M933.5 1015.5V1017.0M938.5 1015.5V1017.0M942.5 1015.5V1018.5M947.5 1015.5V1017.0M951.5 1015.5V1017.0M956.5 1015.5V1017.0M961.5 1015.5V1017.0M965.5 1015.5V1018.5M970.5 1015.5V1017.0M974.5 1015.5V1017.0M979.5 1015.5V1017.0M983.5 1015.5V1017.0M988.5 1015.5V1018.5M992.5 1015.5V1017.0M997.5 1015.5V1017.0M1001.5 1015.5V1017.0M1006.5 1015.5V1017.0M1010.5 1015.5V1018.5M1015.5 1015.5V1017.0M1019.5 1015.5V1017.0M1024.5 1015.5V1017.0M1028.5 1015.5V1017.0M1033.5 1015.5V1018.5M1037.5 1015.5V1017.0M1042.5 1015.5V1017.0M1046.5 1015.5V1017.0M1051.5 1015.5V1017.0M1055.5 1015.5V1018.5M1060.5 1015.5V1017.0M1065.5 1015.5V1017.0M1069.5 1015.5V1017.0M1074.5 1015.5V1017.0M1078.5 1015.5V1018.5M1083.5 1015.5V1017.0M1087.5 1015.5V1017.0M1092.5 1015.5V1017.0M1096.5 1015.5V1017.0M1101.5 1015.5V1018.5M1105.5 1015.5V1017.0M1110.5 1015.5V1017.0M1114.5 1015.5V1017.0M1119.5 1015.5V1017.0M1123.5 1015.5V1018.5M1128.5 1015.5V1017.0M1132.5 1015.5V1017.0M1137.5 1015.5V1017.0M1141.5 1015.5V1017.0M1146.5 1015.5V1018.5M1150.5 1015.5V1017.0M1155.5 1015.5V1017.0M1160.5 1015.5V1017.0M1164.5 1015.5V1017.0M1169.5 1015.5V1018.5M1173.5 1015.5V1017.0M1178.5 1015.5V1017.0M1182.5 1015.5V1017.0M1187.5 1015.5V1017.0M1191.5 1015.5V1018.5" stroke="#c0c0c0" stroke-width="0.8"/>
<g font-family="Liberation Sans" font-size="4.2" fill="#000" font-weight="bold"><text x="893.7" y="967.6" text-anchor="end">1</text><text x="893.7" y="977.1" text-anchor="end">0</text><text x="893.7" y="986.6" text-anchor="end">-1</text><text x="893.7" y="996.1" text-anchor="end">-2</text><text x="893.7" y="1005.6" text-anchor="end">-3</text><text x="893.7" y="1015.1" text-anchor="end">-4</text><text x="920.3" y="1022.9" text-anchor="middle">30</text><text x="942.9" y="1022.9" text-anchor="middle">60</text><text x="965.5" y="1022.9" text-anchor="middle">90</text><text x="988.1" y="1022.9" text-anchor="middle">120</text><text x="1010.8" y="1022.9" text-anchor="middle">150</text><text x="1033.4" y="1022.9" text-anchor="middle">180</text><text x="1056.0" y="1022.9" text-anchor="middle">210</text><text x="1078.6" y="1022.9" text-anchor="middle">240</text><text x="1101.2" y="1022.9" text-anchor="middle">270</text><text x="1123.8" y="1022.9" text-anchor="middle">300</text><text x="1146.5" y="1022.9" text-anchor="middle">330</text><text x="1169.1" y="1022.9" text-anchor="middle">360</text><text x="1191.7" y="1022.9" text-anchor="middle">390</text></g>
<text x="1046.4" y="1030.2" text-anchor="middle" font-family="Liberation Sans" font-size="6.0" font-weight="normal" fill="#111">µm</text>
<text transform="translate(886.9,987.0) rotate(-90)" x="0" y="0" text-anchor="middle" font-family="Liberation Sans" font-size="6.0" font-weight="bold" fill="#1a1a1a">µm</text>
<rect x="1198.5" y="958.5" width="22.0" height="8.0" fill="#fff" stroke="#a8a8a8" stroke-width="0.8"/>
<path d="M1200.0 962.5H1206.9" stroke="#aeaa80" stroke-width="0.9"/>
<text x="1207.7" y="964.0" font-family="Liberation Sans" font-size="4.3" textLength="10.3" lengthAdjust="spacingAndGlyphs" font-weight="normal" fill="#1a1a1a">Slice 1</text>
<path d="M899.3 964.6 L900.2 964.5 L901.2 964.6 L902.4 964.6 L903.7 964.6 L905.1 964.2 L906.7 964.2 L908.3 964.2 L910.0 964.4 L911.7 964.3 L913.5 964.1 L915.3 963.9 L917.1 963.9 L918.9 964.0 L920.6 963.8 L922.3 963.9 L923.9 963.7 L925.4 963.8 L927.1 963.7 L928.7 963.9 L930.4 963.8 L932.0 963.8 L933.7 963.6 L935.3 963.6 L937.0 963.8 L938.6 963.8 L940.2 963.7 L941.7 963.7 L943.3 963.8 L944.8 963.9 L946.2 963.9 L947.7 963.9 L949.1 963.8 L951.0 963.9 L952.9 964.0 L954.8 963.9 L956.6 963.8 L958.4 964.0 L960.1 963.9 L961.7 964.1 L963.2 964.1 L964.6 964.0 L965.9 964.3 L967.0 964.3 L970.1 964.6 L971.4 965.2 L972.9 966.5 L974.4 967.6 L976.2 968.0 L978.2 968.8 L980.3 971.6 L982.4 974.1 L984.4 974.1 L986.2 973.3 L987.4 972.3 L988.6 972.1 L990.3 973.5 L992.2 975.6 L994.4 976.6 L996.6 978.0 L998.4 981.1 L1000.2 984.5 L1002.2 985.9 L1004.1 986.6 L1005.7 988.3 L1007.0 989.9 L1008.0 988.7 L1009.1 988.1 L1010.9 991.1 L1013.0 994.9 L1015.1 996.5 L1017.4 997.9 L1019.2 999.6 L1021.1 1001.4 L1022.8 1002.4 L1024.5 1001.5 L1026.3 1000.9 L1027.6 1001.3 L1029.2 1002.6 L1030.8 1003.5 L1032.3 1004.7 L1034.2 1006.0 L1036.0 1007.1 L1037.6 1007.7 L1039.5 1007.1 L1041.2 1006.8 L1042.7 1008.0 L1044.2 1008.9 L1045.6 1008.3 L1047.1 1007.7 L1048.8 1009.3 L1050.7 1010.7 L1052.4 1009.8 L1054.3 1008.6 L1056.0 1007.7 L1057.3 1009.0 L1059.0 1010.7 L1060.4 1010.6 L1062.2 1010.5 L1064.2 1010.0 L1066.1 1009.8 L1067.9 1009.5 L1069.9 1009.5 L1071.9 1009.3 L1073.7 1008.9 L1075.3 1008.9 L1076.8 1008.8 L1078.0 1008.3 L1079.8 1007.7 L1081.1 1007.5 L1082.7 1007.0 L1084.4 1006.7 L1086.1 1006.4 L1087.8 1006.0 L1089.3 1005.3 L1091.2 1004.0 L1092.8 1002.0 L1094.4 999.8 L1096.1 997.9 L1098.0 996.1 L1099.9 994.0 L1101.8 992.0 L1103.5 989.9 L1105.1 987.8 L1106.4 985.5 L1108.0 983.1 L1109.6 980.9 L1111.5 978.3 L1113.3 976.2 L1114.8 974.1 L1116.8 972.5 L1118.4 971.2 L1120.1 968.2 L1122.0 965.2 L1123.1 964.3 L1124.3 963.8 L1127.3 963.2 L1128.4 963.0 L1129.6 963.1 L1130.9 963.1 L1132.3 962.9 L1133.8 962.9 L1135.4 962.7 L1137.0 962.8 L1138.7 962.8 L1140.5 963.0 L1142.4 962.8 L1144.3 962.9 L1146.2 963.1 L1148.1 962.9 L1149.5 962.8 L1150.9 963.0 L1152.4 962.9 L1154.0 962.9 L1155.6 963.0 L1157.3 962.9 L1159.0 963.0 L1160.7 962.9 L1162.4 962.9 L1164.1 962.9 L1165.8 963.0 L1167.5 963.1 L1169.1 963.1 L1170.7 963.1 L1172.3 963.3 L1173.8 963.0 L1175.2 963.2 L1176.5 963.4 L1177.8 963.2 L1180.0 963.2 L1182.2 963.3 L1184.2 963.1 L1186.1 963.2 L1187.8 962.9 L1189.4 962.9 L1190.8 962.8 L1192.1 962.9 L1193.2 962.7 L1194.1 962.9" fill="none" stroke="#bcb88e" stroke-width="1.0" stroke-linejoin="round"/>
<rect x="129.5" y="1065.5" width="353.0" height="89.0" fill="#eff1f6" stroke="none"/>
<path d="M129.5 1154.5V1065.5H482.5" fill="none" stroke="#8a8a8a" stroke-width="1"/>
<path d="M482.5 1065.5V1154.5" fill="none" stroke="#8a8a8a" stroke-width="1"/>
<path d="M129.5 1154.5H482.5" fill="none" stroke="#8a8a8a" stroke-width="1"/>
<rect x="134.5" y="1069.5" width="344.0" height="81.0" fill="#fff" stroke="#c3c4c9" stroke-width="1"/>
<path d="M153.5 1076.5H448.5" stroke="#ededed" stroke-width="1"/>
<path d="M153.5 1085.5H448.5" stroke="#ededed" stroke-width="1"/>
<path d="M153.5 1093.5H448.5" stroke="#ededed" stroke-width="1"/>
<path d="M153.5 1102.5H448.5" stroke="#ededed" stroke-width="1"/>
<path d="M153.5 1110.5H448.5" stroke="#ededed" stroke-width="1"/>
<path d="M153.5 1119.5H448.5" stroke="#ededed" stroke-width="1"/>
<path d="M153.5 1127.5H448.5" stroke="#ededed" stroke-width="1"/>
<path d="M153.5 1073.5H448.5V1131.5" fill="none" stroke="#e2e2e2" stroke-width="1"/>
<path d="M153.5 1073.5V1131.5H448.5" fill="none" stroke="#a4a4a4" stroke-width="1"/>
<path d="M152.0 1075.5H153.5M150.5 1076.5H153.5M152.0 1078.5H153.5M152.0 1080.5H153.5M152.0 1081.5H153.5M152.0 1083.5H153.5M150.5 1085.5H153.5M152.0 1086.5H153.5M152.0 1088.5H153.5M152.0 1090.5H153.5M152.0 1092.5H153.5M150.5 1093.5H153.5M152.0 1095.5H153.5M152.0 1097.5H153.5M152.0 1098.5H153.5M152.0 1100.5H153.5M150.5 1102.5H153.5M152.0 1103.5H153.5M152.0 1105.5H153.5M152.0 1107.5H153.5M152.0 1109.5H153.5M150.5 1110.5H153.5M152.0 1112.5H153.5M152.0 1114.5H153.5M152.0 1115.5H153.5M152.0 1117.5H153.5M150.5 1119.5H153.5M152.0 1120.5H153.5M152.0 1122.5H153.5M152.0 1124.5H153.5M152.0 1126.5H153.5M150.5 1127.5H153.5M152.0 1129.5H153.5M152.0 1131.5H153.5M156.5 1131.5V1133.0M161.5 1131.5V1133.0M165.5 1131.5V1133.0M170.5 1131.5V1133.0M174.5 1131.5V1134.5M179.5 1131.5V1133.0M183.5 1131.5V1133.0M188.5 1131.5V1133.0M192.5 1131.5V1133.0M197.5 1131.5V1134.5M201.5 1131.5V1133.0M206.5 1131.5V1133.0M211.5 1131.5V1133.0M215.5 1131.5V1133.0M220.5 1131.5V1134.5M224.5 1131.5V1133.0M229.5 1131.5V1133.0M233.5 1131.5V1133.0M238.5 1131.5V1133.0M242.5 1131.5V1134.5M247.5 1131.5V1133.0M251.5 1131.5V1133.0M256.5 1131.5V1133.0M260.5 1131.5V1133.0M265.5 1131.5V1134.5M269.5 1131.5V1133.0M274.5 1131.5V1133.0M278.5 1131.5V1133.0M283.5 1131.5V1133.0M287.5 1131.5V1134.5M292.5 1131.5V1133.0M296.5 1131.5V1133.0M301.5 1131.5V1133.0M305.5 1131.5V1133.0M310.5 1131.5V1134.5M314.5 1131.5V1133.0M319.5 1131.5V1133.0M323.5 1131.5V1133.0M328.5 1131.5V1133.0M332.5 1131.5V1134.5M337.5 1131.5V1133.0M341.5 1131.5V1133.0M346.5 1131.5V1133.0M350.5 1131.5V1133.0M355.5 1131.5V1134.5M359.5 1131.5V1133.0M364.5 1131.5V1133.0M368.5 1131.5V1133.0M373.5 1131.5V1133.0M377.5 1131.5V1134.5M382.5 1131.5V1133.0M387.5 1131.5V1133.0M391.5 1131.5V1133.0M396.5 1131.5V1133.0M400.5 1131.5V1134.5M405.5 1131.5V1133.0M409.5 1131.5V1133.0M414.5 1131.5V1133.0M418.5 1131.5V1133.0M423.5 1131.5V1134.5M427.5 1131.5V1133.0M432.5 1131.5V1133.0M436.5 1131.5V1133.0M441.5 1131.5V1133.0M445.5 1131.5V1134.5" stroke="#c0c0c0" stroke-width="0.8"/>
<g font-family="Liberation Sans" font-size="4.2" fill="#000" font-weight="bold"><text x="148.3" y="1078.2" text-anchor="end">1</text><text x="148.3" y="1086.7" text-anchor="end">0</text><text x="148.3" y="1095.2" text-anchor="end">-1</text><text x="148.3" y="1103.7" text-anchor="end">-2</text><text x="148.3" y="1112.2" text-anchor="end">-3</text><text x="148.3" y="1120.7" text-anchor="end">-4</text><text x="148.3" y="1129.2" text-anchor="end">-5</text><text x="174.9" y="1138.5" text-anchor="middle">30</text><text x="197.5" y="1138.5" text-anchor="middle">60</text><text x="220.0" y="1138.5" text-anchor="middle">90</text><text x="242.6" y="1138.5" text-anchor="middle">120</text><text x="265.2" y="1138.5" text-anchor="middle">150</text><text x="287.7" y="1138.5" text-anchor="middle">180</text><text x="310.3" y="1138.5" text-anchor="middle">210</text><text x="332.9" y="1138.5" text-anchor="middle">240</text><text x="355.4" y="1138.5" text-anchor="middle">270</text><text x="378.0" y="1138.5" text-anchor="middle">300</text><text x="400.6" y="1138.5" text-anchor="middle">330</text><text x="423.1" y="1138.5" text-anchor="middle">360</text><text x="445.7" y="1138.5" text-anchor="middle">390</text></g>
<text x="300.7" y="1145.8" text-anchor="middle" font-family="Liberation Sans" font-size="6.0" font-weight="normal" fill="#111">µm</text>
<text transform="translate(141.5,1102.3) rotate(-90)" x="0" y="0" text-anchor="middle" font-family="Liberation Sans" font-size="6.0" font-weight="bold" fill="#1a1a1a">µm</text>
<rect x="452.5" y="1073.5" width="22.0" height="8.0" fill="#fff" stroke="#a8a8a8" stroke-width="0.8"/>
<path d="M454.0 1077.5H460.9" stroke="#aeaa80" stroke-width="0.9"/>
<text x="461.7" y="1079.0" font-family="Liberation Sans" font-size="4.3" textLength="10.3" lengthAdjust="spacingAndGlyphs" font-weight="normal" fill="#1a1a1a">Slice 1</text>
<path d="M153.3 1079.6 L154.1 1079.6 L155.2 1079.5 L156.3 1079.7 L157.6 1079.6 L159.0 1079.7 L160.4 1079.9 L162.0 1079.9 L163.7 1079.8 L165.4 1080.0 L167.1 1080.1 L168.9 1080.2 L170.7 1080.1 L172.5 1080.0 L174.2 1080.1 L176.0 1080.2 L177.7 1080.4 L179.4 1080.2 L180.9 1080.2 L182.5 1080.1 L184.2 1080.2 L185.9 1080.2 L187.7 1080.1 L189.5 1080.0 L191.3 1080.2 L193.1 1080.1 L194.9 1080.2 L196.7 1080.1 L198.4 1079.8 L200.1 1079.8 L201.7 1079.8 L203.2 1080.1 L204.6 1079.8 L206.0 1079.8 L207.1 1079.9 L208.2 1079.7 L209.1 1079.6 L211.6 1078.5 L210.6 1077.9 L211.5 1080.4 L212.6 1083.2 L213.7 1085.1 L215.0 1086.2 L216.5 1085.8 L218.0 1085.6 L219.4 1086.1 L221.0 1087.7 L223.3 1090.8 L225.4 1093.0 L226.5 1091.8 L227.5 1090.0 L228.9 1090.4 L230.4 1091.2 L231.6 1090.7 L232.8 1090.6 L233.9 1092.3 L235.2 1094.2 L237.0 1094.9 L238.8 1096.0 L240.3 1099.2 L241.7 1102.5 L243.2 1103.4 L244.7 1104.0 L246.4 1106.1 L248.3 1108.4 L250.1 1108.6 L252.1 1109.0 L253.5 1109.9 L255.0 1111.3 L256.6 1112.9 L258.4 1114.5 L260.2 1116.4 L261.9 1117.9 L263.5 1118.7 L265.5 1118.8 L267.0 1119.1 L268.9 1119.5 L270.8 1120.2 L272.8 1120.4 L274.4 1120.9 L276.5 1121.8 L278.2 1122.3 L279.7 1122.7 L281.3 1122.1 L282.7 1121.8 L284.4 1122.8 L286.3 1123.9 L287.9 1124.3 L289.7 1124.6 L291.6 1124.8 L293.1 1124.4 L294.7 1123.8 L296.3 1123.0 L297.6 1122.7 L299.4 1124.3 L301.1 1126.3 L302.3 1126.1 L303.6 1125.3 L305.6 1124.8 L307.0 1124.6 L308.7 1124.5 L310.5 1124.4 L312.4 1124.3 L314.3 1124.2 L316.0 1123.9 L317.9 1123.9 L319.6 1123.6 L321.4 1123.3 L323.1 1123.0 L324.9 1122.7 L326.5 1122.3 L328.1 1122.1 L329.7 1121.4 L331.3 1121.0 L332.9 1120.5 L334.4 1119.7 L336.2 1118.5 L337.8 1117.3 L339.5 1116.0 L341.1 1114.4 L342.7 1112.9 L344.6 1110.8 L346.5 1108.6 L348.4 1106.5 L350.1 1104.0 L351.7 1101.2 L353.3 1098.4 L354.7 1095.7 L356.1 1093.6 L358.5 1091.3 L360.5 1090.0 L362.0 1087.3 L363.5 1084.7 L364.7 1082.2 L367.9 1080.2 L369.0 1079.9 L370.3 1079.9 L371.8 1079.9 L373.4 1079.7 L375.1 1079.7 L376.9 1079.4 L378.7 1079.6 L380.5 1079.7 L382.3 1079.5 L384.1 1079.6 L385.7 1079.6 L387.2 1079.6 L389.0 1079.7 L390.6 1079.5 L392.2 1079.4 L393.6 1079.2 L395.1 1079.2 L396.6 1079.5 L398.3 1079.4 L400.1 1079.3 L402.1 1079.3 L403.4 1079.1 L404.9 1079.2 L406.4 1079.5 L408.0 1079.5 L409.7 1079.5 L411.4 1079.7 L413.1 1079.4 L414.8 1079.5 L416.5 1079.8 L418.2 1079.9 L419.9 1079.8 L421.5 1079.9 L423.0 1079.9 L424.5 1079.9 L425.8 1079.9 L427.9 1080.0 L429.9 1080.0 L431.7 1079.9 L433.5 1079.6 L435.1 1079.5 L436.7 1079.6 L438.1 1079.5 L439.4 1079.2 L440.7 1079.3 L443.1 1079.4 L445.0 1079.6 L446.5 1080.1 L447.5 1080.2" fill="none" stroke="#bcb88e" stroke-width="1.0" stroke-linejoin="round"/>
<rect x="503.5" y="1069.5" width="353.0" height="89.0" fill="#eff1f6" stroke="none"/>
<path d="M503.5 1158.5V1069.5H856.5" fill="none" stroke="#8a8a8a" stroke-width="1"/>
<path d="M856.5 1069.5V1158.5" fill="none" stroke="#8a8a8a" stroke-width="1"/>
<path d="M503.5 1158.5H856.5" fill="none" stroke="#8a8a8a" stroke-width="1"/>
<rect x="507.5" y="1073.5" width="345.0" height="81.0" fill="#fff" stroke="#c3c4c9" stroke-width="1"/>
<path d="M526.5 1077.5H822.5" stroke="#ededed" stroke-width="1"/>
<path d="M526.5 1086.5H822.5" stroke="#ededed" stroke-width="1"/>
<path d="M526.5 1094.5H822.5" stroke="#ededed" stroke-width="1"/>
<path d="M526.5 1102.5H822.5" stroke="#ededed" stroke-width="1"/>
<path d="M526.5 1110.5H822.5" stroke="#ededed" stroke-width="1"/>
<path d="M526.5 1118.5H822.5" stroke="#ededed" stroke-width="1"/>
<path d="M526.5 1127.5H822.5" stroke="#ededed" stroke-width="1"/>
<path d="M526.5 1077.5H822.5V1135.5" fill="none" stroke="#e2e2e2" stroke-width="1"/>
<path d="M526.5 1077.5V1135.5H822.5" fill="none" stroke="#a4a4a4" stroke-width="1"/>
<path d="M523.5 1077.5H526.5M525.0 1079.5H526.5M525.0 1081.5H526.5M525.0 1082.5H526.5M525.0 1084.5H526.5M523.5 1086.5H526.5M525.0 1087.5H526.5M525.0 1089.5H526.5M525.0 1091.5H526.5M525.0 1092.5H526.5M523.5 1094.5H526.5M525.0 1095.5H526.5M525.0 1097.5H526.5M525.0 1099.5H526.5M525.0 1100.5H526.5M523.5 1102.5H526.5M525.0 1104.5H526.5M525.0 1105.5H526.5M525.0 1107.5H526.5M525.0 1109.5H526.5M523.5 1110.5H526.5M525.0 1112.5H526.5M525.0 1113.5H526.5M525.0 1115.5H526.5M525.0 1117.5H526.5M523.5 1118.5H526.5M525.0 1120.5H526.5M525.0 1122.5H526.5M525.0 1123.5H526.5M525.0 1125.5H526.5M523.5 1127.5H526.5M525.0 1128.5H526.5M525.0 1130.5H526.5M525.0 1132.5H526.5M525.0 1133.5H526.5M530.5 1135.5V1137.0M534.5 1135.5V1137.0M539.5 1135.5V1137.0M543.5 1135.5V1137.0M548.5 1135.5V1138.5M553.5 1135.5V1137.0M557.5 1135.5V1137.0M562.5 1135.5V1137.0M566.5 1135.5V1137.0M571.5 1135.5V1138.5M575.5 1135.5V1137.0M580.5 1135.5V1137.0M584.5 1135.5V1137.0M589.5 1135.5V1137.0M593.5 1135.5V1138.5M598.5 1135.5V1137.0M602.5 1135.5V1137.0M607.5 1135.5V1137.0M611.5 1135.5V1137.0M616.5 1135.5V1138.5M620.5 1135.5V1137.0M625.5 1135.5V1137.0M629.5 1135.5V1137.0M634.5 1135.5V1137.0M638.5 1135.5V1138.5M643.5 1135.5V1137.0M647.5 1135.5V1137.0M652.5 1135.5V1137.0M656.5 1135.5V1137.0M661.5 1135.5V1138.5M665.5 1135.5V1137.0M670.5 1135.5V1137.0M674.5 1135.5V1137.0M679.5 1135.5V1137.0M683.5 1135.5V1138.5M688.5 1135.5V1137.0M692.5 1135.5V1137.0M697.5 1135.5V1137.0M701.5 1135.5V1137.0M706.5 1135.5V1138.5M710.5 1135.5V1137.0M715.5 1135.5V1137.0M719.5 1135.5V1137.0M724.5 1135.5V1137.0M728.5 1135.5V1138.5M733.5 1135.5V1137.0M737.5 1135.5V1137.0M742.5 1135.5V1137.0M746.5 1135.5V1137.0M751.5 1135.5V1138.5M755.5 1135.5V1137.0M760.5 1135.5V1137.0M764.5 1135.5V1137.0M769.5 1135.5V1137.0M773.5 1135.5V1138.5M778.5 1135.5V1137.0M782.5 1135.5V1137.0M787.5 1135.5V1137.0M791.5 1135.5V1137.0M796.5 1135.5V1138.5M800.5 1135.5V1137.0M805.5 1135.5V1137.0M809.5 1135.5V1137.0M814.5 1135.5V1137.0M818.5 1135.5V1138.5" stroke="#c0c0c0" stroke-width="0.8"/>
<g font-family="Liberation Sans" font-size="4.2" fill="#000" font-weight="bold"><text x="521.5" y="1079.4" text-anchor="end">2</text><text x="521.5" y="1087.6" text-anchor="end">1</text><text x="521.5" y="1095.8" text-anchor="end">0</text><text x="521.5" y="1104.0" text-anchor="end">-1</text><text x="521.5" y="1112.2" text-anchor="end">-2</text><text x="521.5" y="1120.4" text-anchor="end">-3</text><text x="521.5" y="1128.6" text-anchor="end">-4</text><text x="548.5" y="1142.4" text-anchor="middle">30</text><text x="571.0" y="1142.4" text-anchor="middle">60</text><text x="593.6" y="1142.4" text-anchor="middle">90</text><text x="616.1" y="1142.4" text-anchor="middle">120</text><text x="638.7" y="1142.4" text-anchor="middle">150</text><text x="661.2" y="1142.4" text-anchor="middle">180</text><text x="683.8" y="1142.4" text-anchor="middle">210</text><text x="706.3" y="1142.4" text-anchor="middle">240</text><text x="728.8" y="1142.4" text-anchor="middle">270</text><text x="751.4" y="1142.4" text-anchor="middle">300</text><text x="773.9" y="1142.4" text-anchor="middle">330</text><text x="796.5" y="1142.4" text-anchor="middle">360</text><text x="819.0" y="1142.4" text-anchor="middle">390</text></g>
<text x="674.2" y="1149.7" text-anchor="middle" font-family="Liberation Sans" font-size="6.0" font-weight="normal" fill="#111">µm</text>
<text transform="translate(514.7,1106.2) rotate(-90)" x="0" y="0" text-anchor="middle" font-family="Liberation Sans" font-size="6.0" font-weight="bold" fill="#1a1a1a">µm</text>
<rect x="825.5" y="1077.5" width="22.0" height="8.0" fill="#fff" stroke="#a8a8a8" stroke-width="0.8"/>
<path d="M827.0 1081.5H833.9" stroke="#aeaa80" stroke-width="0.9"/>
<text x="834.7" y="1083.0" font-family="Liberation Sans" font-size="4.3" textLength="10.3" lengthAdjust="spacingAndGlyphs" font-weight="normal" fill="#1a1a1a">Slice 1</text>
<path d="M527.1 1084.1 L528.0 1084.0 L529.2 1084.2 L530.6 1084.1 L532.1 1084.2 L533.8 1083.8 L535.6 1083.8 L537.4 1083.9 L539.3 1084.1 L541.2 1084.1 L543.0 1083.9 L544.8 1083.7 L546.5 1083.7 L548.0 1083.8 L549.4 1083.8 L551.6 1083.7 L553.6 1083.9 L555.5 1083.7 L557.3 1083.8 L558.9 1084.0 L560.4 1084.0 L561.6 1083.9 L562.7 1083.8 L564.4 1082.6 L564.8 1082.3 L566.0 1084.2 L567.2 1087.1 L568.2 1090.0 L569.6 1092.1 L571.1 1092.5 L573.0 1092.0 L574.6 1092.1 L576.1 1093.1 L577.6 1094.5 L579.8 1096.6 L582.0 1098.1 L583.5 1097.8 L585.0 1096.6 L586.4 1096.4 L588.1 1096.4 L589.5 1096.6 L591.0 1098.8 L592.4 1101.0 L594.3 1101.8 L596.3 1102.5 L597.8 1105.0 L599.3 1107.9 L601.0 1110.7 L602.8 1112.9 L604.6 1111.9 L606.4 1110.8 L608.1 1112.8 L610.2 1115.9 L611.6 1117.3 L613.2 1118.6 L614.8 1119.7 L616.2 1120.9 L618.3 1122.1 L620.6 1122.7 L622.0 1123.2 L623.5 1124.0 L625.2 1124.4 L626.7 1125.1 L628.1 1125.4 L630.5 1125.4 L632.5 1125.4 L634.3 1126.6 L636.1 1127.7 L638.0 1126.4 L639.9 1125.4 L641.3 1126.7 L642.9 1128.6 L644.7 1129.2 L646.8 1130.1 L648.8 1130.1 L650.4 1129.2 L651.9 1128.2 L653.3 1127.7 L655.0 1129.1 L656.9 1130.7 L658.3 1130.6 L659.9 1130.3 L661.7 1129.8 L663.7 1129.2 L665.2 1128.8 L666.8 1128.5 L668.6 1128.5 L670.4 1128.0 L672.2 1128.0 L674.1 1127.7 L675.8 1127.6 L677.6 1127.1 L679.4 1127.3 L681.2 1127.1 L683.0 1126.8 L684.6 1126.5 L686.0 1126.3 L688.4 1125.7 L690.2 1124.5 L691.9 1123.3 L693.8 1121.5 L695.7 1119.6 L697.8 1117.4 L699.2 1115.9 L700.7 1114.6 L702.2 1113.4 L703.8 1111.7 L705.3 1109.9 L707.2 1107.2 L709.1 1104.6 L711.0 1101.7 L712.7 1099.5 L714.8 1098.1 L716.8 1097.4 L718.6 1096.6 L720.2 1094.5 L721.7 1092.2 L723.1 1090.0 L724.3 1086.7 L726.9 1084.1 L727.9 1084.0 L729.1 1083.7 L730.3 1083.5 L731.7 1083.8 L733.2 1083.7 L734.8 1083.8 L736.6 1083.9 L738.4 1083.8 L740.3 1083.9 L742.4 1083.8 L743.7 1083.8 L745.1 1083.9 L746.6 1083.7 L748.1 1083.7 L749.7 1083.7 L751.4 1083.8 L753.0 1083.4 L754.7 1083.6 L756.5 1083.5 L758.2 1083.3 L759.9 1083.3 L761.6 1083.1 L763.2 1083.2 L764.8 1083.2 L766.3 1083.3 L767.7 1083.1 L769.1 1083.2 L771.0 1083.2 L772.7 1083.4 L774.2 1083.2 L775.5 1083.4 L776.9 1083.4 L778.2 1083.4 L779.6 1083.6 L781.1 1083.6 L782.8 1083.7 L784.7 1083.7 L786.9 1083.8 L788.1 1083.7 L789.5 1083.7 L791.0 1083.7 L792.6 1083.9 L794.2 1083.9 L796.0 1083.9 L797.7 1084.0 L799.6 1083.8 L801.4 1084.0 L803.3 1084.2 L805.1 1084.0 L806.9 1084.1 L808.7 1084.0 L810.5 1084.1 L812.2 1083.9 L813.8 1083.9 L815.3 1083.9 L816.7 1084.0 L818.0 1083.9 L819.2 1083.9 L820.2 1084.1 L821.1 1084.1" fill="none" stroke="#bcb88e" stroke-width="1.0" stroke-linejoin="round"/>
<rect x="880.5" y="1070.5" width="352.0" height="90.0" fill="#eff1f6" stroke="none"/>
<path d="M880.5 1160.5V1070.5H1232.5" fill="none" stroke="#8a8a8a" stroke-width="1"/>
<path d="M1232.5 1070.5V1160.5" fill="none" stroke="#8a8a8a" stroke-width="1"/>
<path d="M880.5 1160.5H1232.5" fill="none" stroke="#8a8a8a" stroke-width="1"/>
<rect x="884.5" y="1075.5" width="343.0" height="81.0" fill="#fff" stroke="#c3c4c9" stroke-width="1"/>
<path d="M903.5 1083.5H1198.5" stroke="#ededed" stroke-width="1"/>
<path d="M903.5 1091.5H1198.5" stroke="#ededed" stroke-width="1"/>
<path d="M903.5 1100.5H1198.5" stroke="#ededed" stroke-width="1"/>
<path d="M903.5 1109.5H1198.5" stroke="#ededed" stroke-width="1"/>
<path d="M903.5 1117.5H1198.5" stroke="#ededed" stroke-width="1"/>
<path d="M903.5 1126.5H1198.5" stroke="#ededed" stroke-width="1"/>
<path d="M903.5 1135.5H1198.5" stroke="#ededed" stroke-width="1"/>
<path d="M903.5 1078.5H1198.5V1136.5" fill="none" stroke="#e2e2e2" stroke-width="1"/>
<path d="M903.5 1078.5V1136.5H1198.5" fill="none" stroke="#a4a4a4" stroke-width="1"/>
<path d="M902.0 1079.5H903.5M902.0 1081.5H903.5M900.5 1083.5H903.5M902.0 1084.5H903.5M902.0 1086.5H903.5M902.0 1088.5H903.5M902.0 1090.5H903.5M900.5 1091.5H903.5M902.0 1093.5H903.5M902.0 1095.5H903.5M902.0 1097.5H903.5M902.0 1098.5H903.5M900.5 1100.5H903.5M902.0 1102.5H903.5M902.0 1104.5H903.5M902.0 1105.5H903.5M902.0 1107.5H903.5M900.5 1109.5H903.5M902.0 1110.5H903.5M902.0 1112.5H903.5M902.0 1114.5H903.5M902.0 1116.5H903.5M900.5 1117.5H903.5M902.0 1119.5H903.5M902.0 1121.5H903.5M902.0 1123.5H903.5M902.0 1124.5H903.5M900.5 1126.5H903.5M902.0 1128.5H903.5M902.0 1130.5H903.5M902.0 1131.5H903.5M902.0 1133.5H903.5M900.5 1135.5H903.5M906.5 1136.5V1138.0M911.5 1136.5V1138.0M915.5 1136.5V1138.0M920.5 1136.5V1138.0M924.5 1136.5V1139.5M929.5 1136.5V1138.0M933.5 1136.5V1138.0M938.5 1136.5V1138.0M942.5 1136.5V1138.0M947.5 1136.5V1139.5M951.5 1136.5V1138.0M956.5 1136.5V1138.0M960.5 1136.5V1138.0M965.5 1136.5V1138.0M970.5 1136.5V1139.5M974.5 1136.5V1138.0M979.5 1136.5V1138.0M983.5 1136.5V1138.0M988.5 1136.5V1138.0M992.5 1136.5V1139.5M997.5 1136.5V1138.0M1001.5 1136.5V1138.0M1006.5 1136.5V1138.0M1010.5 1136.5V1138.0M1015.5 1136.5V1139.5M1019.5 1136.5V1138.0M1024.5 1136.5V1138.0M1028.5 1136.5V1138.0M1033.5 1136.5V1138.0M1037.5 1136.5V1139.5M1042.5 1136.5V1138.0M1046.5 1136.5V1138.0M1051.5 1136.5V1138.0M1055.5 1136.5V1138.0M1060.5 1136.5V1139.5M1065.5 1136.5V1138.0M1069.5 1136.5V1138.0M1074.5 1136.5V1138.0M1078.5 1136.5V1138.0M1083.5 1136.5V1139.5M1087.5 1136.5V1138.0M1092.5 1136.5V1138.0M1096.5 1136.5V1138.0M1101.5 1136.5V1138.0M1105.5 1136.5V1139.5M1110.5 1136.5V1138.0M1114.5 1136.5V1138.0M1119.5 1136.5V1138.0M1123.5 1136.5V1138.0M1128.5 1136.5V1139.5M1132.5 1136.5V1138.0M1137.5 1136.5V1138.0M1141.5 1136.5V1138.0M1146.5 1136.5V1138.0M1150.5 1136.5V1139.5M1155.5 1136.5V1138.0M1160.5 1136.5V1138.0M1164.5 1136.5V1138.0M1169.5 1136.5V1138.0M1173.5 1136.5V1139.5M1178.5 1136.5V1138.0M1182.5 1136.5V1138.0M1187.5 1136.5V1138.0M1191.5 1136.5V1138.0M1196.5 1136.5V1139.5" stroke="#c0c0c0" stroke-width="0.8"/>
<g font-family="Liberation Sans" font-size="4.2" fill="#000" font-weight="bold"><text x="898.1" y="1084.7" text-anchor="end">1</text><text x="898.1" y="1093.4" text-anchor="end">0</text><text x="898.1" y="1102.0" text-anchor="end">-1</text><text x="898.1" y="1110.7" text-anchor="end">-2</text><text x="898.1" y="1119.4" text-anchor="end">-3</text><text x="898.1" y="1128.0" text-anchor="end">-4</text><text x="898.1" y="1136.7" text-anchor="end">-5</text><text x="924.8" y="1143.9" text-anchor="middle">30</text><text x="947.4" y="1143.9" text-anchor="middle">60</text><text x="970.0" y="1143.9" text-anchor="middle">90</text><text x="992.6" y="1143.9" text-anchor="middle">120</text><text x="1015.3" y="1143.9" text-anchor="middle">150</text><text x="1037.9" y="1143.9" text-anchor="middle">180</text><text x="1060.5" y="1143.9" text-anchor="middle">210</text><text x="1083.1" y="1143.9" text-anchor="middle">240</text><text x="1105.7" y="1143.9" text-anchor="middle">270</text><text x="1128.3" y="1143.9" text-anchor="middle">300</text><text x="1151.0" y="1143.9" text-anchor="middle">330</text><text x="1173.6" y="1143.9" text-anchor="middle">360</text><text x="1196.2" y="1143.9" text-anchor="middle">390</text></g>
<text x="1050.5" y="1151.2" text-anchor="middle" font-family="Liberation Sans" font-size="6.0" font-weight="normal" fill="#111">µm</text>
<text transform="translate(891.3,1107.8) rotate(-90)" x="0" y="0" text-anchor="middle" font-family="Liberation Sans" font-size="6.0" font-weight="bold" fill="#1a1a1a">µm</text>
<rect x="1201.5" y="1079.5" width="22.0" height="8.0" fill="#fff" stroke="#a8a8a8" stroke-width="0.8"/>
<path d="M1203.0 1083.5H1209.9" stroke="#aeaa80" stroke-width="0.9"/>
<text x="1210.7" y="1085.0" font-family="Liberation Sans" font-size="4.3" textLength="10.3" lengthAdjust="spacingAndGlyphs" font-weight="normal" fill="#1a1a1a">Slice 1</text>
<path d="M903.1 1085.6 L904.0 1085.6 L905.2 1085.5 L906.5 1085.4 L908.1 1085.7 L909.7 1085.5 L911.5 1085.3 L913.3 1085.5 L915.2 1085.5 L917.1 1085.6 L918.9 1085.5 L920.7 1085.3 L922.4 1085.3 L924.0 1085.1 L925.4 1085.3 L927.4 1085.3 L929.4 1085.1 L931.2 1084.9 L933.0 1085.0 L934.6 1084.9 L936.2 1085.0 L937.6 1084.7 L939.0 1084.5 L940.2 1084.7 L942.3 1084.7 L943.6 1085.3 L944.7 1085.5 L946.2 1085.6 L947.9 1085.7 L949.8 1085.5 L951.8 1085.0 L953.6 1084.9 L955.1 1084.7 L957.2 1083.7 L958.6 1083.8 L960.0 1086.6 L961.6 1089.7 L963.3 1090.3 L965.2 1090.1 L967.0 1090.6 L969.4 1093.5 L971.4 1096.0 L972.5 1095.3 L973.5 1093.6 L975.0 1092.8 L976.5 1093.0 L977.9 1095.0 L979.4 1097.2 L981.3 1098.1 L983.3 1098.9 L984.8 1099.3 L986.2 1100.1 L987.7 1102.6 L989.2 1105.5 L990.7 1106.5 L992.2 1107.0 L993.7 1108.7 L995.2 1109.9 L996.6 1109.8 L998.1 1109.9 L999.5 1111.7 L1001.0 1113.7 L1002.6 1115.9 L1004.3 1117.2 L1006.1 1118.1 L1007.9 1118.8 L1009.6 1119.6 L1011.4 1120.8 L1013.0 1121.8 L1015.1 1123.3 L1017.4 1124.8 L1018.8 1125.0 L1020.3 1125.2 L1021.9 1125.5 L1023.4 1125.7 L1025.4 1126.1 L1027.4 1126.0 L1029.3 1126.3 L1030.9 1126.6 L1032.4 1127.3 L1033.8 1127.7 L1036.0 1128.8 L1038.2 1129.8 L1040.2 1131.0 L1042.1 1131.6 L1043.9 1129.1 L1045.6 1127.1 L1047.4 1129.1 L1049.2 1131.6 L1050.5 1130.9 L1053.1 1129.2 L1054.3 1129.0 L1055.7 1128.8 L1057.4 1128.6 L1059.2 1128.4 L1061.0 1128.3 L1062.9 1128.3 L1064.7 1128.1 L1066.4 1127.7 L1067.9 1127.7 L1070.0 1127.3 L1071.9 1127.1 L1073.8 1126.8 L1075.4 1126.5 L1077.0 1126.1 L1078.3 1125.7 L1080.6 1125.4 L1082.7 1123.9 L1084.0 1122.7 L1085.4 1121.4 L1087.0 1119.7 L1088.6 1117.9 L1090.2 1115.9 L1091.7 1114.4 L1093.7 1112.0 L1095.7 1109.8 L1097.5 1107.8 L1099.1 1105.5 L1101.6 1100.5 L1103.5 1096.6 L1105.0 1095.5 L1106.5 1094.5 L1107.9 1092.9 L1109.6 1091.1 L1111.0 1089.1 L1112.5 1086.1 L1113.9 1083.8 L1114.3 1083.6 L1115.0 1084.2 L1118.4 1084.7 L1119.4 1084.7 L1120.5 1084.9 L1121.7 1084.7 L1123.0 1085.0 L1124.4 1085.0 L1125.9 1085.0 L1127.5 1084.8 L1129.1 1085.1 L1130.8 1084.9 L1132.5 1085.1 L1134.3 1085.1 L1136.1 1085.2 L1137.9 1085.0 L1139.6 1085.1 L1141.4 1085.0 L1143.1 1085.1 L1144.8 1085.3 L1146.5 1085.2 L1148.1 1085.3 L1149.7 1085.3 L1151.3 1085.3 L1152.9 1085.4 L1154.5 1085.5 L1156.2 1085.2 L1157.8 1085.5 L1159.5 1085.4 L1161.1 1085.4 L1162.8 1085.5 L1164.4 1085.4 L1166.0 1085.3 L1167.6 1085.4 L1169.2 1085.3 L1170.7 1085.4 L1172.2 1085.5 L1173.7 1085.5 L1175.1 1085.2 L1176.5 1085.2 L1177.8 1085.3 L1179.8 1085.2 L1181.8 1085.4 L1183.8 1085.2 L1185.7 1085.2 L1187.6 1085.2 L1189.3 1085.0 L1191.0 1085.1 L1192.5 1084.9 L1193.9 1084.8 L1195.1 1084.7 L1196.2 1084.6 L1197.1 1084.7" fill="none" stroke="#bcb88e" stroke-width="1.0" stroke-linejoin="round"/>
<rect x="127.5" y="1199.5" width="354.0" height="89.0" fill="#eff1f6" stroke="none"/>
<path d="M127.5 1288.5V1199.5H481.5" fill="none" stroke="#8a8a8a" stroke-width="1"/>
<path d="M481.5 1199.5V1288.5" fill="none" stroke="#8a8a8a" stroke-width="1"/>
<path d="M127.5 1288.5H481.5" fill="none" stroke="#8a8a8a" stroke-width="1"/>
<rect x="131.5" y="1203.5" width="345.0" height="81.0" fill="#fff" stroke="#c3c4c9" stroke-width="1"/>
<path d="M151.5 1218.5H446.5" stroke="#ededed" stroke-width="1"/>
<path d="M151.5 1233.5H446.5" stroke="#ededed" stroke-width="1"/>
<path d="M151.5 1247.5H446.5" stroke="#ededed" stroke-width="1"/>
<path d="M151.5 1262.5H446.5" stroke="#ededed" stroke-width="1"/>
<path d="M151.5 1207.5H446.5V1264.5" fill="none" stroke="#e2e2e2" stroke-width="1"/>
<path d="M151.5 1207.5V1264.5H446.5" fill="none" stroke="#a4a4a4" stroke-width="1"/>
<path d="M150.0 1209.5H151.5M150.0 1212.5H151.5M150.0 1215.5H151.5M148.5 1218.5H151.5M150.0 1221.5H151.5M150.0 1224.5H151.5M150.0 1227.5H151.5M150.0 1230.5H151.5M148.5 1233.5H151.5M150.0 1236.5H151.5M150.0 1239.5H151.5M150.0 1242.5H151.5M150.0 1245.5H151.5M148.5 1247.5H151.5M150.0 1250.5H151.5M150.0 1253.5H151.5M150.0 1256.5H151.5M150.0 1259.5H151.5M148.5 1262.5H151.5M154.5 1264.5V1266.0M158.5 1264.5V1266.0M162.5 1264.5V1266.0M166.5 1264.5V1266.0M171.5 1264.5V1267.5M175.5 1264.5V1266.0M179.5 1264.5V1266.0M183.5 1264.5V1266.0M187.5 1264.5V1266.0M191.5 1264.5V1267.5M195.5 1264.5V1266.0M199.5 1264.5V1266.0M204.5 1264.5V1266.0M208.5 1264.5V1266.0M212.5 1264.5V1267.5M216.5 1264.5V1266.0M220.5 1264.5V1266.0M224.5 1264.5V1266.0M228.5 1264.5V1266.0M232.5 1264.5V1267.5M236.5 1264.5V1266.0M241.5 1264.5V1266.0M245.5 1264.5V1266.0M249.5 1264.5V1266.0M253.5 1264.5V1267.5M257.5 1264.5V1266.0M261.5 1264.5V1266.0M265.5 1264.5V1266.0M269.5 1264.5V1266.0M273.5 1264.5V1267.5M278.5 1264.5V1266.0M282.5 1264.5V1266.0M286.5 1264.5V1266.0M290.5 1264.5V1266.0M294.5 1264.5V1267.5M298.5 1264.5V1266.0M302.5 1264.5V1266.0M306.5 1264.5V1266.0M311.5 1264.5V1266.0M315.5 1264.5V1267.5M319.5 1264.5V1266.0M323.5 1264.5V1266.0M327.5 1264.5V1266.0M331.5 1264.5V1266.0M335.5 1264.5V1267.5M339.5 1264.5V1266.0M343.5 1264.5V1266.0M348.5 1264.5V1266.0M352.5 1264.5V1266.0M356.5 1264.5V1267.5M360.5 1264.5V1266.0M364.5 1264.5V1266.0M368.5 1264.5V1266.0M372.5 1264.5V1266.0M376.5 1264.5V1267.5M380.5 1264.5V1266.0M385.5 1264.5V1266.0M389.5 1264.5V1266.0M393.5 1264.5V1266.0M397.5 1264.5V1267.5M401.5 1264.5V1266.0M405.5 1264.5V1266.0M409.5 1264.5V1266.0M413.5 1264.5V1266.0M418.5 1264.5V1267.5M422.5 1264.5V1266.0M426.5 1264.5V1266.0M430.5 1264.5V1266.0M434.5 1264.5V1266.0M438.5 1264.5V1267.5M442.5 1264.5V1266.0" stroke="#c0c0c0" stroke-width="0.8"/>
<g font-family="Liberation Sans" font-size="4.2" fill="#000" font-weight="bold"><text x="146.2" y="1219.8" text-anchor="end">0</text><text x="146.2" y="1234.6" text-anchor="end">-2</text><text x="146.2" y="1249.5" text-anchor="end">-4</text><text x="146.2" y="1264.3" text-anchor="end">-6</text><text x="171.1" y="1271.8" text-anchor="middle">30</text><text x="191.7" y="1271.8" text-anchor="middle">60</text><text x="212.3" y="1271.8" text-anchor="middle">90</text><text x="232.8" y="1271.8" text-anchor="middle">120</text><text x="253.4" y="1271.8" text-anchor="middle">150</text><text x="274.0" y="1271.8" text-anchor="middle">180</text><text x="294.6" y="1271.8" text-anchor="middle">210</text><text x="315.1" y="1271.8" text-anchor="middle">240</text><text x="335.7" y="1271.8" text-anchor="middle">270</text><text x="356.3" y="1271.8" text-anchor="middle">300</text><text x="376.9" y="1271.8" text-anchor="middle">330</text><text x="397.4" y="1271.8" text-anchor="middle">360</text><text x="418.0" y="1271.8" text-anchor="middle">390</text><text x="438.6" y="1271.8" text-anchor="middle">420</text></g>
<text x="298.9" y="1279.1" text-anchor="middle" font-family="Liberation Sans" font-size="6.0" font-weight="normal" fill="#111">µm</text>
<text transform="translate(139.4,1235.9) rotate(-90)" x="0" y="0" text-anchor="middle" font-family="Liberation Sans" font-size="6.0" font-weight="bold" fill="#1a1a1a">µm</text>
<rect x="449.5" y="1207.5" width="23.0" height="8.0" fill="#fff" stroke="#a8a8a8" stroke-width="0.8"/>
<path d="M451.1 1211.5H458.2" stroke="#aeaa80" stroke-width="0.9"/>
<text x="459.2" y="1213.0" font-family="Liberation Sans" font-size="4.3" textLength="10.8" lengthAdjust="spacingAndGlyphs" font-weight="normal" fill="#1a1a1a">Slice 1</text>
<path d="M151.2 1213.2 L152.1 1213.1 L153.2 1213.2 L154.6 1213.1 L156.0 1213.1 L157.7 1212.6 L159.4 1212.5 L161.2 1212.5 L163.0 1212.7 L164.9 1212.6 L166.8 1212.4 L168.7 1212.2 L170.5 1212.3 L172.0 1212.2 L173.5 1212.4 L175.1 1212.3 L176.7 1212.5 L178.4 1212.4 L180.1 1212.5 L181.8 1212.8 L183.5 1212.8 L185.1 1212.9 L186.8 1212.8 L188.4 1212.9 L190.0 1213.2 L191.4 1213.3 L192.9 1213.1 L194.2 1213.2 L196.3 1213.2 L198.2 1213.2 L200.0 1213.3 L201.7 1213.1 L203.3 1213.0 L204.8 1212.8 L206.3 1212.8 L207.7 1212.6 L209.1 1212.6 L211.2 1212.4 L213.2 1212.6 L215.1 1212.5 L216.8 1212.7 L218.3 1212.9 L219.5 1213.2 L221.3 1214.6 L222.4 1217.1 L223.8 1219.2 L225.3 1221.2 L226.9 1223.0 L229.2 1224.5 L231.3 1225.1 L232.8 1225.6 L234.3 1226.6 L236.2 1229.1 L238.2 1231.0 L240.0 1230.1 L241.7 1228.9 L243.0 1229.5 L244.7 1231.0 L246.5 1232.0 L248.6 1233.4 L250.6 1234.9 L252.2 1236.4 L253.7 1238.5 L255.1 1239.9 L256.5 1240.9 L258.0 1241.9 L259.6 1242.9 L261.5 1243.8 L263.6 1244.8 L265.5 1245.9 L267.8 1247.8 L269.9 1249.7 L271.4 1250.9 L272.9 1251.6 L274.4 1252.7 L276.4 1253.7 L278.8 1254.8 L280.2 1255.2 L281.7 1255.3 L283.4 1255.8 L284.9 1256.1 L286.3 1256.3 L288.7 1256.8 L290.7 1257.7 L292.2 1258.3 L293.7 1258.8 L295.2 1259.2 L297.4 1260.2 L299.6 1260.7 L301.3 1259.7 L303.1 1258.6 L304.7 1257.7 L306.2 1258.7 L307.7 1260.1 L309.2 1259.9 L310.9 1259.6 L313.0 1259.2 L314.5 1258.9 L316.2 1259.0 L318.0 1259.1 L319.9 1258.9 L321.9 1258.6 L323.5 1258.2 L325.2 1258.3 L327.0 1257.9 L328.9 1257.6 L330.6 1257.0 L332.3 1256.6 L333.8 1256.3 L336.0 1255.3 L337.8 1254.5 L339.5 1253.5 L341.2 1251.8 L343.0 1250.0 L344.9 1247.6 L346.7 1245.5 L348.6 1242.9 L350.1 1240.9 L351.7 1238.6 L353.3 1236.4 L354.8 1234.2 L356.1 1232.5 L358.5 1230.5 L360.5 1228.9 L362.7 1225.5 L364.9 1222.1 L366.6 1220.8 L368.5 1219.5 L370.0 1218.3 L371.2 1216.1 L372.4 1214.1 L373.2 1213.2 L376.8 1212.6 L377.8 1212.7 L378.9 1212.4 L380.2 1212.5 L381.6 1212.5 L383.0 1212.3 L384.6 1212.3 L386.2 1212.1 L387.9 1212.2 L389.6 1212.2 L391.4 1212.4 L393.2 1212.1 L395.0 1212.3 L396.8 1212.4 L398.6 1212.1 L400.4 1212.3 L402.1 1212.3 L403.6 1212.3 L405.1 1212.3 L406.7 1212.5 L408.3 1212.4 L410.0 1212.5 L411.7 1212.5 L413.4 1212.5 L415.1 1212.6 L416.8 1212.6 L418.5 1212.8 L420.2 1212.9 L421.8 1212.9 L423.4 1213.1 L425.0 1212.9 L426.5 1213.1 L427.9 1213.3 L429.3 1213.2 L430.6 1213.3 L431.8 1213.2 L434.1 1213.2 L436.3 1213.2 L438.2 1212.8 L440.0 1212.7 L441.5 1212.5 L442.9 1212.5 L444.1 1212.3 L445.1 1212.2 L446.0 1212.3" fill="none" stroke="#bcb88e" stroke-width="1.0" stroke-linejoin="round"/>
<rect x="502.5" y="1199.5" width="354.0" height="89.0" fill="#eff1f6" stroke="none"/>
<path d="M502.5 1288.5V1199.5H856.5" fill="none" stroke="#8a8a8a" stroke-width="1"/>
<path d="M856.5 1199.5V1288.5" fill="none" stroke="#8a8a8a" stroke-width="1"/>
<path d="M502.5 1288.5H856.5" fill="none" stroke="#8a8a8a" stroke-width="1"/>
<rect x="507.5" y="1203.5" width="344.0" height="81.0" fill="#fff" stroke="#c3c4c9" stroke-width="1"/>
<path d="M526.5 1211.5H821.5" stroke="#ededed" stroke-width="1"/>
<path d="M526.5 1225.5H821.5" stroke="#ededed" stroke-width="1"/>
<path d="M526.5 1239.5H821.5" stroke="#ededed" stroke-width="1"/>
<path d="M526.5 1252.5H821.5" stroke="#ededed" stroke-width="1"/>
<path d="M526.5 1207.5H821.5V1265.5" fill="none" stroke="#e2e2e2" stroke-width="1"/>
<path d="M526.5 1207.5V1265.5H821.5" fill="none" stroke="#a4a4a4" stroke-width="1"/>
<path d="M525.0 1208.5H526.5M523.5 1211.5H526.5M525.0 1214.5H526.5M525.0 1217.5H526.5M525.0 1219.5H526.5M525.0 1222.5H526.5M523.5 1225.5H526.5M525.0 1228.5H526.5M525.0 1230.5H526.5M525.0 1233.5H526.5M525.0 1236.5H526.5M523.5 1239.5H526.5M525.0 1241.5H526.5M525.0 1244.5H526.5M525.0 1247.5H526.5M525.0 1249.5H526.5M523.5 1252.5H526.5M525.0 1255.5H526.5M525.0 1258.5H526.5M525.0 1260.5H526.5M525.0 1263.5H526.5M529.5 1265.5V1267.0M532.5 1265.5V1267.0M536.5 1265.5V1267.0M540.5 1265.5V1267.0M544.5 1265.5V1268.5M548.5 1265.5V1267.0M551.5 1265.5V1267.0M555.5 1265.5V1267.0M559.5 1265.5V1267.0M563.5 1265.5V1268.5M566.5 1265.5V1267.0M570.5 1265.5V1267.0M574.5 1265.5V1267.0M578.5 1265.5V1267.0M582.5 1265.5V1268.5M585.5 1265.5V1267.0M589.5 1265.5V1267.0M593.5 1265.5V1267.0M597.5 1265.5V1267.0M600.5 1265.5V1268.5M604.5 1265.5V1267.0M608.5 1265.5V1267.0M612.5 1265.5V1267.0M615.5 1265.5V1267.0M619.5 1265.5V1268.5M623.5 1265.5V1267.0M627.5 1265.5V1267.0M631.5 1265.5V1267.0M634.5 1265.5V1267.0M638.5 1265.5V1268.5M642.5 1265.5V1267.0M646.5 1265.5V1267.0M649.5 1265.5V1267.0M653.5 1265.5V1267.0M657.5 1265.5V1268.5M661.5 1265.5V1267.0M664.5 1265.5V1267.0M668.5 1265.5V1267.0M672.5 1265.5V1267.0M676.5 1265.5V1268.5M680.5 1265.5V1267.0M683.5 1265.5V1267.0M687.5 1265.5V1267.0M691.5 1265.5V1267.0M695.5 1265.5V1268.5M698.5 1265.5V1267.0M702.5 1265.5V1267.0M706.5 1265.5V1267.0M710.5 1265.5V1267.0M714.5 1265.5V1268.5M717.5 1265.5V1267.0M721.5 1265.5V1267.0M725.5 1265.5V1267.0M729.5 1265.5V1267.0M732.5 1265.5V1268.5M736.5 1265.5V1267.0M740.5 1265.5V1267.0M744.5 1265.5V1267.0M747.5 1265.5V1267.0M751.5 1265.5V1268.5M755.5 1265.5V1267.0M759.5 1265.5V1267.0M763.5 1265.5V1267.0M766.5 1265.5V1267.0M770.5 1265.5V1268.5M774.5 1265.5V1267.0M778.5 1265.5V1267.0M781.5 1265.5V1267.0M785.5 1265.5V1267.0M789.5 1265.5V1268.5M793.5 1265.5V1267.0M796.5 1265.5V1267.0M800.5 1265.5V1267.0M804.5 1265.5V1267.0M808.5 1265.5V1268.5M812.5 1265.5V1267.0M815.5 1265.5V1267.0M819.5 1265.5V1267.0" stroke="#c0c0c0" stroke-width="0.8"/>
<g font-family="Liberation Sans" font-size="4.2" fill="#000" font-weight="bold"><text x="521.2" y="1213.2" text-anchor="end">2</text><text x="521.2" y="1226.9" text-anchor="end">0</text><text x="521.2" y="1240.5" text-anchor="end">-2</text><text x="521.2" y="1254.2" text-anchor="end">-4</text><text x="544.3" y="1272.4" text-anchor="middle">30</text><text x="563.2" y="1272.4" text-anchor="middle">60</text><text x="582.0" y="1272.4" text-anchor="middle">90</text><text x="600.9" y="1272.4" text-anchor="middle">120</text><text x="619.7" y="1272.4" text-anchor="middle">150</text><text x="638.6" y="1272.4" text-anchor="middle">180</text><text x="657.4" y="1272.4" text-anchor="middle">210</text><text x="676.3" y="1272.4" text-anchor="middle">240</text><text x="695.2" y="1272.4" text-anchor="middle">270</text><text x="714.0" y="1272.4" text-anchor="middle">300</text><text x="732.9" y="1272.4" text-anchor="middle">330</text><text x="751.7" y="1272.4" text-anchor="middle">360</text><text x="770.6" y="1272.4" text-anchor="middle">390</text><text x="789.4" y="1272.4" text-anchor="middle">420</text><text x="808.3" y="1272.4" text-anchor="middle">450</text></g>
<text x="673.7" y="1279.7" text-anchor="middle" font-family="Liberation Sans" font-size="6.0" font-weight="normal" fill="#111">µm</text>
<text transform="translate(514.4,1236.2) rotate(-90)" x="0" y="0" text-anchor="middle" font-family="Liberation Sans" font-size="6.0" font-weight="bold" fill="#1a1a1a">µm</text>
<rect x="824.5" y="1207.5" width="23.0" height="8.0" fill="#fff" stroke="#a8a8a8" stroke-width="0.8"/>
<path d="M826.1 1211.5H833.2" stroke="#aeaa80" stroke-width="0.9"/>
<text x="834.2" y="1213.0" font-family="Liberation Sans" font-size="4.3" textLength="10.8" lengthAdjust="spacingAndGlyphs" font-weight="normal" fill="#1a1a1a">Slice 1</text>
<path d="M526.2 1215.3 L527.1 1215.3 L528.2 1215.1 L529.4 1215.0 L530.8 1215.4 L532.3 1215.1 L533.9 1214.9 L535.6 1215.1 L537.4 1215.0 L539.2 1215.1 L541.0 1215.0 L542.8 1214.8 L544.5 1214.8 L546.2 1214.6 L547.9 1214.8 L549.4 1214.7 L551.1 1214.6 L552.7 1214.5 L554.4 1214.6 L556.0 1214.5 L557.6 1214.6 L559.2 1214.3 L560.7 1214.1 L562.3 1214.1 L563.9 1214.3 L565.4 1214.2 L567.0 1214.2 L568.6 1214.2 L570.2 1214.1 L571.9 1213.9 L573.6 1214.1 L575.4 1214.1 L577.2 1214.2 L579.1 1214.4 L580.9 1214.3 L582.7 1214.5 L584.4 1214.7 L586.0 1214.5 L587.5 1214.8 L588.9 1214.6 L590.0 1214.7 L591.0 1214.7 L592.8 1213.6 L592.4 1213.2 L593.8 1214.8 L595.4 1217.1 L596.8 1220.4 L598.4 1223.0 L600.7 1224.4 L602.8 1225.1 L603.6 1226.7 L604.3 1228.1 L606.2 1228.9 L608.2 1230.1 L609.7 1231.9 L611.1 1233.1 L612.9 1232.1 L614.7 1231.0 L616.2 1232.6 L617.7 1234.9 L619.1 1235.2 L620.6 1235.5 L622.2 1237.3 L624.2 1239.9 L625.9 1241.1 L627.7 1242.5 L629.5 1243.8 L631.1 1244.5 L632.5 1245.3 L634.0 1245.9 L635.4 1247.0 L636.9 1248.3 L638.5 1249.7 L640.3 1251.1 L642.3 1252.3 L644.4 1253.3 L646.2 1253.9 L648.2 1254.7 L650.1 1255.2 L651.8 1255.7 L653.6 1256.0 L655.0 1255.7 L656.3 1255.7 L658.0 1256.2 L659.8 1257.1 L661.5 1257.8 L663.4 1258.4 L665.2 1259.2 L667.4 1259.8 L669.6 1260.1 L671.0 1260.0 L672.4 1259.8 L674.0 1259.2 L675.6 1259.2 L677.3 1259.0 L679.1 1259.3 L681.0 1259.4 L683.0 1259.2 L684.7 1259.1 L686.5 1258.8 L688.3 1258.6 L690.1 1258.0 L691.9 1257.7 L693.7 1257.5 L695.5 1257.3 L697.2 1256.9 L699.0 1256.2 L700.8 1255.7 L702.6 1254.6 L704.4 1253.3 L706.2 1252.0 L708.0 1250.3 L709.7 1248.8 L711.8 1246.8 L713.8 1244.2 L715.6 1242.1 L717.1 1239.9 L718.9 1236.5 L720.1 1234.0 L721.0 1232.8 L722.2 1231.9 L723.8 1230.4 L725.7 1228.4 L727.5 1226.6 L729.5 1224.4 L731.1 1222.1 L732.4 1219.9 L733.5 1217.7 L734.6 1214.7 L735.8 1212.3 L736.6 1213.3 L739.4 1214.7 L740.4 1214.8 L741.6 1214.6 L742.9 1214.8 L744.3 1214.5 L745.9 1214.6 L747.5 1214.5 L749.3 1214.4 L751.1 1214.1 L753.0 1214.0 L755.1 1213.9 L757.2 1214.1 L758.5 1213.9 L759.8 1214.2 L761.2 1214.1 L762.6 1214.2 L764.1 1214.2 L765.6 1214.3 L767.1 1214.4 L768.7 1214.2 L770.3 1214.5 L771.9 1214.4 L773.5 1214.5 L775.2 1214.6 L776.8 1214.5 L778.5 1214.5 L780.2 1214.6 L781.9 1214.6 L783.6 1214.7 L785.2 1214.8 L786.9 1214.7 L788.4 1214.9 L789.9 1214.6 L791.6 1214.6 L793.2 1214.6 L794.9 1214.9 L796.7 1214.8 L798.5 1214.8 L800.2 1214.8 L802.0 1214.8 L803.8 1214.9 L805.6 1214.8 L807.3 1214.7 L809.0 1214.7 L810.6 1214.6 L812.2 1214.7 L813.7 1214.5 L815.1 1214.7 L816.4 1214.9 L817.6 1214.8 L818.7 1214.9 L819.7 1214.7 L820.5 1214.7" fill="none" stroke="#bcb88e" stroke-width="1.0" stroke-linejoin="round"/>
<rect x="883.5" y="1200.5" width="353.0" height="90.0" fill="#eff1f6" stroke="none"/>
<path d="M883.5 1290.5V1200.5H1236.5" fill="none" stroke="#8a8a8a" stroke-width="1"/>
<path d="M1236.5 1200.5V1290.5" fill="none" stroke="#8a8a8a" stroke-width="1"/>
<path d="M883.5 1290.5H1236.5" fill="none" stroke="#8a8a8a" stroke-width="1"/>
<rect x="887.5" y="1205.5" width="345.0" height="81.0" fill="#fff" stroke="#c3c4c9" stroke-width="1"/>
<path d="M906.5 1209.5H1202.5" stroke="#ededed" stroke-width="1"/>
<path d="M906.5 1224.5H1202.5" stroke="#ededed" stroke-width="1"/>
<path d="M906.5 1238.5H1202.5" stroke="#ededed" stroke-width="1"/>
<path d="M906.5 1253.5H1202.5" stroke="#ededed" stroke-width="1"/>
<path d="M906.5 1208.5H1202.5V1266.5" fill="none" stroke="#e2e2e2" stroke-width="1"/>
<path d="M906.5 1208.5V1266.5H1202.5" fill="none" stroke="#a4a4a4" stroke-width="1"/>
<path d="M903.5 1209.5H906.5M905.0 1212.5H906.5M905.0 1215.5H906.5M905.0 1218.5H906.5M905.0 1221.5H906.5M903.5 1224.5H906.5M905.0 1227.5H906.5M905.0 1229.5H906.5M905.0 1232.5H906.5M905.0 1235.5H906.5M903.5 1238.5H906.5M905.0 1241.5H906.5M905.0 1244.5H906.5M905.0 1247.5H906.5M905.0 1250.5H906.5M903.5 1253.5H906.5M905.0 1256.5H906.5M905.0 1259.5H906.5M905.0 1262.5H906.5M905.0 1264.5H906.5M909.5 1266.5V1268.0M913.5 1266.5V1268.0M917.5 1266.5V1268.0M921.5 1266.5V1268.0M924.5 1266.5V1269.5M928.5 1266.5V1268.0M932.5 1266.5V1268.0M936.5 1266.5V1268.0M939.5 1266.5V1268.0M943.5 1266.5V1269.5M947.5 1266.5V1268.0M951.5 1266.5V1268.0M955.5 1266.5V1268.0M958.5 1266.5V1268.0M962.5 1266.5V1269.5M966.5 1266.5V1268.0M970.5 1266.5V1268.0M973.5 1266.5V1268.0M977.5 1266.5V1268.0M981.5 1266.5V1269.5M985.5 1266.5V1268.0M989.5 1266.5V1268.0M992.5 1266.5V1268.0M996.5 1266.5V1268.0M1000.5 1266.5V1269.5M1004.5 1266.5V1268.0M1008.5 1266.5V1268.0M1011.5 1266.5V1268.0M1015.5 1266.5V1268.0M1019.5 1266.5V1269.5M1023.5 1266.5V1268.0M1026.5 1266.5V1268.0M1030.5 1266.5V1268.0M1034.5 1266.5V1268.0M1038.5 1266.5V1269.5M1042.5 1266.5V1268.0M1045.5 1266.5V1268.0M1049.5 1266.5V1268.0M1053.5 1266.5V1268.0M1057.5 1266.5V1269.5M1060.5 1266.5V1268.0M1064.5 1266.5V1268.0M1068.5 1266.5V1268.0M1072.5 1266.5V1268.0M1076.5 1266.5V1269.5M1079.5 1266.5V1268.0M1083.5 1266.5V1268.0M1087.5 1266.5V1268.0M1091.5 1266.5V1268.0M1095.5 1266.5V1269.5M1098.5 1266.5V1268.0M1102.5 1266.5V1268.0M1106.5 1266.5V1268.0M1110.5 1266.5V1268.0M1113.5 1266.5V1269.5M1117.5 1266.5V1268.0M1121.5 1266.5V1268.0M1125.5 1266.5V1268.0M1129.5 1266.5V1268.0M1132.5 1266.5V1269.5M1136.5 1266.5V1268.0M1140.5 1266.5V1268.0M1144.5 1266.5V1268.0M1147.5 1266.5V1268.0M1151.5 1266.5V1269.5M1155.5 1266.5V1268.0M1159.5 1266.5V1268.0M1163.5 1266.5V1268.0M1166.5 1266.5V1268.0M1170.5 1266.5V1269.5M1174.5 1266.5V1268.0M1178.5 1266.5V1268.0M1182.5 1266.5V1268.0M1185.5 1266.5V1268.0M1189.5 1266.5V1269.5M1193.5 1266.5V1268.0M1197.5 1266.5V1268.0M1200.5 1266.5V1268.0" stroke="#c0c0c0" stroke-width="0.8"/>
<g font-family="Liberation Sans" font-size="4.2" fill="#000" font-weight="bold"><text x="901.1" y="1211.1" text-anchor="end">2</text><text x="901.1" y="1225.7" text-anchor="end">0</text><text x="901.1" y="1240.2" text-anchor="end">-2</text><text x="901.1" y="1254.8" text-anchor="end">-4</text><text x="924.8" y="1273.3" text-anchor="middle">30</text><text x="943.7" y="1273.3" text-anchor="middle">60</text><text x="962.6" y="1273.3" text-anchor="middle">90</text><text x="981.5" y="1273.3" text-anchor="middle">120</text><text x="1000.5" y="1273.3" text-anchor="middle">150</text><text x="1019.4" y="1273.3" text-anchor="middle">180</text><text x="1038.3" y="1273.3" text-anchor="middle">210</text><text x="1057.2" y="1273.3" text-anchor="middle">240</text><text x="1076.1" y="1273.3" text-anchor="middle">270</text><text x="1095.0" y="1273.3" text-anchor="middle">300</text><text x="1113.9" y="1273.3" text-anchor="middle">330</text><text x="1132.9" y="1273.3" text-anchor="middle">360</text><text x="1151.8" y="1273.3" text-anchor="middle">390</text><text x="1170.7" y="1273.3" text-anchor="middle">420</text><text x="1189.6" y="1273.3" text-anchor="middle">450</text></g>
<text x="1054.2" y="1280.6" text-anchor="middle" font-family="Liberation Sans" font-size="6.0" font-weight="normal" fill="#111">µm</text>
<text transform="translate(894.3,1237.2) rotate(-90)" x="0" y="0" text-anchor="middle" font-family="Liberation Sans" font-size="6.0" font-weight="bold" fill="#1a1a1a">µm</text>
<rect x="1206.5" y="1209.5" width="21.0" height="7.0" fill="#fff" stroke="#a8a8a8" stroke-width="0.8"/>
<path d="M1208.0 1213.0H1214.5" stroke="#aeaa80" stroke-width="0.9"/>
<text x="1215.3" y="1214.5" font-family="Liberation Sans" font-size="4.3" textLength="9.9" lengthAdjust="spacingAndGlyphs" font-weight="normal" fill="#1a1a1a">Slice 1</text>
<path d="M906.1 1214.7 L907.0 1214.8 L908.1 1214.8 L909.5 1214.6 L910.9 1214.9 L912.6 1214.6 L914.3 1214.8 L916.1 1214.9 L917.9 1214.6 L919.8 1214.6 L921.7 1214.6 L923.6 1214.7 L925.4 1214.7 L926.9 1214.9 L928.4 1214.5 L930.0 1214.8 L931.6 1214.7 L933.2 1214.6 L934.8 1214.6 L936.5 1214.5 L938.2 1214.2 L939.8 1214.4 L941.5 1214.1 L943.1 1214.1 L944.7 1214.3 L946.2 1214.0 L947.7 1214.0 L949.1 1214.1 L951.0 1214.1 L952.9 1214.1 L954.8 1213.9 L956.7 1213.9 L958.6 1213.9 L960.3 1213.7 L961.9 1214.0 L963.5 1213.9 L964.8 1214.0 L966.0 1214.1 L967.0 1214.1 L968.5 1215.4 L968.4 1217.1 L969.7 1218.1 L971.4 1219.7 L972.9 1220.6 L974.8 1221.7 L976.5 1223.0 L977.7 1224.8 L978.8 1226.6 L980.6 1227.8 L982.4 1228.9 L983.6 1230.6 L984.8 1231.9 L986.2 1230.8 L987.7 1229.5 L989.1 1230.7 L990.7 1232.5 L992.1 1233.6 L993.8 1234.4 L995.2 1235.5 L996.7 1236.8 L998.1 1238.4 L999.4 1239.8 L1000.9 1241.3 L1002.6 1242.9 L1004.5 1244.2 L1006.5 1245.8 L1008.5 1247.3 L1010.0 1248.5 L1011.5 1249.8 L1013.0 1250.6 L1014.5 1251.8 L1016.5 1252.9 L1018.5 1254.1 L1020.4 1254.8 L1022.8 1255.7 L1024.8 1256.3 L1026.4 1255.9 L1027.8 1255.4 L1029.2 1256.9 L1030.8 1258.6 L1032.8 1258.8 L1035.2 1259.2 L1036.5 1259.7 L1037.9 1260.6 L1039.5 1261.1 L1041.2 1261.6 L1042.7 1261.7 L1044.4 1261.4 L1046.2 1261.3 L1048.1 1260.9 L1050.1 1260.7 L1051.6 1260.6 L1053.3 1260.2 L1055.0 1260.3 L1056.7 1260.0 L1058.5 1259.7 L1060.3 1259.7 L1062.0 1259.2 L1063.7 1259.0 L1065.5 1258.7 L1067.2 1258.3 L1069.0 1257.8 L1070.6 1257.4 L1072.3 1256.9 L1073.8 1256.3 L1075.8 1255.3 L1077.6 1253.6 L1079.4 1252.1 L1081.1 1250.3 L1082.7 1248.8 L1084.3 1247.2 L1086.0 1245.2 L1087.5 1243.3 L1089.0 1241.7 L1090.2 1239.9 L1092.4 1235.2 L1094.0 1231.9 L1095.0 1233.0 L1096.1 1234.0 L1097.5 1232.6 L1099.1 1230.4 L1100.6 1228.1 L1102.1 1225.0 L1103.5 1222.1 L1105.3 1219.5 L1107.1 1217.1 L1108.2 1215.2 L1109.5 1213.8 L1110.8 1213.7 L1112.4 1213.8 L1115.4 1214.1 L1116.5 1214.2 L1117.8 1213.9 L1119.1 1214.2 L1120.5 1214.1 L1122.0 1214.0 L1123.6 1213.9 L1125.4 1213.9 L1127.2 1214.1 L1129.1 1213.9 L1131.1 1213.7 L1133.2 1213.8 L1134.5 1213.9 L1135.8 1213.6 L1137.1 1214.0 L1138.5 1213.9 L1139.9 1213.7 L1141.4 1213.9 L1142.9 1213.7 L1144.4 1213.6 L1146.0 1213.7 L1147.5 1213.7 L1149.2 1214.0 L1150.8 1213.9 L1152.5 1213.6 L1154.1 1213.9 L1155.9 1213.8 L1157.6 1214.0 L1159.3 1213.6 L1161.1 1213.6 L1162.9 1213.8 L1164.3 1213.7 L1165.8 1213.6 L1167.4 1213.6 L1169.0 1213.6 L1170.7 1213.7 L1172.4 1213.6 L1174.2 1213.7 L1175.9 1213.8 L1177.7 1213.9 L1179.6 1213.8 L1181.4 1213.8 L1183.2 1213.6 L1184.9 1213.8 L1186.7 1213.7 L1188.4 1213.7 L1190.1 1213.6 L1191.7 1213.8 L1193.2 1213.6 L1194.7 1213.6 L1196.1 1213.9 L1197.4 1213.9 L1198.6 1213.9 L1199.7 1213.8 L1200.7 1213.8 L1201.5 1213.8" fill="none" stroke="#bcb88e" stroke-width="1.0" stroke-linejoin="round"/>
<rect x="127.5" y="1317.5" width="354.0" height="89.0" fill="#eff1f6" stroke="none"/>
<path d="M127.5 1406.5V1317.5H481.5" fill="none" stroke="#8a8a8a" stroke-width="1"/>
<path d="M481.5 1317.5V1406.5" fill="none" stroke="#8a8a8a" stroke-width="1"/>
<path d="M127.5 1406.5H481.5" fill="none" stroke="#8a8a8a" stroke-width="1"/>
<rect x="131.5" y="1322.5" width="345.0" height="80.0" fill="#fff" stroke="#c3c4c9" stroke-width="1"/>
<path d="M150.5 1326.5H446.5" stroke="#ededed" stroke-width="1"/>
<path d="M150.5 1339.5H446.5" stroke="#ededed" stroke-width="1"/>
<path d="M150.5 1353.5H446.5" stroke="#ededed" stroke-width="1"/>
<path d="M150.5 1366.5H446.5" stroke="#ededed" stroke-width="1"/>
<path d="M150.5 1379.5H446.5" stroke="#ededed" stroke-width="1"/>
<path d="M150.5 1325.5H446.5V1383.5" fill="none" stroke="#e2e2e2" stroke-width="1"/>
<path d="M150.5 1325.5V1383.5H446.5" fill="none" stroke="#a4a4a4" stroke-width="1"/>
<path d="M147.5 1326.5H150.5M149.0 1329.5H150.5M149.0 1331.5H150.5M149.0 1334.5H150.5M149.0 1337.5H150.5M147.5 1339.5H150.5M149.0 1342.5H150.5M149.0 1345.5H150.5M149.0 1347.5H150.5M149.0 1350.5H150.5M147.5 1353.5H150.5M149.0 1355.5H150.5M149.0 1358.5H150.5M149.0 1361.5H150.5M149.0 1363.5H150.5M147.5 1366.5H150.5M149.0 1369.5H150.5M149.0 1371.5H150.5M149.0 1374.5H150.5M149.0 1377.5H150.5M147.5 1379.5H150.5M149.0 1382.5H150.5M153.5 1383.5V1385.0M157.5 1383.5V1385.0M161.5 1383.5V1385.0M165.5 1383.5V1385.0M169.5 1383.5V1386.5M172.5 1383.5V1385.0M176.5 1383.5V1385.0M180.5 1383.5V1385.0M184.5 1383.5V1385.0M187.5 1383.5V1386.5M191.5 1383.5V1385.0M195.5 1383.5V1385.0M199.5 1383.5V1385.0M202.5 1383.5V1385.0M206.5 1383.5V1386.5M210.5 1383.5V1385.0M214.5 1383.5V1385.0M218.5 1383.5V1385.0M221.5 1383.5V1385.0M225.5 1383.5V1386.5M229.5 1383.5V1385.0M233.5 1383.5V1385.0M236.5 1383.5V1385.0M240.5 1383.5V1385.0M244.5 1383.5V1386.5M248.5 1383.5V1385.0M252.5 1383.5V1385.0M255.5 1383.5V1385.0M259.5 1383.5V1385.0M263.5 1383.5V1386.5M267.5 1383.5V1385.0M270.5 1383.5V1385.0M274.5 1383.5V1385.0M278.5 1383.5V1385.0M282.5 1383.5V1386.5M286.5 1383.5V1385.0M289.5 1383.5V1385.0M293.5 1383.5V1385.0M297.5 1383.5V1385.0M301.5 1383.5V1386.5M304.5 1383.5V1385.0M308.5 1383.5V1385.0M312.5 1383.5V1385.0M316.5 1383.5V1385.0M319.5 1383.5V1386.5M323.5 1383.5V1385.0M327.5 1383.5V1385.0M331.5 1383.5V1385.0M335.5 1383.5V1385.0M338.5 1383.5V1386.5M342.5 1383.5V1385.0M346.5 1383.5V1385.0M350.5 1383.5V1385.0M353.5 1383.5V1385.0M357.5 1383.5V1386.5M361.5 1383.5V1385.0M365.5 1383.5V1385.0M369.5 1383.5V1385.0M372.5 1383.5V1385.0M376.5 1383.5V1386.5M380.5 1383.5V1385.0M384.5 1383.5V1385.0M387.5 1383.5V1385.0M391.5 1383.5V1385.0M395.5 1383.5V1386.5M399.5 1383.5V1385.0M403.5 1383.5V1385.0M406.5 1383.5V1385.0M410.5 1383.5V1385.0M414.5 1383.5V1386.5M418.5 1383.5V1385.0M421.5 1383.5V1385.0M425.5 1383.5V1385.0M429.5 1383.5V1385.0M433.5 1383.5V1386.5M436.5 1383.5V1385.0M440.5 1383.5V1385.0M444.5 1383.5V1385.0" stroke="#c0c0c0" stroke-width="0.8"/>
<g font-family="Liberation Sans" font-size="4.2" fill="#000" font-weight="bold"><text x="145.6" y="1327.9" text-anchor="end">2</text><text x="145.6" y="1341.3" text-anchor="end">0</text><text x="145.6" y="1354.6" text-anchor="end">-2</text><text x="145.6" y="1368.0" text-anchor="end">-4</text><text x="145.6" y="1381.3" text-anchor="end">-6</text><text x="169.0" y="1390.3" text-anchor="middle">30</text><text x="187.9" y="1390.3" text-anchor="middle">60</text><text x="206.7" y="1390.3" text-anchor="middle">90</text><text x="225.6" y="1390.3" text-anchor="middle">120</text><text x="244.5" y="1390.3" text-anchor="middle">150</text><text x="263.4" y="1390.3" text-anchor="middle">180</text><text x="282.2" y="1390.3" text-anchor="middle">210</text><text x="301.1" y="1390.3" text-anchor="middle">240</text><text x="320.0" y="1390.3" text-anchor="middle">270</text><text x="338.8" y="1390.3" text-anchor="middle">300</text><text x="357.7" y="1390.3" text-anchor="middle">330</text><text x="376.6" y="1390.3" text-anchor="middle">360</text><text x="395.5" y="1390.3" text-anchor="middle">390</text><text x="414.3" y="1390.3" text-anchor="middle">420</text><text x="433.2" y="1390.3" text-anchor="middle">450</text></g>
<text x="298.6" y="1397.6" text-anchor="middle" font-family="Liberation Sans" font-size="6.0" font-weight="normal" fill="#111">µm</text>
<text transform="translate(138.8,1354.2) rotate(-90)" x="0" y="0" text-anchor="middle" font-family="Liberation Sans" font-size="6.0" font-weight="bold" fill="#1a1a1a">µm</text>
<rect x="449.5" y="1325.5" width="23.0" height="8.0" fill="#fff" stroke="#a8a8a8" stroke-width="0.8"/>
<path d="M451.1 1329.5H458.2" stroke="#aeaa80" stroke-width="0.9"/>
<text x="459.2" y="1331.0" font-family="Liberation Sans" font-size="4.3" textLength="10.8" lengthAdjust="spacingAndGlyphs" font-weight="normal" fill="#1a1a1a">Slice 1</text>
<path d="M151.2 1331.7 L152.1 1331.7 L153.2 1331.6 L154.4 1331.5 L155.8 1331.9 L157.3 1331.6 L159.0 1331.5 L160.7 1331.7 L162.5 1331.7 L164.3 1331.8 L166.1 1331.7 L168.0 1331.5 L169.8 1331.6 L171.6 1331.5 L173.4 1331.8 L175.1 1331.6 L176.6 1331.5 L178.1 1331.8 L179.4 1331.7 L181.5 1331.8 L183.5 1332.0 L185.3 1331.8 L187.0 1331.8 L188.6 1331.9 L190.1 1332.3 L191.5 1332.2 L192.9 1332.4 L194.3 1332.4 L195.7 1332.3 L197.7 1332.1 L199.7 1332.1 L201.7 1331.9 L203.5 1331.8 L205.1 1331.8 L206.5 1331.6 L207.6 1331.7 L208.9 1332.1 L209.1 1333.2 L210.5 1335.4 L212.0 1337.7 L213.4 1339.8 L215.0 1342.1 L216.4 1343.8 L218.0 1345.2 L219.5 1346.6 L221.4 1347.3 L223.3 1348.1 L225.5 1350.2 L227.5 1352.5 L228.5 1352.6 L229.3 1351.9 L230.2 1351.1 L231.3 1350.4 L232.6 1351.6 L234.3 1353.1 L235.6 1353.9 L237.1 1354.3 L238.8 1355.5 L240.7 1357.2 L242.7 1359.2 L244.7 1360.8 L246.7 1361.7 L248.6 1362.7 L250.6 1363.8 L252.1 1364.8 L253.6 1366.2 L255.1 1367.5 L256.6 1368.8 L258.6 1369.6 L260.5 1370.4 L262.5 1370.9 L264.0 1371.5 L265.6 1372.3 L267.1 1373.3 L268.5 1373.9 L270.8 1375.5 L272.9 1376.3 L274.4 1375.8 L275.9 1375.1 L277.4 1374.8 L279.6 1376.0 L281.8 1377.7 L283.1 1378.4 L284.5 1378.5 L286.3 1378.6 L287.8 1378.5 L289.5 1378.2 L291.4 1377.8 L293.3 1377.6 L295.2 1377.4 L296.9 1377.3 L298.6 1377.3 L300.3 1376.9 L302.1 1376.9 L304.1 1376.9 L305.7 1376.8 L307.4 1376.8 L309.1 1376.6 L311.0 1376.3 L312.7 1376.3 L314.4 1375.7 L316.0 1375.4 L318.0 1374.9 L319.8 1374.2 L321.5 1373.3 L323.2 1372.0 L324.9 1370.9 L326.7 1369.2 L328.5 1367.3 L330.3 1365.5 L332.1 1363.2 L333.8 1361.4 L335.8 1359.3 L337.8 1356.8 L339.6 1354.8 L341.2 1352.5 L342.9 1349.4 L344.3 1346.2 L345.7 1343.6 L348.0 1340.7 L350.1 1338.3 L351.7 1336.3 L353.1 1334.7 L354.6 1333.7 L356.1 1332.6 L356.0 1331.1 L359.0 1330.2 L359.9 1330.3 L361.0 1330.3 L362.2 1330.2 L363.5 1330.0 L365.0 1330.2 L366.5 1330.1 L368.1 1330.3 L369.7 1330.3 L371.4 1330.4 L373.2 1330.2 L375.0 1330.3 L376.8 1330.3 L378.6 1330.4 L380.3 1330.7 L382.1 1330.7 L383.9 1330.7 L385.6 1330.8 L387.2 1330.8 L388.7 1330.9 L390.3 1331.0 L391.8 1330.7 L393.4 1331.0 L394.9 1330.9 L396.5 1330.9 L398.1 1331.0 L399.6 1330.8 L401.2 1330.8 L402.8 1330.9 L404.4 1330.8 L405.9 1330.9 L407.5 1331.0 L409.1 1331.0 L410.7 1330.7 L412.2 1330.7 L413.8 1330.7 L415.3 1331.0 L416.9 1330.8 L418.5 1330.8 L420.1 1330.8 L421.8 1330.8 L423.6 1330.7 L425.3 1330.8 L427.1 1330.7 L428.9 1330.5 L430.7 1330.5 L432.4 1330.4 L434.2 1330.5 L435.8 1330.3 L437.4 1330.4 L439.0 1330.6 L440.4 1330.4 L441.8 1330.5 L443.0 1330.3 L444.2 1330.4 L445.2 1330.1 L446.0 1330.2" fill="none" stroke="#bcb88e" stroke-width="1.0" stroke-linejoin="round"/>
<rect x="503.5" y="1318.5" width="353.0" height="90.0" fill="#eff1f6" stroke="none"/>
<path d="M503.5 1408.5V1318.5H856.5" fill="none" stroke="#8a8a8a" stroke-width="1"/>
<path d="M856.5 1318.5V1408.5" fill="none" stroke="#8a8a8a" stroke-width="1"/>
<path d="M503.5 1408.5H856.5" fill="none" stroke="#8a8a8a" stroke-width="1"/>
<rect x="507.5" y="1322.5" width="345.0" height="82.0" fill="#fff" stroke="#c3c4c9" stroke-width="1"/>
<path d="M526.5 1330.5H821.5" stroke="#ededed" stroke-width="1"/>
<path d="M526.5 1343.5H821.5" stroke="#ededed" stroke-width="1"/>
<path d="M526.5 1356.5H821.5" stroke="#ededed" stroke-width="1"/>
<path d="M526.5 1368.5H821.5" stroke="#ededed" stroke-width="1"/>
<path d="M526.5 1381.5H821.5" stroke="#ededed" stroke-width="1"/>
<path d="M526.5 1326.5H821.5V1384.5" fill="none" stroke="#e2e2e2" stroke-width="1"/>
<path d="M526.5 1326.5V1384.5H821.5" fill="none" stroke="#a4a4a4" stroke-width="1"/>
<path d="M525.0 1328.5H526.5M523.5 1330.5H526.5M525.0 1333.5H526.5M525.0 1335.5H526.5M525.0 1338.5H526.5M525.0 1340.5H526.5M523.5 1343.5H526.5M525.0 1346.5H526.5M525.0 1348.5H526.5M525.0 1351.5H526.5M525.0 1353.5H526.5M523.5 1356.5H526.5M525.0 1358.5H526.5M525.0 1361.5H526.5M525.0 1363.5H526.5M525.0 1366.5H526.5M523.5 1368.5H526.5M525.0 1371.5H526.5M525.0 1373.5H526.5M525.0 1376.5H526.5M525.0 1379.5H526.5M523.5 1381.5H526.5M525.0 1384.5H526.5M529.5 1384.5V1386.0M532.5 1384.5V1386.0M536.5 1384.5V1386.0M540.5 1384.5V1386.0M544.5 1384.5V1387.5M548.5 1384.5V1386.0M551.5 1384.5V1386.0M555.5 1384.5V1386.0M559.5 1384.5V1386.0M563.5 1384.5V1387.5M566.5 1384.5V1386.0M570.5 1384.5V1386.0M574.5 1384.5V1386.0M578.5 1384.5V1386.0M582.5 1384.5V1387.5M585.5 1384.5V1386.0M589.5 1384.5V1386.0M593.5 1384.5V1386.0M597.5 1384.5V1386.0M600.5 1384.5V1387.5M604.5 1384.5V1386.0M608.5 1384.5V1386.0M612.5 1384.5V1386.0M616.5 1384.5V1386.0M619.5 1384.5V1387.5M623.5 1384.5V1386.0M627.5 1384.5V1386.0M631.5 1384.5V1386.0M634.5 1384.5V1386.0M638.5 1384.5V1387.5M642.5 1384.5V1386.0M646.5 1384.5V1386.0M650.5 1384.5V1386.0M653.5 1384.5V1386.0M657.5 1384.5V1387.5M661.5 1384.5V1386.0M665.5 1384.5V1386.0M668.5 1384.5V1386.0M672.5 1384.5V1386.0M676.5 1384.5V1387.5M680.5 1384.5V1386.0M684.5 1384.5V1386.0M687.5 1384.5V1386.0M691.5 1384.5V1386.0M695.5 1384.5V1387.5M699.5 1384.5V1386.0M702.5 1384.5V1386.0M706.5 1384.5V1386.0M710.5 1384.5V1386.0M714.5 1384.5V1387.5M717.5 1384.5V1386.0M721.5 1384.5V1386.0M725.5 1384.5V1386.0M729.5 1384.5V1386.0M733.5 1384.5V1387.5M736.5 1384.5V1386.0M740.5 1384.5V1386.0M744.5 1384.5V1386.0M748.5 1384.5V1386.0M751.5 1384.5V1387.5M755.5 1384.5V1386.0M759.5 1384.5V1386.0M763.5 1384.5V1386.0M767.5 1384.5V1386.0M770.5 1384.5V1387.5M774.5 1384.5V1386.0M778.5 1384.5V1386.0M782.5 1384.5V1386.0M785.5 1384.5V1386.0M789.5 1384.5V1387.5M793.5 1384.5V1386.0M797.5 1384.5V1386.0M801.5 1384.5V1386.0M804.5 1384.5V1386.0M808.5 1384.5V1387.5M812.5 1384.5V1386.0M816.5 1384.5V1386.0M819.5 1384.5V1386.0" stroke="#c0c0c0" stroke-width="0.8"/>
<g font-family="Liberation Sans" font-size="4.2" fill="#000" font-weight="bold"><text x="521.2" y="1332.3" text-anchor="end">2</text><text x="521.2" y="1345.0" text-anchor="end">0</text><text x="521.2" y="1357.7" text-anchor="end">-2</text><text x="521.2" y="1370.4" text-anchor="end">-4</text><text x="521.2" y="1383.1" text-anchor="end">-6</text><text x="544.3" y="1391.8" text-anchor="middle">30</text><text x="563.2" y="1391.8" text-anchor="middle">60</text><text x="582.1" y="1391.8" text-anchor="middle">90</text><text x="600.9" y="1391.8" text-anchor="middle">120</text><text x="619.8" y="1391.8" text-anchor="middle">150</text><text x="638.7" y="1391.8" text-anchor="middle">180</text><text x="657.6" y="1391.8" text-anchor="middle">210</text><text x="676.5" y="1391.8" text-anchor="middle">240</text><text x="695.3" y="1391.8" text-anchor="middle">270</text><text x="714.2" y="1391.8" text-anchor="middle">300</text><text x="733.1" y="1391.8" text-anchor="middle">330</text><text x="752.0" y="1391.8" text-anchor="middle">360</text><text x="770.8" y="1391.8" text-anchor="middle">390</text><text x="789.7" y="1391.8" text-anchor="middle">420</text><text x="808.6" y="1391.8" text-anchor="middle">450</text></g>
<text x="673.9" y="1399.1" text-anchor="middle" font-family="Liberation Sans" font-size="6.0" font-weight="normal" fill="#111">µm</text>
<text transform="translate(514.4,1355.7) rotate(-90)" x="0" y="0" text-anchor="middle" font-family="Liberation Sans" font-size="6.0" font-weight="bold" fill="#1a1a1a">µm</text>
<rect x="824.5" y="1327.5" width="23.0" height="8.0" fill="#fff" stroke="#a8a8a8" stroke-width="0.8"/>
<path d="M826.1 1331.5H833.2" stroke="#aeaa80" stroke-width="0.9"/>
<text x="834.2" y="1333.0" font-family="Liberation Sans" font-size="4.3" textLength="10.8" lengthAdjust="spacingAndGlyphs" font-weight="normal" fill="#1a1a1a">Slice 1</text>
<path d="M526.2 1332.6 L527.1 1332.7 L528.2 1332.6 L529.4 1332.5 L530.8 1332.8 L532.3 1332.4 L533.9 1332.7 L535.6 1332.8 L537.4 1332.5 L539.2 1332.4 L541.0 1332.5 L542.8 1332.5 L544.5 1332.8 L546.2 1332.5 L547.9 1332.7 L549.4 1332.6 L551.1 1332.8 L552.8 1332.7 L554.5 1332.8 L556.1 1332.7 L557.8 1332.5 L559.4 1332.7 L561.0 1332.5 L562.6 1332.5 L564.2 1332.7 L565.8 1332.5 L567.3 1332.5 L568.8 1332.7 L570.2 1332.6 L572.1 1332.6 L574.0 1332.4 L575.8 1332.2 L577.7 1332.2 L579.5 1331.8 L581.2 1331.9 L582.7 1331.7 L584.2 1331.7 L585.4 1331.8 L586.5 1331.7 L588.8 1332.9 L589.5 1334.7 L590.9 1337.1 L592.4 1340.0 L593.8 1341.9 L595.3 1343.4 L596.9 1345.1 L598.7 1346.6 L600.5 1348.1 L602.2 1349.5 L604.1 1352.0 L605.8 1354.0 L607.3 1353.6 L608.8 1352.5 L610.2 1352.5 L611.7 1353.1 L613.0 1354.2 L614.5 1355.5 L616.2 1357.0 L618.0 1358.3 L620.0 1359.8 L622.1 1361.4 L623.8 1362.7 L625.7 1364.2 L627.6 1365.9 L629.5 1367.4 L631.0 1368.5 L632.5 1369.4 L634.0 1370.0 L635.5 1370.9 L637.0 1371.8 L638.9 1373.0 L640.7 1373.9 L642.6 1375.2 L644.4 1375.7 L646.3 1376.1 L648.2 1376.0 L650.0 1376.2 L651.8 1376.3 L653.4 1376.6 L654.8 1376.5 L656.2 1376.9 L657.8 1377.1 L659.6 1377.5 L661.5 1378.3 L663.4 1378.8 L665.2 1379.2 L667.2 1379.3 L669.0 1378.8 L671.1 1378.6 L672.7 1378.6 L674.4 1378.3 L676.3 1378.0 L678.2 1378.1 L680.0 1377.7 L681.8 1377.5 L683.6 1377.2 L685.3 1376.9 L687.1 1376.4 L688.9 1376.3 L690.7 1376.0 L692.5 1375.9 L694.2 1376.0 L696.0 1375.4 L697.8 1374.8 L699.6 1373.7 L701.4 1372.1 L703.2 1370.7 L705.0 1368.9 L706.7 1367.4 L708.4 1365.7 L710.0 1364.4 L711.6 1362.7 L713.0 1361.5 L714.2 1359.9 L716.0 1356.3 L717.1 1354.0 L717.8 1354.9 L718.6 1355.5 L719.9 1353.7 L721.5 1350.9 L723.1 1348.1 L725.3 1344.5 L727.5 1341.2 L729.1 1339.9 L730.6 1338.7 L732.0 1337.7 L733.3 1335.0 L734.9 1332.6 L736.0 1332.1 L737.2 1332.3 L738.7 1332.3 L740.4 1332.3 L742.4 1332.3 L743.6 1332.2 L744.9 1332.2 L746.2 1332.3 L747.7 1332.1 L749.2 1331.8 L750.9 1331.9 L752.8 1331.7 L754.9 1331.9 L757.2 1331.7 L758.4 1331.8 L759.7 1331.6 L761.0 1331.8 L762.4 1331.6 L763.8 1331.5 L765.3 1331.5 L766.9 1331.6 L768.4 1331.8 L770.0 1331.8 L771.7 1331.5 L773.3 1331.8 L775.0 1331.7 L776.7 1331.9 L778.4 1331.5 L780.1 1331.5 L781.8 1331.6 L783.5 1331.5 L785.2 1331.5 L786.9 1331.7 L788.4 1331.5 L790.0 1331.6 L791.6 1331.5 L793.3 1331.6 L795.0 1331.7 L796.8 1331.8 L798.6 1331.7 L800.4 1331.7 L802.3 1331.5 L804.1 1331.7 L805.9 1331.6 L807.6 1331.6 L809.3 1331.5 L811.0 1331.7 L812.6 1331.5 L814.1 1331.5 L815.6 1331.8 L816.9 1331.8 L818.1 1331.8 L819.3 1331.7 L820.2 1331.7 L821.1 1331.7" fill="none" stroke="#bcb88e" stroke-width="1.0" stroke-linejoin="round"/>
<rect x="882.5" y="1317.5" width="354.0" height="89.0" fill="#eff1f6" stroke="none"/>
<path d="M882.5 1406.5V1317.5H1236.5" fill="none" stroke="#8a8a8a" stroke-width="1"/>
<path d="M1236.5 1317.5V1406.5" fill="none" stroke="#8a8a8a" stroke-width="1"/>
<path d="M882.5 1406.5H1236.5" fill="none" stroke="#8a8a8a" stroke-width="1"/>
<rect x="886.5" y="1322.5" width="345.0" height="80.0" fill="#fff" stroke="#c3c4c9" stroke-width="1"/>
<path d="M905.5 1329.5H1201.5" stroke="#ededed" stroke-width="1"/>
<path d="M905.5 1342.5H1201.5" stroke="#ededed" stroke-width="1"/>
<path d="M905.5 1355.5H1201.5" stroke="#ededed" stroke-width="1"/>
<path d="M905.5 1367.5H1201.5" stroke="#ededed" stroke-width="1"/>
<path d="M905.5 1380.5H1201.5" stroke="#ededed" stroke-width="1"/>
<path d="M905.5 1325.5H1201.5V1383.5" fill="none" stroke="#e2e2e2" stroke-width="1"/>
<path d="M905.5 1325.5V1383.5H1201.5" fill="none" stroke="#a4a4a4" stroke-width="1"/>
<path d="M904.0 1327.5H905.5M902.5 1329.5H905.5M904.0 1332.5H905.5M904.0 1334.5H905.5M904.0 1337.5H905.5M904.0 1339.5H905.5M902.5 1342.5H905.5M904.0 1344.5H905.5M904.0 1347.5H905.5M904.0 1350.5H905.5M904.0 1352.5H905.5M902.5 1355.5H905.5M904.0 1357.5H905.5M904.0 1360.5H905.5M904.0 1362.5H905.5M904.0 1365.5H905.5M902.5 1367.5H905.5M904.0 1370.5H905.5M904.0 1373.5H905.5M904.0 1375.5H905.5M904.0 1378.5H905.5M902.5 1380.5H905.5M908.5 1383.5V1385.0M912.5 1383.5V1385.0M916.5 1383.5V1385.0M920.5 1383.5V1385.0M923.5 1383.5V1386.5M927.5 1383.5V1385.0M931.5 1383.5V1385.0M935.5 1383.5V1385.0M938.5 1383.5V1385.0M942.5 1383.5V1386.5M946.5 1383.5V1385.0M950.5 1383.5V1385.0M954.5 1383.5V1385.0M957.5 1383.5V1385.0M961.5 1383.5V1386.5M965.5 1383.5V1385.0M969.5 1383.5V1385.0M972.5 1383.5V1385.0M976.5 1383.5V1385.0M980.5 1383.5V1386.5M984.5 1383.5V1385.0M988.5 1383.5V1385.0M991.5 1383.5V1385.0M995.5 1383.5V1385.0M999.5 1383.5V1386.5M1003.5 1383.5V1385.0M1006.5 1383.5V1385.0M1010.5 1383.5V1385.0M1014.5 1383.5V1385.0M1018.5 1383.5V1386.5M1022.5 1383.5V1385.0M1025.5 1383.5V1385.0M1029.5 1383.5V1385.0M1033.5 1383.5V1385.0M1037.5 1383.5V1386.5M1040.5 1383.5V1385.0M1044.5 1383.5V1385.0M1048.5 1383.5V1385.0M1052.5 1383.5V1385.0M1056.5 1383.5V1386.5M1059.5 1383.5V1385.0M1063.5 1383.5V1385.0M1067.5 1383.5V1385.0M1071.5 1383.5V1385.0M1074.5 1383.5V1386.5M1078.5 1383.5V1385.0M1082.5 1383.5V1385.0M1086.5 1383.5V1385.0M1089.5 1383.5V1385.0M1093.5 1383.5V1386.5M1097.5 1383.5V1385.0M1101.5 1383.5V1385.0M1105.5 1383.5V1385.0M1108.5 1383.5V1385.0M1112.5 1383.5V1386.5M1116.5 1383.5V1385.0M1120.5 1383.5V1385.0M1123.5 1383.5V1385.0M1127.5 1383.5V1385.0M1131.5 1383.5V1386.5M1135.5 1383.5V1385.0M1139.5 1383.5V1385.0M1142.5 1383.5V1385.0M1146.5 1383.5V1385.0M1150.5 1383.5V1386.5M1154.5 1383.5V1385.0M1157.5 1383.5V1385.0M1161.5 1383.5V1385.0M1165.5 1383.5V1385.0M1169.5 1383.5V1386.5M1173.5 1383.5V1385.0M1176.5 1383.5V1385.0M1180.5 1383.5V1385.0M1184.5 1383.5V1385.0M1188.5 1383.5V1386.5M1191.5 1383.5V1385.0M1195.5 1383.5V1385.0M1199.5 1383.5V1385.0" stroke="#c0c0c0" stroke-width="0.8"/>
<g font-family="Liberation Sans" font-size="4.2" fill="#000" font-weight="bold"><text x="900.5" y="1331.1" text-anchor="end">2</text><text x="900.5" y="1343.9" text-anchor="end">0</text><text x="900.5" y="1356.7" text-anchor="end">-2</text><text x="900.5" y="1369.4" text-anchor="end">-4</text><text x="900.5" y="1382.2" text-anchor="end">-6</text><text x="923.9" y="1390.3" text-anchor="middle">30</text><text x="942.8" y="1390.3" text-anchor="middle">60</text><text x="961.6" y="1390.3" text-anchor="middle">90</text><text x="980.5" y="1390.3" text-anchor="middle">120</text><text x="999.4" y="1390.3" text-anchor="middle">150</text><text x="1018.3" y="1390.3" text-anchor="middle">180</text><text x="1037.1" y="1390.3" text-anchor="middle">210</text><text x="1056.0" y="1390.3" text-anchor="middle">240</text><text x="1074.9" y="1390.3" text-anchor="middle">270</text><text x="1093.7" y="1390.3" text-anchor="middle">300</text><text x="1112.6" y="1390.3" text-anchor="middle">330</text><text x="1131.5" y="1390.3" text-anchor="middle">360</text><text x="1150.4" y="1390.3" text-anchor="middle">390</text><text x="1169.2" y="1390.3" text-anchor="middle">420</text><text x="1188.1" y="1390.3" text-anchor="middle">450</text></g>
<text x="1053.5" y="1397.6" text-anchor="middle" font-family="Liberation Sans" font-size="6.0" font-weight="normal" fill="#111">µm</text>
<text transform="translate(893.7,1354.4) rotate(-90)" x="0" y="0" text-anchor="middle" font-family="Liberation Sans" font-size="6.0" font-weight="bold" fill="#1a1a1a">µm</text>
<rect x="1204.5" y="1325.5" width="23.0" height="8.0" fill="#fff" stroke="#a8a8a8" stroke-width="0.8"/>
<path d="M1206.1 1329.5H1213.2" stroke="#aeaa80" stroke-width="0.9"/>
<text x="1214.2" y="1331.0" font-family="Liberation Sans" font-size="4.3" textLength="10.8" lengthAdjust="spacingAndGlyphs" font-weight="normal" fill="#1a1a1a">Slice 1</text>
<path d="M906.1 1332.3 L907.0 1332.1 L908.1 1332.2 L909.5 1332.0 L910.9 1332.0 L912.6 1331.9 L914.3 1332.2 L916.1 1331.9 L917.9 1332.0 L919.8 1331.7 L921.7 1331.7 L923.6 1331.9 L925.4 1331.7 L926.9 1331.6 L928.5 1331.4 L930.1 1331.4 L931.8 1331.4 L933.6 1331.6 L935.3 1331.6 L937.1 1331.5 L938.9 1331.2 L940.6 1331.2 L942.2 1331.3 L943.8 1331.0 L945.3 1331.2 L946.7 1331.3 L948.0 1331.2 L949.1 1331.1 L951.7 1331.2 L953.5 1331.3 L954.7 1331.1 L955.7 1331.3 L956.6 1331.7 L958.2 1332.4 L959.5 1334.1 L960.9 1335.7 L962.4 1338.2 L964.0 1340.0 L966.2 1342.2 L968.4 1344.2 L969.9 1345.5 L971.4 1346.9 L972.9 1348.1 L975.1 1350.7 L977.3 1352.5 L979.3 1351.5 L981.2 1350.1 L982.9 1351.2 L984.8 1353.1 L986.6 1354.5 L988.6 1355.6 L990.7 1357.0 L992.7 1358.6 L994.6 1359.9 L996.6 1361.4 L998.1 1362.2 L999.6 1363.1 L1001.1 1363.7 L1002.6 1364.4 L1004.6 1365.7 L1006.5 1367.1 L1008.5 1368.8 L1010.0 1370.0 L1011.5 1370.8 L1013.0 1371.9 L1014.5 1372.7 L1016.4 1373.7 L1018.2 1374.4 L1020.4 1374.8 L1022.0 1375.0 L1023.8 1375.3 L1025.7 1375.6 L1027.6 1375.8 L1029.3 1376.3 L1031.3 1376.8 L1033.1 1377.2 L1034.9 1377.3 L1036.7 1377.7 L1038.1 1377.6 L1039.5 1377.6 L1040.9 1377.5 L1042.4 1377.2 L1044.2 1376.9 L1045.7 1376.7 L1047.3 1376.7 L1049.0 1376.4 L1050.7 1376.1 L1052.5 1375.9 L1054.3 1375.8 L1056.0 1375.7 L1057.7 1375.4 L1059.6 1375.4 L1061.4 1375.1 L1063.2 1375.0 L1064.9 1374.7 L1066.5 1374.3 L1067.9 1373.9 L1070.3 1372.9 L1071.9 1372.0 L1073.8 1370.3 L1075.2 1369.0 L1076.7 1367.6 L1078.2 1366.2 L1079.8 1364.7 L1081.3 1362.9 L1083.3 1360.6 L1085.3 1358.2 L1087.2 1356.1 L1088.7 1354.0 L1090.4 1351.5 L1091.7 1349.5 L1093.8 1346.5 L1096.1 1343.6 L1097.6 1341.6 L1099.1 1340.0 L1100.6 1338.3 L1102.9 1335.6 L1105.0 1333.2 L1105.2 1331.8 L1108.0 1331.1 L1109.0 1330.9 L1110.1 1330.9 L1111.3 1331.2 L1112.6 1331.0 L1114.1 1331.3 L1115.6 1331.0 L1117.2 1331.4 L1118.9 1331.2 L1120.7 1331.3 L1122.4 1331.4 L1124.2 1331.5 L1126.1 1331.8 L1127.9 1331.7 L1129.7 1331.6 L1131.5 1331.9 L1133.2 1331.7 L1134.6 1331.6 L1136.1 1331.8 L1137.6 1331.8 L1139.0 1331.6 L1140.5 1331.7 L1142.0 1331.7 L1143.5 1331.4 L1145.0 1331.5 L1146.5 1331.4 L1148.0 1331.4 L1149.6 1331.5 L1151.2 1331.4 L1152.8 1331.1 L1154.4 1331.4 L1156.0 1331.2 L1157.7 1331.1 L1159.4 1331.2 L1161.1 1331.2 L1162.9 1331.1 L1164.3 1331.0 L1165.8 1331.2 L1167.3 1330.9 L1168.9 1331.1 L1170.6 1331.1 L1172.3 1330.8 L1174.0 1330.9 L1175.8 1330.8 L1177.5 1330.8 L1179.3 1331.1 L1181.1 1330.8 L1182.9 1331.0 L1184.6 1331.0 L1186.4 1331.1 L1188.0 1331.0 L1189.7 1331.0 L1191.3 1330.9 L1192.8 1330.7 L1194.2 1330.7 L1195.6 1330.9 L1196.9 1330.9 L1198.1 1330.7 L1199.1 1330.9 L1200.1 1330.8 L1200.9 1330.8" fill="none" stroke="#bcb88e" stroke-width="1.0" stroke-linejoin="round"/>
<rect x="597.5" y="126" width="61.7" height="43.4" fill="none" stroke="#f08cb6" stroke-width="2.1"/>
<rect x="596.6" y="236.9" width="63.7" height="45.8" fill="none" stroke="#f08cb6" stroke-width="2.1"/>
<path d="M500.5 198.3L598 171" stroke="#f08cb6" stroke-width="1.8"/>
<path d="M507 221.5L596 237" stroke="#f08cb6" stroke-width="1.8"/>
<text x="407.33" y="212.19" font-family="Liberation Sans" font-weight="normal" font-size="20.68" textLength="166.87" lengthAdjust="spacingAndGlyphs" fill="#f08cb6" >transition crack</text>
<text x="17.32" y="24.07" font-family="Liberation Sans" font-weight="bold" font-size="32.65" textLength="71.86" lengthAdjust="spacingAndGlyphs" fill="#000" >DOC</text>
<text x="17.21" y="68.04" font-family="Liberation Sans" font-weight="bold" font-size="33.57" textLength="77.56" lengthAdjust="spacingAndGlyphs" fill="#000" >(μm)</text>
<text x="622.31" y="29.41" font-family="Liberation Sans" font-weight="bold" font-size="39.43" textLength="106.09" lengthAdjust="spacingAndGlyphs" fill="#000" >Area</text>
<text x="254.72" y="80.10" font-family="Liberation Sans" font-weight="bold" font-size="46.25" textLength="36.86" lengthAdjust="spacingAndGlyphs" fill="#000" >A</text>
<text x="665.01" y="76.70" font-family="Liberation Sans" font-weight="bold" font-size="45.82" textLength="31.97" lengthAdjust="spacingAndGlyphs" fill="#000" >B</text>
<text x="1026.85" y="75.23" font-family="Liberation Sans" font-weight="bold" font-size="46.64" textLength="31.64" lengthAdjust="spacingAndGlyphs" fill="#000" >C</text>
<path d="M1.5 102.3H620M620 101.6H1233" stroke="#000" stroke-width="3.4" stroke-linecap="round"/>
<path d="M111.7 31.5L111.4 130L110.5 280L109.6 420L109 460L108.3 600L107.9 702" fill="none" stroke="#000" stroke-width="3.2" stroke-linecap="round"/>
<text x="42.33" y="187.62" font-family="Liberation Sans" font-weight="bold" font-size="46.06" textLength="28.95" lengthAdjust="spacingAndGlyphs" fill="#000" >3</text>
<text x="42.14" y="284.50" font-family="Liberation Sans" font-weight="bold" font-size="45.09" textLength="28.17" lengthAdjust="spacingAndGlyphs" fill="#000" >4</text>
<text x="39.19" y="400.95" font-family="Liberation Sans" font-weight="bold" font-size="45.30" textLength="27.53" lengthAdjust="spacingAndGlyphs" fill="#000" >5</text>
<text x="40.18" y="519.63" font-family="Liberation Sans" font-weight="bold" font-size="46.64" textLength="28.47" lengthAdjust="spacingAndGlyphs" fill="#000" >6</text>
<text x="45.75" y="632.10" font-family="Liberation Sans" font-weight="bold" font-size="46.55" textLength="29.47" lengthAdjust="spacingAndGlyphs" fill="#000" >7</text>
<text x="21.88" y="692.66" font-family="Liberation Sans" font-weight="bold" font-size="39.25" textLength="46.82" lengthAdjust="spacingAndGlyphs" fill="#ad0a0a" >(a)</text>
<text x="26.59" y="749.03" font-family="Liberation Sans" font-weight="bold" font-size="26.86" textLength="53.17" lengthAdjust="spacingAndGlyphs" fill="#000" >DOC</text>
<text x="26.35" y="786.88" font-family="Liberation Sans" font-weight="bold" font-size="29.49" textLength="58.49" lengthAdjust="spacingAndGlyphs" fill="#000" >(μm)</text>
<text x="631.13" y="756.96" font-family="Liberation Sans" font-weight="bold" font-size="33.84" textLength="77.25" lengthAdjust="spacingAndGlyphs" fill="#000" >Area</text>
<text x="200.69" y="797.60" font-family="Liberation Sans" font-weight="bold" font-size="39.27" textLength="26.30" lengthAdjust="spacingAndGlyphs" fill="#000" >A</text>
<text x="662.34" y="797.30" font-family="Liberation Sans" font-weight="bold" font-size="39.27" textLength="23.09" lengthAdjust="spacingAndGlyphs" fill="#000" >B</text>
<text x="1034.33" y="796.01" font-family="Liberation Sans" font-weight="bold" font-size="39.29" textLength="22.93" lengthAdjust="spacingAndGlyphs" fill="#000" >C</text>
<path d="M16.7 816.6H670M670 816.0H1246" stroke="#000" stroke-width="3" stroke-linecap="round"/>
<path d="M96.4 756L96 820L94.7 1000L94 1120L93.7 1180L92.8 1413.6" fill="none" stroke="#000" stroke-width="2.8" stroke-linecap="round"/>
<text x="45.54" y="889.63" font-family="Liberation Sans" font-weight="bold" font-size="37.75" textLength="21.24" lengthAdjust="spacingAndGlyphs" fill="#000" >3</text>
<text x="43.75" y="1006.20" font-family="Liberation Sans" font-weight="bold" font-size="39.13" textLength="20.48" lengthAdjust="spacingAndGlyphs" fill="#000" >4</text>
<text x="43.12" y="1117.21" font-family="Liberation Sans" font-weight="bold" font-size="39.28" textLength="20.22" lengthAdjust="spacingAndGlyphs" fill="#000" >5</text>
<text x="45.15" y="1253.30" font-family="Liberation Sans" font-weight="bold" font-size="40.00" textLength="21.56" lengthAdjust="spacingAndGlyphs" fill="#000" >6</text>
<text x="43.71" y="1369.00" font-family="Liberation Sans" font-weight="bold" font-size="39.42" textLength="22.13" lengthAdjust="spacingAndGlyphs" fill="#000" >7</text>
<text x="21.79" y="1406.42" font-family="Liberation Sans" font-weight="bold" font-size="39.89" textLength="48.69" lengthAdjust="spacingAndGlyphs" fill="#ad0a0a" >(b)</text>
</svg></body></html>
